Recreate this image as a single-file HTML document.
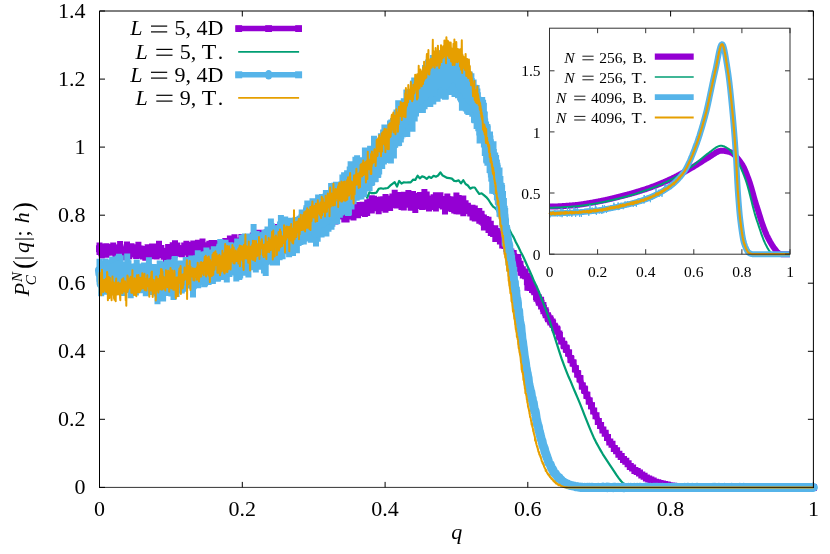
<!DOCTYPE html>
<html><head><meta charset="utf-8"><title>P_C^N(|q|;h)</title>
<style>html,body{margin:0;padding:0;background:#fff;font-family:"Liberation Serif",serif;}svg{display:block;will-change:transform}</style></head>
<body>
<svg width="830" height="554" viewBox="0 0 830 554">
<rect width="830" height="554" fill="#fff"/>
<g font-family="'Liberation Serif', serif" font-size="22" fill="#000">
<text x="85.5" y="494.3" text-anchor="end">0</text>
<text x="85.5" y="426.2" text-anchor="end">0.2</text>
<text x="85.5" y="358.2" text-anchor="end">0.4</text>
<text x="85.5" y="290.1" text-anchor="end">0.6</text>
<text x="85.5" y="222.1" text-anchor="end">0.8</text>
<text x="85.5" y="154.0" text-anchor="end">1</text>
<text x="85.5" y="86.0" text-anchor="end">1.2</text>
<text x="85.5" y="17.9" text-anchor="end">1.4</text>
<text x="99.5" y="516" text-anchor="middle">0</text>
<text x="242.3" y="516" text-anchor="middle">0.2</text>
<text x="385.1" y="516" text-anchor="middle">0.4</text>
<text x="527.8" y="516" text-anchor="middle">0.6</text>
<text x="670.6" y="516" text-anchor="middle">0.8</text>
<text x="813.4" y="516" text-anchor="middle">1</text>
</g>
<path d="M99.5 487.4h5.5M813.4 487.4h-5.5M99.5 419.3h5.5M813.4 419.3h-5.5M99.5 351.3h5.5M813.4 351.3h-5.5M99.5 283.2h5.5M813.4 283.2h-5.5M99.5 215.2h5.5M813.4 215.2h-5.5M99.5 147.1h5.5M813.4 147.1h-5.5M99.5 79.1h5.5M813.4 79.1h-5.5M99.5 11.0h5.5M813.4 11.0h-5.5M99.5 487.4v-5.5M99.5 11.0v5.5M242.3 487.4v-5.5M242.3 11.0v5.5M385.1 487.4v-5.5M385.1 11.0v5.5M527.8 487.4v-5.5M527.8 11.0v5.5M670.6 487.4v-5.5M670.6 11.0v5.5M813.4 487.4v-5.5M813.4 11.0v5.5" stroke="#000" stroke-width="1" fill="none"/>
<g id="main-data">
<path d="M99.5 242.6V254.9M101.8 247.0V258.6M104.1 243.5V255.7M106.4 243.3V257.7M108.7 245.9V255.7M110.9 244.1V255.5M113.2 242.5V255.2M115.5 246.5V257.2M117.8 244.5V258.4M120.1 241.1V254.9M122.4 248.5V260.3M124.7 247.5V257.2M127.0 241.6V257.9M129.2 245.2V259.3M131.5 243.2V257.3M133.8 244.2V257.6M136.1 245.6V258.9M138.4 241.8V256.7M140.7 245.5V258.7M143.0 247.4V259.5M145.3 246.0V260.8M147.6 244.3V257.8M149.8 247.0V258.8M152.1 243.4V254.9M154.4 243.5V259.2M156.7 244.9V259.5M159.0 240.8V258.1M161.3 245.1V257.4M163.6 247.9V259.8M165.9 247.9V262.2M168.1 244.1V260.3M170.4 244.8V259.5M172.7 242.2V256.6M175.0 240.2V257.5M177.3 242.4V254.4M179.6 245.6V256.7M181.9 245.3V257.3M184.2 242.5V255.5M186.4 240.8V255.1M188.7 242.1V257.8M191.0 242.6V257.1M193.3 240.6V257.4M195.6 244.9V256.9M197.9 239.8V257.4M200.2 242.4V254.4M202.5 238.6V254.7M204.8 242.3V254.2M207.0 242.6V257.1M209.3 240.7V254.6M211.6 240.0V254.8M213.9 240.0V255.3M216.2 240.4V253.8M218.5 240.4V254.1M220.8 239.7V254.1M223.1 241.1V252.3M225.3 238.1V250.4M227.6 240.3V250.8M229.9 235.4V249.3M232.2 235.5V254.1M234.5 234.3V249.8M236.8 237.4V249.5M239.1 237.6V250.1M241.4 234.1V250.1M243.7 235.9V248.9M245.9 234.0V244.6M248.2 234.0V245.9M250.5 235.9V247.7M252.8 232.5V244.4M255.1 232.8V248.4M257.4 229.8V244.1M259.7 231.6V242.6M262.0 229.7V242.7M264.2 231.3V243.1M266.5 231.5V243.2M268.8 228.8V239.8M271.1 225.9V243.9M273.4 230.2V243.8M275.7 225.6V241.2M278.0 223.9V240.1M280.3 226.3V239.9M282.6 223.7V239.2M284.8 222.2V237.8M287.1 220.2V235.1M289.4 221.2V240.3M291.7 220.3V235.4M294.0 220.9V234.9M296.3 217.6V233.5M298.6 219.1V237.5M300.9 218.3V235.0M303.1 219.5V233.0M305.4 217.4V230.2M307.7 217.6V230.2M310.0 217.2V230.4M312.3 215.5V231.0M314.6 213.2V229.8M316.9 215.4V225.1M319.2 211.8V226.4M321.4 211.7V224.0M323.7 208.7V225.0M326.0 209.7V226.6M328.3 210.0V223.1M330.6 206.4V220.2M332.9 209.0V221.8M335.2 208.7V224.5M337.5 208.3V219.6M339.8 204.8V217.1M342.0 206.2V219.6M344.3 204.8V222.5M346.6 202.0V222.4M348.9 203.1V218.2M351.2 207.4V219.6M353.5 205.4V220.6M355.8 202.9V216.0M358.1 202.1V218.2M360.3 202.7V215.2M362.6 201.8V216.1M364.9 201.7V216.9M367.2 199.6V215.9M369.5 198.5V213.6M371.8 195.3V213.4M374.1 195.8V211.3M376.4 198.7V209.8M378.7 196.9V214.3M380.9 196.6V211.2M383.2 196.3V210.1M385.5 193.9V212.7M387.8 196.2V209.2M390.1 195.5V211.0M392.4 193.6V207.4M394.7 189.8V208.3M397.0 193.9V208.5M399.2 191.9V207.9M401.5 197.8V210.0M403.8 191.7V210.6M406.1 194.4V207.4M408.4 190.1V207.8M410.7 192.6V210.7M413.0 191.1V209.5M415.3 193.0V212.9M417.6 196.1V209.0M419.8 191.9V208.5M422.1 194.0V210.0M424.4 189.0V205.7M426.7 191.4V209.7M429.0 195.5V211.5M431.3 196.0V209.8M433.6 194.3V209.9M435.9 192.2V211.6M438.1 193.4V206.5M440.4 192.2V208.2M442.7 195.9V209.5M445.0 195.9V214.4M447.3 193.5V205.4M449.6 196.3V211.4M451.9 196.4V212.1M454.2 197.2V213.5M456.4 192.5V214.2M458.7 194.9V214.5M461.0 199.8V213.1M463.3 195.6V216.2M465.6 200.3V213.0M467.9 202.8V213.9M470.2 204.8V216.6M472.5 204.8V220.4M474.8 205.4V221.5M477.0 210.3V220.2M479.3 208.0V223.7M481.6 210.7V224.7M483.9 214.5V230.5M486.2 216.0V229.5M488.5 216.7V232.9M490.8 220.8V236.1M493.1 225.4V236.9M495.3 225.2V242.0M497.6 227.9V242.0M499.9 229.5V244.5M502.2 232.4V248.4M504.5 237.6V249.0M506.8 241.7V254.7M509.1 244.4V255.8M511.4 248.5V259.6M513.7 250.1V263.4M515.9 255.5V268.8M518.2 254.0V269.0M520.5 260.7V275.7M522.8 266.3V278.5M525.1 268.6V279.3M527.4 272.9V290.7M529.7 275.3V290.9M532.0 281.4V292.9M534.2 285.3V295.2M536.5 291.2V301.8M538.8 294.2V305.7M541.1 296.8V309.6M543.4 302.1V314.3M545.7 307.2V318.3M548.0 312.3V322.3M550.3 315.2V325.5M552.6 318.5V328.0M554.8 322.7V332.5M557.1 325.4V334.8M559.4 330.5V340.6M561.7 337.7V344.3M564.0 340.7V349.2M566.3 344.6V353.0M568.6 349.6V356.7M570.9 355.1V363.3M573.1 359.6V366.5M575.4 365.2V372.4M577.7 370.1V377.6M580.0 375.1V382.5M582.3 382.6V389.4M584.6 385.6V394.0M586.9 391.7V399.0M589.2 397.4V404.6M591.5 402.4V409.3M593.7 408.0V413.8M596.0 413.0V418.5M598.3 418.0V424.8M600.6 422.7V428.3M602.9 428.0V432.2M605.2 431.4V435.2M607.5 434.7V440.3M609.8 439.6V444.2M612.0 441.8V446.8M614.3 446.3V450.8M616.6 448.5V453.0M618.9 451.9V456.4M621.2 454.7V458.3M623.5 457.3V461.5M625.8 459.0V463.7M628.1 461.6V466.0M630.3 465.1V467.9M632.6 466.4V469.3M634.9 469.1V471.9M637.2 469.9V473.2M639.5 471.2V474.8M641.8 473.3V476.5M644.1 475.2V477.3M646.4 476.6V479.4M648.7 477.5V480.4M650.9 479.0V481.2M653.2 479.6V482.5M655.5 481.4V483.2M657.8 481.7V483.9M660.1 482.3V484.6M662.4 483.2V484.5M664.7 483.8V485.1M667.0 484.4V485.8M669.2 484.9V486.5M671.5 485.7V486.5M673.8 485.7V486.8M676.1 486.2V487.2M678.4 486.5V487.4M680.7 486.7V487.5M683.0 487.0V487.8M685.3 486.8V487.6M687.6 487.1V487.8M689.8 487.1V488.1M692.1 487.0V487.7M694.4 487.0V487.8M696.7 486.9V487.6M699.0 487.0V487.7M701.3 487.1V487.9M703.6 487.0V487.7M705.9 487.0V487.8M708.1 486.9V487.8M710.4 487.0V487.8M712.7 487.1V487.8M715.0 487.0V487.8M719.6 487.1V487.8M728.7 487.0V487.7M733.3 487.1V487.7" stroke="#9400d3" stroke-width="6" fill="none"/>
<polyline points="99.5,248.8 101.8,252.8 104.1,249.6 106.4,250.5 108.7,250.8 110.9,249.8 113.2,248.8 115.5,251.9 117.8,251.4 120.1,248.0 122.4,254.4 124.7,252.4 127.0,249.8 129.2,252.3 131.5,250.2 133.8,250.9 136.1,252.3 138.4,249.3 140.7,252.1 143.0,253.4 145.3,253.4 147.6,251.1 149.8,252.9 152.1,249.1 154.4,251.3 156.7,252.2 159.0,249.4 161.3,251.3 163.6,253.9 165.9,255.1 168.1,252.2 170.4,252.2 172.7,249.4 175.0,248.9 177.3,248.4 179.6,251.2 181.9,251.3 184.2,249.0 186.4,247.9 188.7,250.0 191.0,249.8 193.3,249.0 195.6,250.9 197.9,248.6 200.2,248.4 202.5,246.6 204.8,248.3 207.0,249.8 209.3,247.6 211.6,247.4 213.9,247.6 216.2,247.1 218.5,247.2 220.8,246.9 223.1,246.7 225.3,244.3 227.6,245.6 229.9,242.3 232.2,244.8 234.5,242.1 236.8,243.5 239.1,243.9 241.4,242.1 243.7,242.4 245.9,239.3 248.2,240.0 250.5,241.8 252.8,238.5 255.1,240.6 257.4,237.0 259.7,237.1 262.0,236.2 264.2,237.2 266.5,237.3 268.8,234.3 271.1,234.9 273.4,237.0 275.7,233.4 278.0,232.0 280.3,233.1 282.6,231.5 284.8,230.0 287.1,227.6 289.4,230.8 291.7,227.9 294.0,227.9 296.3,225.5 298.6,228.3 300.9,226.7 303.1,226.2 305.4,223.8 307.7,223.9 310.0,223.8 312.3,223.3 314.6,221.5 316.9,220.2 319.2,219.1 321.4,217.8 323.7,216.8 326.0,218.2 328.3,216.6 330.6,213.3 332.9,215.4 335.2,216.6 337.5,213.9 339.8,211.0 342.0,212.9 344.3,213.7 346.6,212.2 348.9,210.7 351.2,213.5 353.5,213.0 355.8,209.4 358.1,210.2 360.3,208.9 362.6,208.9 364.9,209.3 367.2,207.7 369.5,206.0 371.8,204.4 374.1,203.6 376.4,204.3 378.7,205.6 380.9,203.9 383.2,203.2 385.5,203.3 387.8,202.7 390.1,203.2 392.4,200.5 394.7,199.0 397.0,201.2 399.2,199.9 401.5,203.9 403.8,201.1 406.1,200.9 408.4,198.9 410.7,201.6 413.0,200.3 415.3,202.9 417.6,202.5 419.8,200.2 422.1,202.0 424.4,197.4 426.7,200.5 429.0,203.5 431.3,202.9 433.6,202.1 435.9,201.9 438.1,199.9 440.4,200.2 442.7,202.7 445.0,205.2 447.3,199.4 449.6,203.9 451.9,204.3 454.2,205.3 456.4,203.3 458.7,204.7 461.0,206.5 463.3,205.9 465.6,206.7 467.9,208.3 470.2,210.7 472.5,212.6 474.8,213.4 477.0,215.2 479.3,215.9 481.6,217.7 483.9,222.5 486.2,222.8 488.5,224.8 490.8,228.5 493.1,231.2 495.3,233.6 497.6,234.9 499.9,237.0 502.2,240.4 504.5,243.3 506.8,248.2 509.1,250.1 511.4,254.0 513.7,256.7 515.9,262.2 518.2,261.5 520.5,268.2 522.8,272.4 525.1,274.0 527.4,281.8 529.7,283.1 532.0,287.1 534.2,290.2 536.5,296.5 538.8,299.9 541.1,303.2 543.4,308.2 545.7,312.8 548.0,317.3 550.3,320.3 552.6,323.2 554.8,327.6 557.1,330.1 559.4,335.6 561.7,341.0 564.0,345.0 566.3,348.8 568.6,353.1 570.9,359.2 573.1,363.1 575.4,368.8 577.7,373.9 580.0,378.8 582.3,386.0 584.6,389.8 586.9,395.3 589.2,401.0 591.5,405.8 593.7,410.9 596.0,415.8 598.3,421.4 600.6,425.5 602.9,430.1 605.2,433.3 607.5,437.5 609.8,441.9 612.0,444.3 614.3,448.6 616.6,450.7 618.9,454.2 621.2,456.5 623.5,459.4 625.8,461.3 628.1,463.8 630.3,466.5 632.6,467.9 634.9,470.5 637.2,471.5 639.5,473.0 641.8,474.9 644.1,476.2 646.4,478.0 648.7,479.0 650.9,480.1 653.2,481.0 655.5,482.3 657.8,482.8 660.1,483.5 662.4,483.9 664.7,484.5 667.0,485.1 669.2,485.7 671.5,486.1 673.8,486.2 676.1,486.7 678.4,486.9 680.7,487.1 683.0,487.4 685.3,487.2 687.6,487.4 689.8,487.6 692.1,487.3 694.4,487.4 696.7,487.2 699.0,487.3 701.3,487.5 703.6,487.3 705.9,487.4 708.1,487.4 710.4,487.4 712.7,487.4 715.0,487.4 717.3,487.5 719.6,487.5 721.9,487.4 724.2,487.5 726.5,487.5 728.7,487.3 731.0,487.4 733.3,487.4 735.6,487.5 737.9,487.4 740.2,487.3 742.5,487.4 744.8,487.3 747.0,487.4 749.3,487.5 751.6,487.4 753.9,487.4 756.2,487.4 758.5,487.4 760.8,487.4 763.1,487.4 765.3,487.4 767.6,487.4 769.9,487.4 772.2,487.4 774.5,487.4 776.8,487.4 779.1,487.4 781.4,487.4 783.7,487.4 785.9,487.4 788.2,487.4 790.5,487.4 792.8,487.4 795.1,487.4 797.4,487.4 799.7,487.4 802.0,487.4 804.2,487.4 806.5,487.4 808.8,487.4 811.1,487.4 813.4,487.4" stroke="#9400d3" stroke-width="5.5" fill="none" stroke-linejoin="round"/>
<path d="M96.0 245.3h7.0v7.0h-7.0zM98.3 249.3h7.0v7.0h-7.0zM100.6 246.1h7.0v7.0h-7.0zM102.9 247.0h7.0v7.0h-7.0zM105.2 247.3h7.0v7.0h-7.0zM107.4 246.3h7.0v7.0h-7.0zM109.7 245.3h7.0v7.0h-7.0zM112.0 248.4h7.0v7.0h-7.0zM114.3 247.9h7.0v7.0h-7.0zM116.6 244.5h7.0v7.0h-7.0zM118.9 250.9h7.0v7.0h-7.0zM121.2 248.9h7.0v7.0h-7.0zM123.5 246.3h7.0v7.0h-7.0zM125.7 248.8h7.0v7.0h-7.0zM128.0 246.7h7.0v7.0h-7.0zM130.3 247.4h7.0v7.0h-7.0zM132.6 248.8h7.0v7.0h-7.0zM134.9 245.8h7.0v7.0h-7.0zM137.2 248.6h7.0v7.0h-7.0zM139.5 249.9h7.0v7.0h-7.0zM141.8 249.9h7.0v7.0h-7.0zM144.1 247.6h7.0v7.0h-7.0zM146.3 249.4h7.0v7.0h-7.0zM148.6 245.6h7.0v7.0h-7.0zM150.9 247.8h7.0v7.0h-7.0zM153.2 248.7h7.0v7.0h-7.0zM155.5 245.9h7.0v7.0h-7.0zM157.8 247.8h7.0v7.0h-7.0zM160.1 250.4h7.0v7.0h-7.0zM162.4 251.6h7.0v7.0h-7.0zM164.6 248.7h7.0v7.0h-7.0zM166.9 248.7h7.0v7.0h-7.0zM169.2 245.9h7.0v7.0h-7.0zM171.5 245.4h7.0v7.0h-7.0zM173.8 244.9h7.0v7.0h-7.0zM176.1 247.7h7.0v7.0h-7.0zM178.4 247.8h7.0v7.0h-7.0zM180.7 245.5h7.0v7.0h-7.0zM182.9 244.4h7.0v7.0h-7.0zM185.2 246.5h7.0v7.0h-7.0zM187.5 246.3h7.0v7.0h-7.0zM189.8 245.5h7.0v7.0h-7.0zM192.1 247.4h7.0v7.0h-7.0zM194.4 245.1h7.0v7.0h-7.0zM196.7 244.9h7.0v7.0h-7.0zM199.0 243.1h7.0v7.0h-7.0zM201.3 244.8h7.0v7.0h-7.0zM203.5 246.3h7.0v7.0h-7.0zM205.8 244.1h7.0v7.0h-7.0zM208.1 243.9h7.0v7.0h-7.0zM210.4 244.1h7.0v7.0h-7.0zM212.7 243.6h7.0v7.0h-7.0zM215.0 243.7h7.0v7.0h-7.0zM217.3 243.4h7.0v7.0h-7.0zM219.6 243.2h7.0v7.0h-7.0zM221.8 240.8h7.0v7.0h-7.0zM224.1 242.1h7.0v7.0h-7.0zM226.4 238.8h7.0v7.0h-7.0zM228.7 241.3h7.0v7.0h-7.0zM231.0 238.6h7.0v7.0h-7.0zM233.3 240.0h7.0v7.0h-7.0zM235.6 240.4h7.0v7.0h-7.0zM237.9 238.6h7.0v7.0h-7.0zM240.2 238.9h7.0v7.0h-7.0zM242.4 235.8h7.0v7.0h-7.0zM244.7 236.5h7.0v7.0h-7.0zM247.0 238.3h7.0v7.0h-7.0zM249.3 235.0h7.0v7.0h-7.0zM251.6 237.1h7.0v7.0h-7.0zM253.9 233.5h7.0v7.0h-7.0zM256.2 233.6h7.0v7.0h-7.0zM258.5 232.7h7.0v7.0h-7.0zM260.7 233.7h7.0v7.0h-7.0zM263.0 233.8h7.0v7.0h-7.0zM265.3 230.8h7.0v7.0h-7.0zM267.6 231.4h7.0v7.0h-7.0zM269.9 233.5h7.0v7.0h-7.0zM272.2 229.9h7.0v7.0h-7.0zM274.5 228.5h7.0v7.0h-7.0zM276.8 229.6h7.0v7.0h-7.0zM279.1 228.0h7.0v7.0h-7.0zM281.3 226.5h7.0v7.0h-7.0zM283.6 224.1h7.0v7.0h-7.0zM285.9 227.3h7.0v7.0h-7.0zM288.2 224.4h7.0v7.0h-7.0zM290.5 224.4h7.0v7.0h-7.0zM292.8 222.0h7.0v7.0h-7.0zM295.1 224.8h7.0v7.0h-7.0zM297.4 223.2h7.0v7.0h-7.0zM299.6 222.7h7.0v7.0h-7.0zM301.9 220.3h7.0v7.0h-7.0zM304.2 220.4h7.0v7.0h-7.0zM306.5 220.3h7.0v7.0h-7.0zM308.8 219.8h7.0v7.0h-7.0zM311.1 218.0h7.0v7.0h-7.0zM313.4 216.7h7.0v7.0h-7.0zM315.7 215.6h7.0v7.0h-7.0zM317.9 214.3h7.0v7.0h-7.0zM320.2 213.3h7.0v7.0h-7.0zM322.5 214.7h7.0v7.0h-7.0zM324.8 213.1h7.0v7.0h-7.0zM327.1 209.8h7.0v7.0h-7.0zM329.4 211.9h7.0v7.0h-7.0zM331.7 213.1h7.0v7.0h-7.0zM334.0 210.4h7.0v7.0h-7.0zM336.3 207.5h7.0v7.0h-7.0zM338.5 209.4h7.0v7.0h-7.0zM340.8 210.2h7.0v7.0h-7.0zM343.1 208.7h7.0v7.0h-7.0zM345.4 207.2h7.0v7.0h-7.0zM347.7 210.0h7.0v7.0h-7.0zM350.0 209.5h7.0v7.0h-7.0zM352.3 205.9h7.0v7.0h-7.0zM354.6 206.7h7.0v7.0h-7.0zM356.8 205.4h7.0v7.0h-7.0zM359.1 205.4h7.0v7.0h-7.0zM361.4 205.8h7.0v7.0h-7.0zM363.7 204.2h7.0v7.0h-7.0zM366.0 202.5h7.0v7.0h-7.0zM368.3 200.9h7.0v7.0h-7.0zM370.6 200.1h7.0v7.0h-7.0zM372.9 200.8h7.0v7.0h-7.0zM375.2 202.1h7.0v7.0h-7.0zM377.4 200.4h7.0v7.0h-7.0zM379.7 199.7h7.0v7.0h-7.0zM382.0 199.8h7.0v7.0h-7.0zM384.3 199.2h7.0v7.0h-7.0zM386.6 199.7h7.0v7.0h-7.0zM388.9 197.0h7.0v7.0h-7.0zM391.2 195.5h7.0v7.0h-7.0zM393.5 197.7h7.0v7.0h-7.0zM395.7 196.4h7.0v7.0h-7.0zM398.0 200.4h7.0v7.0h-7.0zM400.3 197.6h7.0v7.0h-7.0zM402.6 197.4h7.0v7.0h-7.0zM404.9 195.4h7.0v7.0h-7.0zM407.2 198.1h7.0v7.0h-7.0zM409.5 196.8h7.0v7.0h-7.0zM411.8 199.4h7.0v7.0h-7.0zM414.1 199.0h7.0v7.0h-7.0zM416.3 196.7h7.0v7.0h-7.0zM418.6 198.5h7.0v7.0h-7.0zM420.9 193.9h7.0v7.0h-7.0zM423.2 197.0h7.0v7.0h-7.0zM425.5 200.0h7.0v7.0h-7.0zM427.8 199.4h7.0v7.0h-7.0zM430.1 198.6h7.0v7.0h-7.0zM432.4 198.4h7.0v7.0h-7.0zM434.6 196.4h7.0v7.0h-7.0zM436.9 196.7h7.0v7.0h-7.0zM439.2 199.2h7.0v7.0h-7.0zM441.5 201.7h7.0v7.0h-7.0zM443.8 195.9h7.0v7.0h-7.0zM446.1 200.4h7.0v7.0h-7.0zM448.4 200.8h7.0v7.0h-7.0zM450.7 201.8h7.0v7.0h-7.0zM452.9 199.8h7.0v7.0h-7.0zM455.2 201.2h7.0v7.0h-7.0zM457.5 203.0h7.0v7.0h-7.0zM459.8 202.4h7.0v7.0h-7.0zM462.1 203.2h7.0v7.0h-7.0zM464.4 204.8h7.0v7.0h-7.0zM466.7 207.2h7.0v7.0h-7.0zM469.0 209.1h7.0v7.0h-7.0zM471.3 209.9h7.0v7.0h-7.0zM473.5 211.7h7.0v7.0h-7.0zM475.8 212.4h7.0v7.0h-7.0zM478.1 214.2h7.0v7.0h-7.0zM480.4 219.0h7.0v7.0h-7.0zM482.7 219.3h7.0v7.0h-7.0zM485.0 221.3h7.0v7.0h-7.0zM487.3 225.0h7.0v7.0h-7.0zM489.6 227.7h7.0v7.0h-7.0zM491.8 230.1h7.0v7.0h-7.0zM494.1 231.4h7.0v7.0h-7.0zM496.4 233.5h7.0v7.0h-7.0zM498.7 236.9h7.0v7.0h-7.0zM501.0 239.8h7.0v7.0h-7.0zM503.3 244.7h7.0v7.0h-7.0zM505.6 246.6h7.0v7.0h-7.0zM507.9 250.5h7.0v7.0h-7.0zM510.2 253.2h7.0v7.0h-7.0zM512.4 258.7h7.0v7.0h-7.0zM514.7 258.0h7.0v7.0h-7.0zM517.0 264.7h7.0v7.0h-7.0zM519.3 268.9h7.0v7.0h-7.0zM521.6 270.5h7.0v7.0h-7.0zM523.9 278.3h7.0v7.0h-7.0zM526.2 279.6h7.0v7.0h-7.0zM528.5 283.6h7.0v7.0h-7.0zM530.7 286.7h7.0v7.0h-7.0zM533.0 293.0h7.0v7.0h-7.0zM535.3 296.4h7.0v7.0h-7.0zM537.6 299.7h7.0v7.0h-7.0zM539.9 304.7h7.0v7.0h-7.0zM542.2 309.3h7.0v7.0h-7.0zM544.5 313.8h7.0v7.0h-7.0zM546.8 316.8h7.0v7.0h-7.0zM549.1 319.7h7.0v7.0h-7.0zM551.3 324.1h7.0v7.0h-7.0zM553.6 326.6h7.0v7.0h-7.0zM555.9 332.1h7.0v7.0h-7.0zM558.2 337.5h7.0v7.0h-7.0zM560.5 341.5h7.0v7.0h-7.0zM562.8 345.3h7.0v7.0h-7.0zM565.1 349.6h7.0v7.0h-7.0zM567.4 355.7h7.0v7.0h-7.0zM569.6 359.6h7.0v7.0h-7.0zM571.9 365.3h7.0v7.0h-7.0zM574.2 370.4h7.0v7.0h-7.0zM576.5 375.3h7.0v7.0h-7.0zM578.8 382.5h7.0v7.0h-7.0zM581.1 386.3h7.0v7.0h-7.0zM583.4 391.8h7.0v7.0h-7.0zM585.7 397.5h7.0v7.0h-7.0zM588.0 402.3h7.0v7.0h-7.0zM590.2 407.4h7.0v7.0h-7.0zM592.5 412.3h7.0v7.0h-7.0zM594.8 417.9h7.0v7.0h-7.0zM597.1 422.0h7.0v7.0h-7.0zM599.4 426.6h7.0v7.0h-7.0zM601.7 429.8h7.0v7.0h-7.0zM604.0 434.0h7.0v7.0h-7.0zM606.3 438.4h7.0v7.0h-7.0zM608.5 440.8h7.0v7.0h-7.0zM610.8 445.1h7.0v7.0h-7.0zM613.1 447.2h7.0v7.0h-7.0zM615.4 450.7h7.0v7.0h-7.0zM617.7 453.0h7.0v7.0h-7.0zM620.0 455.9h7.0v7.0h-7.0zM622.3 457.8h7.0v7.0h-7.0zM624.6 460.3h7.0v7.0h-7.0zM626.8 463.0h7.0v7.0h-7.0zM629.1 464.4h7.0v7.0h-7.0zM631.4 467.0h7.0v7.0h-7.0zM633.7 468.0h7.0v7.0h-7.0zM636.0 469.5h7.0v7.0h-7.0zM638.3 471.4h7.0v7.0h-7.0zM640.6 472.7h7.0v7.0h-7.0zM642.9 474.5h7.0v7.0h-7.0zM645.2 475.5h7.0v7.0h-7.0zM647.4 476.6h7.0v7.0h-7.0zM649.7 477.5h7.0v7.0h-7.0zM652.0 478.8h7.0v7.0h-7.0zM654.3 479.3h7.0v7.0h-7.0zM656.6 480.0h7.0v7.0h-7.0zM658.9 480.4h7.0v7.0h-7.0zM661.2 481.0h7.0v7.0h-7.0zM663.5 481.6h7.0v7.0h-7.0zM665.7 482.2h7.0v7.0h-7.0zM668.0 482.6h7.0v7.0h-7.0zM670.3 482.7h7.0v7.0h-7.0zM672.6 483.2h7.0v7.0h-7.0zM674.9 483.4h7.0v7.0h-7.0zM677.2 483.6h7.0v7.0h-7.0zM679.5 483.9h7.0v7.0h-7.0zM681.8 483.7h7.0v7.0h-7.0zM684.1 483.9h7.0v7.0h-7.0zM686.3 484.1h7.0v7.0h-7.0zM688.6 483.8h7.0v7.0h-7.0zM690.9 483.9h7.0v7.0h-7.0zM693.2 483.7h7.0v7.0h-7.0zM695.5 483.8h7.0v7.0h-7.0zM697.8 484.0h7.0v7.0h-7.0zM700.1 483.8h7.0v7.0h-7.0zM702.4 483.9h7.0v7.0h-7.0zM704.6 483.9h7.0v7.0h-7.0zM706.9 483.9h7.0v7.0h-7.0zM709.2 483.9h7.0v7.0h-7.0zM711.5 483.9h7.0v7.0h-7.0zM713.8 484.0h7.0v7.0h-7.0zM716.1 484.0h7.0v7.0h-7.0zM718.4 483.9h7.0v7.0h-7.0zM720.7 484.0h7.0v7.0h-7.0zM723.0 484.0h7.0v7.0h-7.0zM725.2 483.8h7.0v7.0h-7.0zM727.5 483.9h7.0v7.0h-7.0zM729.8 483.9h7.0v7.0h-7.0zM732.1 484.0h7.0v7.0h-7.0zM734.4 483.9h7.0v7.0h-7.0zM736.7 483.8h7.0v7.0h-7.0zM739.0 483.9h7.0v7.0h-7.0zM741.3 483.8h7.0v7.0h-7.0zM743.5 483.9h7.0v7.0h-7.0zM745.8 484.0h7.0v7.0h-7.0zM748.1 483.9h7.0v7.0h-7.0zM750.4 483.9h7.0v7.0h-7.0zM752.7 483.9h7.0v7.0h-7.0zM755.0 483.9h7.0v7.0h-7.0zM757.3 483.9h7.0v7.0h-7.0zM759.6 483.9h7.0v7.0h-7.0zM761.8 483.9h7.0v7.0h-7.0zM764.1 483.9h7.0v7.0h-7.0zM766.4 483.9h7.0v7.0h-7.0zM768.7 483.9h7.0v7.0h-7.0zM771.0 483.9h7.0v7.0h-7.0zM773.3 483.9h7.0v7.0h-7.0zM775.6 483.9h7.0v7.0h-7.0zM777.9 483.9h7.0v7.0h-7.0zM780.2 483.9h7.0v7.0h-7.0zM782.4 483.9h7.0v7.0h-7.0zM784.7 483.9h7.0v7.0h-7.0zM787.0 483.9h7.0v7.0h-7.0zM789.3 483.9h7.0v7.0h-7.0zM791.6 483.9h7.0v7.0h-7.0zM793.9 483.9h7.0v7.0h-7.0zM796.2 483.9h7.0v7.0h-7.0zM798.5 483.9h7.0v7.0h-7.0zM800.7 483.9h7.0v7.0h-7.0zM803.0 483.9h7.0v7.0h-7.0zM805.3 483.9h7.0v7.0h-7.0zM807.6 483.9h7.0v7.0h-7.0zM809.9 483.9h7.0v7.0h-7.0z" fill="#9400d3"/>
<polyline points="99.5,274.8 101.8,275.8 104.1,277.6 106.4,275.0 108.7,271.7 110.9,276.9 113.2,274.5 115.5,276.6 117.8,274.0 120.1,275.2 122.4,274.5 124.7,274.7 127.0,276.7 129.2,273.6 131.5,275.0 133.8,275.0 136.1,274.1 138.4,271.2 140.7,275.3 143.0,270.1 145.3,272.3 147.6,274.0 149.8,275.4 152.1,276.1 154.4,276.0 156.7,275.7 159.0,274.1 161.3,276.6 163.6,274.3 165.9,276.5 168.1,271.1 170.4,273.2 172.7,273.8 175.0,274.6 177.3,270.6 179.6,275.6 181.9,275.7 184.2,275.1 186.4,272.7 188.7,275.5 191.0,271.9 193.3,273.8 195.6,271.7 197.9,271.3 200.2,270.5 202.5,270.2 204.8,271.4 207.0,271.3 209.3,270.6 211.6,269.1 213.9,268.1 216.2,267.0 218.5,268.4 220.8,264.1 223.1,263.1 225.3,263.4 227.6,259.9 229.9,261.4 232.2,260.9 234.5,258.6 236.8,258.6 239.1,259.9 241.4,257.6 243.7,257.3 245.9,258.1 248.2,254.6 250.5,252.8 252.8,253.6 255.1,253.4 257.4,248.8 259.7,251.7 262.0,249.0 264.2,247.7 266.5,245.9 268.8,245.8 271.1,246.4 273.4,244.4 275.7,243.6 278.0,240.5 280.3,242.3 282.6,240.5 284.8,237.1 287.1,231.6 289.4,234.5 291.7,237.5 294.0,231.6 296.3,228.7 298.6,231.7 300.9,226.7 303.1,227.1 305.4,226.2 307.7,221.3 310.0,222.5 312.3,222.9 314.6,219.2 316.9,219.5 319.2,217.0 321.4,217.2 323.7,217.1 326.0,211.0 328.3,210.9 330.6,210.7 332.9,207.8 335.2,206.3 337.5,206.0 339.8,205.1 342.0,203.5 344.3,204.1 346.6,203.9 348.9,202.9 351.2,201.9 353.5,201.9 355.8,196.9 358.1,198.0 360.3,197.7 362.6,197.3 364.9,193.0 367.2,197.7 369.5,192.3 371.8,193.2 374.1,193.1 376.4,192.7 378.7,188.9 380.9,188.3 383.2,188.8 385.5,188.3 387.8,188.0 390.1,185.7 392.4,183.9 394.7,182.2 397.0,186.5 399.2,180.9 401.5,183.6 403.8,182.3 406.1,182.5 408.4,182.3 410.7,182.4 413.0,179.7 415.3,179.9 417.6,175.7 419.8,178.3 422.1,176.3 424.4,177.1 426.7,178.9 429.0,176.7 431.3,178.0 433.6,175.8 435.9,176.7 438.1,175.5 440.4,172.3 442.7,175.6 445.0,176.7 447.3,177.9 449.6,178.2 451.9,178.6 454.2,180.9 456.4,181.1 458.7,180.3 461.0,183.3 463.3,180.2 465.6,184.0 467.9,185.5 470.2,188.7 472.5,187.5 474.8,187.5 477.0,190.8 479.3,194.0 481.6,193.3 483.9,195.1 486.2,197.1 488.5,199.7 490.8,203.5 493.1,206.7 495.3,208.2 497.6,210.8 499.9,215.7 502.2,217.8 504.5,221.5 506.8,225.1 509.1,229.1 511.4,233.6 513.7,237.4 515.9,242.2 518.2,246.5 520.5,251.4 522.8,255.8 525.1,260.8 527.4,266.0 529.7,271.0 532.0,276.1 534.2,281.6 536.5,286.2 538.8,291.5 541.1,297.7 543.4,303.3 545.7,309.7 548.0,315.9 550.3,322.7 552.6,330.4 554.8,337.5 557.1,344.7 559.4,351.9 561.7,358.9 564.0,365.1 566.3,371.1 568.6,376.8 570.9,381.9 573.1,387.3 575.4,392.7 577.7,398.2 580.0,403.7 582.3,409.4 584.6,415.4 586.9,421.2 589.2,426.9 591.5,432.4 593.7,437.4 596.0,442.1 598.3,446.3 600.6,450.4 602.9,454.3 605.2,457.9 607.5,461.4 609.8,464.8 612.0,468.2 614.3,471.7 616.6,475.2 618.9,478.4 621.2,481.3 623.5,483.5 625.8,484.8 628.1,485.8 630.3,486.6 632.6,487.2 634.9,487.4 637.2,487.4 639.5,487.4 641.8,487.4 644.1,487.4 646.4,487.4 648.7,487.4 650.9,487.4 653.2,487.4 655.5,487.4 657.8,487.4 660.1,487.4 662.4,487.4 664.7,487.4 667.0,487.4 669.2,487.4 671.5,487.4 673.8,487.4 676.1,487.4 678.4,487.4 680.7,487.4 683.0,487.4 685.3,487.4 687.6,487.4 689.8,487.4 692.1,487.4 694.4,487.4 696.7,487.4 699.0,487.4 701.3,487.4 703.6,487.4 705.9,487.4 708.1,487.4 710.4,487.4 712.7,487.4 715.0,487.4 717.3,487.4 719.6,487.4 721.9,487.4 724.2,487.4 726.5,487.4 728.7,487.4 731.0,487.4 733.3,487.4 735.6,487.4 737.9,487.4 740.2,487.4 742.5,487.4 744.8,487.4 747.0,487.4 749.3,487.4 751.6,487.4 753.9,487.4 756.2,487.4 758.5,487.4 760.8,487.4 763.1,487.4 765.3,487.4 767.6,487.4 769.9,487.4 772.2,487.4 774.5,487.4 776.8,487.4 779.1,487.4 781.4,487.4 783.7,487.4 785.9,487.4 788.2,487.4 790.5,487.4 792.8,487.4 795.1,487.4 797.4,487.4 799.7,487.4 802.0,487.4 804.2,487.4 806.5,487.4 808.8,487.4 811.1,487.4 813.4,487.4" stroke="#009e73" stroke-width="2.2" fill="none" stroke-linejoin="round"/>
<path d="M99.5 258.8V281.7M99.9 263.5V284.6M100.4 265.5V284.2M100.8 267.2V283.7M101.2 272.6V296.3M101.7 277.4V289.9M102.1 267.0V284.8M102.5 270.1V284.4M103.0 263.1V281.0M103.4 266.5V288.8M103.8 260.8V279.6M104.3 273.4V291.8M104.7 264.2V283.8M105.1 266.0V291.8M105.6 258.5V282.6M106.0 272.5V293.0M106.4 270.4V288.2M106.9 276.1V294.7M107.3 266.5V287.4M107.7 259.8V278.9M108.2 263.4V282.9M108.6 262.7V279.4M109.0 276.1V291.8M109.5 265.7V282.3M109.9 263.1V283.8M110.3 271.0V288.2M110.8 264.2V292.1M111.2 268.3V290.1M111.6 263.7V285.8M112.1 256.5V279.6M112.5 262.5V279.4M112.9 259.0V275.5M113.4 273.3V292.7M113.8 270.3V292.3M114.2 264.6V286.5M114.7 267.4V292.8M115.1 268.1V292.7M115.5 268.4V292.0M116.0 267.9V291.7M116.4 270.8V292.0M116.8 266.3V289.4M117.3 257.6V277.2M117.7 255.4V274.6M118.1 271.5V295.0M118.5 272.6V288.0M119.0 253.7V278.7M119.4 265.2V291.6M119.8 264.1V283.3M120.3 263.7V286.7M120.7 255.3V276.5M121.1 272.4V290.1M121.6 266.4V288.3M122.0 270.2V292.7M122.4 270.7V294.8M122.9 273.7V293.6M123.3 274.7V296.0M123.7 269.7V288.7M124.2 266.8V290.9M124.6 264.7V285.3M125.0 268.5V292.2M125.5 267.4V286.3M125.9 261.9V283.3M126.3 274.3V292.5M126.8 271.9V290.6M127.2 253.5V278.1M127.6 259.3V279.8M128.1 266.6V287.4M128.5 260.2V283.6M128.9 274.4V292.9M129.4 265.3V292.5M129.8 271.4V290.0M130.2 272.5V292.3M130.7 270.2V298.2M131.1 269.0V284.7M131.5 267.6V294.4M132.0 268.1V290.5M132.4 270.4V293.2M132.8 271.8V289.6M133.3 273.8V295.6M133.7 272.1V289.2M134.1 263.8V288.2M134.6 268.5V289.0M135.0 263.4V282.6M135.4 269.8V289.5M135.9 274.8V295.5M136.3 263.3V287.6M136.7 259.4V281.8M137.2 268.4V287.2M137.6 266.6V285.1M138.0 269.2V287.2M138.5 263.6V287.4M138.9 267.1V289.9M139.3 264.6V282.4M139.8 277.3V293.3M140.2 266.6V287.7M140.6 270.8V290.2M141.1 270.2V293.1M141.5 267.0V287.9M141.9 269.0V291.5M142.4 265.0V288.9M142.8 263.7V288.4M143.2 266.8V287.4M143.7 268.5V292.1M144.1 262.5V282.0M144.5 265.2V282.6M145.0 263.3V285.4M145.4 262.8V288.0M145.8 270.4V296.3M146.3 267.3V288.5M146.7 268.7V284.5M147.1 267.4V289.9M147.6 272.5V293.2M148.0 262.8V286.2M148.4 270.2V295.1M148.9 257.2V277.2M149.3 264.3V283.4M149.7 274.6V294.8M150.2 275.4V294.7M150.6 269.7V287.9M151.0 264.8V287.0M151.5 272.1V291.2M151.9 265.7V286.2M152.3 274.7V295.1M152.8 273.5V293.0M153.2 269.6V293.0M153.6 263.9V283.9M154.0 271.6V292.8M154.5 264.6V288.6M154.9 266.1V287.2M155.3 267.4V284.2M155.8 267.2V287.1M156.2 270.0V290.0M156.6 269.8V293.3M157.1 268.1V295.0M157.5 282.1V304.3M157.9 265.5V286.6M158.4 269.8V296.1M158.8 264.9V284.2M159.2 265.4V287.9M159.7 260.6V283.7M160.1 272.4V293.8M160.5 268.2V289.2M161.0 267.0V289.2M161.4 263.6V290.2M161.8 269.9V293.4M162.3 265.2V285.0M162.7 267.9V290.5M163.1 276.5V301.4M163.6 262.9V290.4M164.0 262.2V286.6M164.4 261.4V283.8M164.9 267.9V294.1M165.3 265.2V289.8M165.7 262.6V284.8M166.2 263.5V283.1M166.6 266.2V288.3M167.0 260.0V284.9M167.5 277.6V295.9M167.9 267.8V284.4M168.3 264.4V287.9M168.8 268.1V284.9M169.2 259.8V277.4M169.6 259.6V280.8M170.1 264.6V285.7M170.5 265.7V287.7M170.9 259.9V282.3M171.4 272.8V296.4M171.8 268.0V289.6M172.2 273.1V292.3M172.7 275.7V288.4M173.1 262.5V288.6M173.5 275.5V300.1M174.0 265.0V289.1M174.4 256.7V278.7M174.8 256.0V275.1M175.3 264.5V288.1M175.7 269.3V291.2M176.1 267.7V285.3M176.6 271.3V296.9M177.0 265.9V283.3M177.4 268.2V288.9M177.9 265.2V293.3M178.3 261.2V280.7M178.7 265.7V288.5M179.2 264.4V290.1M179.6 269.4V291.7M180.0 272.2V289.7M180.5 269.5V290.1M180.9 260.6V282.7M181.3 269.8V287.1M181.8 266.3V293.5M182.2 263.3V286.7M182.6 265.8V290.6M183.1 266.5V289.8M183.5 268.1V291.8M183.9 264.1V285.4M184.4 267.8V285.2M184.8 262.7V287.4M185.2 263.0V285.6M185.7 257.1V285.0M186.1 263.0V281.5M186.5 256.9V280.0M187.0 257.6V287.6M187.4 267.6V285.6M187.8 266.9V285.4M188.3 264.9V288.3M188.7 258.2V286.7M189.1 270.0V288.6M189.5 259.2V282.1M190.0 265.1V287.2M190.4 264.0V284.8M190.8 257.9V279.8M191.3 255.4V282.4M191.7 263.9V287.1M192.1 263.0V281.2M192.6 262.7V283.4M193.0 274.3V297.5M193.4 265.1V283.1M193.9 261.7V282.2M194.3 263.9V285.4M194.7 260.5V276.1M195.2 255.4V284.8M195.6 264.2V281.5M196.0 255.3V278.5M196.5 259.2V281.6M196.9 259.1V280.0M197.3 257.1V284.4M197.8 250.3V273.5M198.2 268.1V288.2M198.6 255.8V283.0M199.1 259.7V284.7M199.5 255.0V274.5M199.9 254.4V272.2M200.4 256.2V282.5M200.8 256.2V279.0M201.2 262.9V281.0M201.7 251.9V277.1M202.1 255.0V273.2M202.5 259.6V280.5M203.0 261.4V281.8M203.4 264.4V280.7M203.8 255.0V280.9M204.3 251.2V287.2M204.7 251.3V277.0M205.1 261.3V286.3M205.6 261.6V284.2M206.0 260.9V284.2M206.4 247.6V272.1M206.9 258.3V284.2M207.3 252.7V274.5M207.7 257.3V281.0M208.2 257.3V280.2M208.6 259.5V285.1M209.0 252.1V279.1M209.5 250.9V278.5M209.9 250.5V272.5M210.3 249.6V271.5M210.8 255.5V281.7M211.2 250.1V272.9M211.6 257.2V280.2M212.1 251.0V276.4M212.5 250.1V275.2M212.9 255.3V283.9M213.4 259.3V278.7M213.8 246.3V274.2M214.2 252.8V275.0M214.7 251.4V277.6M215.1 257.9V277.1M215.5 249.1V272.5M216.0 251.3V272.9M216.4 248.3V278.5M216.8 256.8V277.2M217.3 253.8V281.8M217.7 250.5V271.4M218.1 261.6V281.4M218.6 252.6V277.6M219.0 245.4V273.1M219.4 243.8V267.4M219.9 247.3V273.4M220.3 239.1V263.8M220.7 251.4V275.0M221.2 250.3V279.2M221.6 256.0V279.9M222.0 250.7V277.7M222.5 243.9V263.6M222.9 248.6V271.9M223.3 251.0V278.3M223.8 240.0V262.2M224.2 249.1V265.3M224.6 250.5V277.1M225.0 248.0V274.0M225.5 239.7V262.7M225.9 245.9V270.2M226.3 249.0V271.7M226.8 257.1V282.5M227.2 243.9V271.9M227.6 243.0V268.1M228.1 248.9V272.6M228.5 249.9V272.2M228.9 250.2V273.7M229.4 254.8V277.0M229.8 244.9V272.4M230.2 242.3V262.5M230.7 247.9V269.8M231.1 245.9V271.2M231.5 250.3V275.5M232.0 249.7V274.6M232.4 243.3V265.9M232.8 249.1V273.9M233.3 253.0V271.9M233.7 247.4V266.0M234.1 252.1V271.6M234.6 245.3V270.7M235.0 243.4V272.4M235.4 245.0V267.5M235.9 249.5V271.6M236.3 258.6V281.6M236.7 242.2V272.9M237.2 238.4V263.3M237.6 242.9V267.3M238.0 242.3V264.3M238.5 244.4V270.3M238.9 240.7V269.5M239.3 255.0V279.9M239.8 248.3V269.5M240.2 249.6V278.4M240.6 239.8V263.8M241.1 238.7V269.3M241.5 254.3V274.7M241.9 235.0V258.6M242.4 242.6V267.8M242.8 238.2V256.0M243.2 249.2V273.7M243.7 234.3V260.6M244.1 240.7V264.4M244.5 240.1V265.8M245.0 233.4V258.1M245.4 254.6V275.7M245.8 239.2V266.0M246.3 250.3V271.7M246.7 238.3V261.4M247.1 235.4V256.8M247.6 240.7V267.1M248.0 242.4V264.8M248.4 255.1V277.5M248.9 239.3V255.7M249.3 233.4V256.5M249.7 235.0V262.7M250.2 245.2V261.8M250.6 241.9V267.3M251.0 236.3V260.2M251.5 241.1V258.9M251.9 242.8V265.4M252.3 242.8V270.2M252.8 236.4V260.4M253.2 239.1V264.4M253.6 223.9V252.0M254.1 234.8V257.7M254.5 239.1V266.3M254.9 240.7V260.3M255.4 239.1V260.0M255.8 243.3V272.5M256.2 234.3V263.3M256.7 231.1V258.6M257.1 241.5V260.2M257.5 239.1V262.4M258.0 233.8V254.7M258.4 238.7V269.7M258.8 247.8V267.0M259.3 236.6V256.2M259.7 233.9V255.9M260.1 235.9V261.2M260.5 243.6V265.7M261.0 234.4V257.5M261.4 232.4V257.6M261.8 233.4V257.7M262.3 240.6V258.0M262.7 239.2V258.9M263.1 232.1V262.1M263.6 241.3V265.6M264.0 242.9V273.6M264.4 230.0V259.4M264.9 238.1V266.3M265.3 236.2V260.6M265.7 246.3V276.0M266.2 231.4V253.9M266.6 228.9V261.1M267.0 233.8V260.1M267.5 226.4V252.7M267.9 233.7V256.6M268.3 238.2V260.5M268.8 227.3V250.7M269.2 235.0V257.5M269.6 243.3V264.6M270.1 232.2V252.7M270.5 228.3V253.4M270.9 218.6V247.2M271.4 228.6V259.9M271.8 223.3V250.4M272.2 235.1V259.1M272.7 238.7V265.4M273.1 231.5V262.0M273.5 227.7V252.6M274.0 232.8V260.8M274.4 228.4V254.2M274.8 225.5V250.4M275.3 229.5V252.0M275.7 230.6V257.6M276.1 230.3V251.8M276.6 234.6V255.5M277.0 239.7V265.4M277.4 231.1V259.1M277.9 231.7V259.5M278.3 224.9V252.4M278.7 236.3V259.6M279.2 231.1V255.1M279.6 231.8V260.3M280.0 221.4V253.2M280.5 234.5V249.4M280.9 215.0V243.8M281.3 226.1V251.3M281.8 224.1V248.3M282.2 224.3V246.1M282.6 237.0V259.2M283.1 222.2V242.4M283.5 226.0V251.4M283.9 228.0V249.0M284.4 229.6V253.4M284.8 234.0V253.1M285.2 216.6V245.2M285.7 222.3V249.2M286.1 224.6V244.9M286.5 228.2V254.2M287.0 230.7V253.6M287.4 224.9V246.1M287.8 222.3V247.0M288.3 218.5V245.9M288.7 223.7V253.4M289.1 231.9V257.2M289.6 223.9V252.4M290.0 219.4V246.1M290.4 218.5V245.3M290.9 218.3V246.2M291.3 217.8V237.3M291.7 232.0V254.9M292.2 220.5V250.1M292.6 223.3V242.9M293.0 234.4V255.9M293.5 219.6V251.0M293.9 230.6V251.6M294.3 222.5V247.7M294.8 225.9V251.7M295.2 221.7V245.5M295.6 217.1V245.5M296.0 220.6V248.9M296.5 224.7V247.2M296.9 221.6V253.3M297.3 221.8V244.1M297.8 218.7V242.4M298.2 217.2V242.2M298.6 219.5V245.9M299.1 217.9V239.4M299.5 215.8V242.5M299.9 224.3V241.7M300.4 221.0V245.0M300.8 221.1V243.5M301.2 214.4V237.7M301.7 209.6V235.3M302.1 216.9V243.9M302.5 217.7V241.0M303.0 213.6V239.9M303.4 219.0V239.5M303.8 219.6V244.5M304.3 211.7V241.8M304.7 217.4V241.2M305.1 209.8V235.2M305.6 212.5V239.1M306.0 207.6V237.6M306.4 205.2V233.5M306.9 214.9V241.2M307.3 200.6V223.6M307.7 211.1V239.2M308.2 221.1V236.6M308.6 212.2V241.2M309.0 204.9V229.3M309.5 210.3V240.4M309.9 201.5V228.8M310.3 202.8V236.0M310.8 217.7V242.7M311.2 214.0V233.6M311.6 214.4V242.4M312.1 204.2V230.1M312.5 198.3V226.0M312.9 201.7V234.8M313.4 215.5V239.9M313.8 210.1V241.2M314.2 210.0V242.1M314.7 203.4V236.4M315.1 209.8V229.9M315.5 204.4V233.7M316.0 220.7V246.5M316.4 205.9V233.7M316.8 214.8V240.3M317.3 204.1V231.7M317.7 208.5V241.7M318.1 194.6V231.2M318.6 199.2V231.5M319.0 207.2V231.2M319.4 196.9V231.9M319.9 202.8V226.9M320.3 201.7V229.7M320.7 196.2V230.9M321.2 209.7V236.9M321.6 204.5V237.4M322.0 194.1V222.7M322.5 210.7V235.4M322.9 198.9V229.7M323.3 200.3V227.7M323.8 194.2V231.8M324.2 198.7V236.6M324.6 198.1V234.9M325.1 197.6V222.9M325.5 193.5V231.7M325.9 190.1V221.3M326.4 204.6V236.6M326.8 191.8V222.5M327.2 193.0V220.4M327.7 191.9V222.3M328.1 194.0V227.8M328.5 195.1V231.8M329.0 191.6V223.9M329.4 194.3V224.2M329.8 193.2V221.0M330.3 200.4V228.8M330.7 190.6V227.6M331.1 183.0V215.8M331.5 198.9V229.8M332.0 197.2V219.7M332.4 204.7V226.8M332.8 186.7V219.5M333.3 186.9V219.6M333.7 187.0V221.8M334.1 182.7V213.4M334.6 189.2V216.1M335.0 199.0V221.2M335.4 194.1V219.9M335.9 181.8V201.3M336.3 193.4V224.6M336.7 188.1V220.1M337.2 187.9V223.9M337.6 190.9V212.6M338.0 190.3V213.8M338.5 184.7V217.2M338.9 184.9V216.1M339.3 184.4V205.2M339.8 191.1V217.8M340.2 184.9V215.1M340.6 186.3V214.4M341.1 184.0V215.5M341.5 181.2V211.1M341.9 183.3V210.6M342.4 174.5V206.0M342.8 182.9V212.3M343.2 179.7V214.7M343.7 182.6V205.9M344.1 172.3V201.0M344.5 187.6V214.4M345.0 178.9V207.6M345.4 177.7V209.3M345.8 175.3V208.0M346.3 179.7V199.9M346.7 172.8V207.8M347.1 170.3V202.5M347.6 172.5V204.6M348.0 185.9V215.9M348.4 179.2V213.2M348.9 183.9V215.5M349.3 175.6V197.4M349.7 166.5V193.3M350.2 167.7V196.3M350.6 161.3V189.4M351.0 179.1V206.8M351.5 176.9V209.4M351.9 174.9V199.7M352.3 174.9V201.3M352.8 175.0V200.3M353.2 170.0V199.6M353.6 172.6V204.3M354.1 166.7V192.4M354.5 166.1V197.6M354.9 169.2V196.5M355.4 156.8V192.8M355.8 167.8V187.6M356.2 169.4V199.1M356.7 165.9V200.8M357.1 155.2V183.3M357.5 172.8V197.6M358.0 169.1V194.9M358.4 167.5V199.7M358.8 165.4V192.7M359.3 164.5V199.0M359.7 157.2V187.2M360.1 163.3V190.6M360.6 158.4V186.3M361.0 158.6V190.5M361.4 165.1V199.5M361.9 171.0V197.2M362.3 163.6V188.1M362.7 160.8V185.4M363.2 162.6V194.5M363.6 157.5V195.5M364.0 169.5V196.9M364.5 160.1V192.8M364.9 147.6V175.4M365.3 155.9V189.6M365.8 158.9V181.8M366.2 151.5V183.6M366.6 159.9V183.4M367.1 158.1V183.6M367.5 153.0V183.6M367.9 162.9V190.9M368.3 156.6V185.3M368.8 155.0V186.2M369.2 154.0V183.8M369.6 156.0V191.2M370.1 145.7V177.7M370.5 160.1V185.0M370.9 150.9V179.1M371.4 159.9V186.0M371.8 158.8V185.4M372.2 149.2V185.1M372.7 149.5V174.4M373.1 148.3V181.8M373.5 147.7V182.1M374.0 135.8V175.3M374.4 146.6V174.5M374.8 143.7V172.7M375.3 153.3V182.3M375.7 155.8V182.0M376.1 139.0V174.0M376.6 139.1V174.8M377.0 143.6V161.5M377.4 146.7V172.7M377.9 145.8V178.0M378.3 154.6V177.6M378.7 138.4V162.7M379.2 147.2V174.4M379.6 141.5V168.4M380.0 138.6V164.7M380.5 139.8V166.0M380.9 133.3V167.3M381.3 147.0V164.2M381.8 140.6V165.1M382.2 147.1V169.0M382.6 135.4V162.7M383.1 129.6V154.2M383.5 131.5V159.6M383.9 138.4V164.5M384.4 124.4V159.5M384.8 134.5V155.3M385.2 138.5V162.5M385.7 125.9V155.3M386.1 138.5V163.0M386.5 134.3V160.9M387.0 132.5V152.5M387.4 130.0V158.9M387.8 128.8V154.3M388.3 127.2V155.6M388.7 129.8V152.3M389.1 130.1V154.1M389.6 129.5V152.2M390.0 120.6V153.4M390.4 125.6V144.8M390.9 135.4V163.4M391.3 119.6V146.8M391.7 121.5V152.8M392.2 129.4V156.8M392.6 130.3V152.5M393.0 118.1V146.5M393.5 135.3V154.7M393.9 127.8V158.4M394.3 119.3V145.2M394.8 115.3V138.7M395.2 123.3V147.7M395.6 116.4V145.2M396.1 119.7V139.4M396.5 109.6V143.1M396.9 114.9V138.5M397.4 113.4V146.1M397.8 119.0V146.3M398.2 100.2V134.6M398.7 104.4V126.1M399.1 115.8V146.1M399.5 108.1V134.6M400.0 116.2V140.3M400.4 109.6V139.8M400.8 116.7V142.5M401.3 115.4V139.2M401.7 107.8V133.8M402.1 108.9V132.5M402.6 109.4V135.4M403.0 110.5V137.2M403.4 100.8V132.2M403.8 98.2V124.7M404.3 106.9V130.6M404.7 102.3V132.5M405.1 103.5V129.0M405.6 99.9V123.0M406.0 107.7V129.7M406.4 89.4V123.8M406.9 98.7V125.4M407.3 103.2V137.1M407.7 96.1V119.2M408.2 103.1V125.9M408.6 96.8V131.2M409.0 100.1V126.3M409.5 88.9V115.4M409.9 101.5V127.8M410.3 98.2V121.2M410.8 94.9V126.6M411.2 98.0V120.2M411.6 91.9V122.5M412.1 100.8V123.7M412.5 93.3V131.8M412.9 80.4V110.9M413.4 84.2V116.4M413.8 92.4V112.7M414.2 77.5V106.5M414.7 96.8V121.6M415.1 85.5V109.4M415.5 91.3V115.4M416.0 85.4V116.6M416.4 84.2V112.1M416.8 80.8V106.3M417.3 83.5V108.6M417.7 85.1V110.1M418.1 87.6V113.1M418.6 81.5V108.2M419.0 81.8V104.7M419.4 81.4V105.3M419.9 91.2V109.5M420.3 80.8V108.6M420.7 74.1V104.5M421.2 72.9V98.8M421.6 72.5V106.4M422.0 74.0V98.7M422.5 74.1V102.3M422.9 79.9V113.0M423.3 78.0V107.2M423.8 77.4V102.1M424.2 75.2V105.0M424.6 82.9V109.3M425.1 64.9V98.0M425.5 73.0V104.6M425.9 71.5V98.8M426.4 71.1V101.7M426.8 67.7V103.6M427.2 66.6V99.9M427.7 71.1V103.2M428.1 59.6V87.2M428.5 72.2V98.1M429.0 74.1V99.3M429.4 61.8V94.9M429.8 66.0V89.9M430.3 76.8V107.1M430.7 60.0V95.6M431.1 69.2V90.9M431.6 62.7V93.0M432.0 66.2V90.5M432.4 63.7V91.9M432.9 54.9V85.9M433.3 80.1V104.6M433.7 65.2V88.2M434.2 68.4V95.4M434.6 64.5V94.3M435.0 72.6V99.7M435.5 70.3V95.0M435.9 68.6V100.6M436.3 72.5V96.5M436.8 71.3V93.9M437.2 63.7V93.2M437.6 63.2V101.8M438.1 56.5V83.3M438.5 67.6V96.3M438.9 68.5V93.1M439.3 65.4V91.8M439.8 58.2V82.4M440.2 68.1V98.5M440.6 60.0V86.2M441.1 66.5V92.2M441.5 50.2V83.7M441.9 63.6V86.4M442.4 55.8V89.3M442.8 57.4V86.0M443.2 59.5V84.7M443.7 69.4V98.7M444.1 60.8V89.0M444.5 61.2V92.1M445.0 71.2V99.7M445.4 48.6V86.6M445.8 65.0V99.4M446.3 55.3V90.0M446.7 59.2V83.4M447.1 58.3V86.4M447.6 47.8V82.8M448.0 50.4V82.8M448.4 53.6V83.5M448.9 56.6V86.0M449.3 60.4V94.9M449.7 68.9V90.1M450.2 59.3V85.2M450.6 64.1V87.8M451.0 58.7V94.0M451.5 61.2V85.0M451.9 61.1V90.0M452.3 53.4V89.9M452.8 63.1V92.0M453.2 58.0V89.7M453.6 60.1V90.7M454.1 59.9V93.6M454.5 56.1V97.0M454.9 60.0V85.2M455.4 54.5V85.0M455.8 57.2V95.8M456.2 53.4V95.4M456.7 60.1V90.0M457.1 58.8V96.3M457.5 57.9V92.1M458.0 64.1V98.2M458.4 69.2V93.6M458.8 63.8V87.3M459.3 66.3V98.2M459.7 60.9V91.7M460.1 69.5V100.4M460.6 72.1V97.9M461.0 63.2V101.7M461.4 71.9V102.6M461.9 66.1V110.8M462.3 71.0V101.6M462.7 59.3V92.9M463.2 68.1V103.6M463.6 71.6V101.9M464.0 76.6V103.6M464.5 67.8V97.0M464.9 74.6V106.8M465.3 74.8V104.5M465.8 69.4V111.4M466.2 68.7V98.4M466.6 67.8V104.0M467.1 77.3V113.7M467.5 78.1V111.5M467.9 77.8V105.0M468.4 79.7V114.9M468.8 75.7V113.1M469.2 75.3V108.9M469.7 71.4V104.3M470.1 88.9V110.9M470.5 82.0V109.5M471.0 82.1V114.2M471.4 73.3V107.3M471.8 78.1V115.0M472.3 85.2V116.8M472.7 82.5V116.7M473.1 84.4V112.5M473.6 79.6V116.1M474.0 85.8V122.8M474.4 86.4V119.3M474.8 84.8V123.2M475.3 89.2V121.2M475.7 89.2V120.3M476.1 91.0V123.2M476.6 85.0V129.0M477.0 97.9V123.4M477.4 88.6V123.6M477.9 92.2V124.4M478.3 96.6V131.2M478.7 101.0V127.4M479.2 97.6V135.5M479.6 106.1V143.6M480.0 104.7V137.5M480.5 107.7V139.7M480.9 105.0V139.6M481.3 101.9V141.2M481.8 107.2V133.6M482.2 97.1V138.8M482.6 104.6V137.5M483.1 99.8V138.7M483.5 110.1V140.3M483.9 102.7V147.6M484.4 110.9V147.0M484.8 111.9V155.9M485.2 118.4V150.0M485.7 124.6V156.0M486.1 121.6V162.4M486.5 124.7V163.4M487.0 126.8V163.6M487.4 124.1V165.7M487.8 125.4V162.7M488.3 132.2V165.6M488.7 135.7V160.9M489.1 138.6V161.7M489.6 134.4V173.1M490.0 131.5V169.9M490.4 135.4V166.0M490.9 139.2V177.5M491.3 147.2V181.6M491.7 146.1V181.8M492.2 153.0V193.8M492.6 146.1V173.3M493.0 144.8V182.4M493.5 141.2V179.7M493.9 148.9V183.6M494.3 157.4V194.1M494.8 161.7V191.4M495.2 152.6V189.3M495.6 154.9V194.2M496.1 154.9V195.1M496.5 159.2V191.5M496.9 159.9V200.3M497.4 162.8V200.6M497.8 164.8V204.6M498.2 169.0V205.0M498.7 170.2V209.9M499.1 175.0V212.4M499.5 167.5V216.8M500.0 176.9V211.0M500.4 175.9V217.3M500.8 182.5V217.3M501.3 187.4V214.2M501.7 182.9V219.5M502.1 184.9V225.0M502.6 192.0V229.3M503.0 191.1V228.1M503.4 202.4V231.1M503.9 198.1V231.9M504.3 209.9V235.3M504.7 205.7V245.8M505.2 207.9V246.4M505.6 217.6V243.6M506.0 218.8V247.5M506.5 227.6V252.2M506.9 225.1V251.5M507.3 226.7V254.1M507.8 233.3V257.2M508.2 235.9V262.5M508.6 234.7V265.7M509.1 238.4V265.2M509.5 241.2V271.8M509.9 242.4V268.9M510.3 244.5V271.7M510.8 249.1V270.5M511.2 251.8V281.5M511.6 252.5V273.8M512.1 255.3V279.3M512.5 262.5V282.6M512.9 262.2V288.7M513.4 270.1V290.5M513.8 267.9V293.8M514.2 267.0V297.4M514.7 275.8V300.2M515.1 282.8V297.9M515.5 280.5V306.3M516.0 284.8V307.5M516.4 286.4V310.2M516.8 287.1V309.8M517.3 289.8V314.4M517.7 297.5V321.3M518.1 299.7V319.9M518.6 302.3V318.5M519.0 306.4V325.7M519.4 309.6V331.0M519.9 316.0V329.5M520.3 316.0V334.9M520.7 319.1V332.3M521.2 321.4V342.1M521.6 323.7V345.9M522.0 330.6V349.9M522.5 334.0V349.6M522.9 336.1V354.3M523.3 338.7V357.8M523.8 342.3V361.8M524.2 346.6V365.0M524.6 349.6V366.8M525.1 354.7V367.1M525.5 356.5V370.4M525.9 360.0V374.7M526.4 362.7V376.2M526.8 367.4V376.6M527.2 367.3V379.6M527.7 371.0V382.0M528.1 371.8V384.2M528.5 376.3V388.7M529.0 380.3V389.5M529.4 381.4V391.6M529.8 382.4V394.1M530.3 386.1V395.5M530.7 385.9V396.9M531.1 388.9V398.3M531.6 392.7V402.2M532.0 391.9V403.8M532.4 395.5V405.6M532.9 397.4V406.8M533.3 396.6V409.0M533.7 401.3V410.7M534.2 404.1V413.8M534.6 406.5V416.0M535.0 403.8V417.4M535.5 408.2V418.3M535.9 410.7V421.0M536.3 414.6V423.0M536.8 416.0V425.9M537.2 418.1V428.1M537.6 421.6V428.6M538.1 421.3V430.1M538.5 422.2V432.3M538.9 425.2V435.3M539.4 427.4V435.4M539.8 428.3V438.5M540.2 431.6V438.3M540.7 432.5V440.9M541.1 435.3V443.0M541.5 436.7V442.6M542.0 436.9V444.8M542.4 440.3V445.7M542.8 442.0V447.8M543.3 443.0V449.2M543.7 445.0V450.0M544.1 444.3V451.4M544.6 447.0V452.4M545.0 449.7V454.3M545.4 449.7V455.4M545.8 450.9V456.2M546.3 453.5V457.8M546.7 453.7V458.3M547.1 455.0V460.5M547.6 456.0V461.3M548.0 458.2V461.6M548.4 458.8V463.8M548.9 460.5V465.3M549.3 461.1V465.9M549.7 461.7V465.4M550.2 462.7V466.2M550.6 463.9V467.6M551.0 465.1V468.4M551.5 466.2V469.7M551.9 467.0V470.2M552.3 467.8V471.1M552.8 467.9V471.0M553.2 469.2V472.5M553.6 470.1V473.4M554.1 471.4V474.4M554.5 471.7V474.5M554.9 471.6V475.3M555.4 471.9V475.2M555.8 472.9V476.0M556.2 473.8V476.2M556.7 474.0V476.9M557.1 474.8V477.3M557.5 475.3V478.0M558.0 475.8V478.3M558.4 476.5V479.7M558.8 476.4V478.7M559.3 476.9V478.8M559.7 477.6V480.0M560.1 477.6V480.0M560.6 478.4V480.6M561.0 479.4V480.5M561.4 479.4V480.9M561.9 480.2V481.6M562.3 480.6V481.8M562.7 480.7V482.2M563.2 481.1V482.7M563.6 481.5V483.0M564.0 481.6V483.0M564.5 482.2V483.4M564.9 482.3V483.7M565.3 482.7V483.7M566.2 483.6V484.4M566.6 483.6V484.3M567.1 483.5V484.2" stroke="#56b4e9" stroke-width="6" fill="none"/>
<polyline points="99.5,270.2 99.9,274.0 100.4,274.9 100.8,275.5 101.2,284.4 101.7,283.6 102.1,275.9 102.5,277.3 103.0,272.1 103.4,277.6 103.8,270.2 104.3,282.6 104.7,274.0 105.1,278.9 105.6,270.6 106.0,282.8 106.4,279.3 106.9,285.4 107.3,276.9 107.7,269.4 108.2,273.2 108.6,271.1 109.0,283.9 109.5,274.0 109.9,273.5 110.3,279.6 110.8,278.2 111.2,279.2 111.6,274.8 112.1,268.0 112.5,271.0 112.9,267.2 113.4,283.0 113.8,281.3 114.2,275.6 114.7,280.1 115.1,280.4 115.5,280.2 116.0,279.8 116.4,281.4 116.8,277.8 117.3,267.4 117.7,265.0 118.1,283.3 118.5,280.3 119.0,266.2 119.4,278.4 119.8,273.7 120.3,275.2 120.7,265.9 121.1,281.2 121.6,277.4 122.0,281.5 122.4,282.7 122.9,283.7 123.3,285.3 123.7,279.2 124.2,278.9 124.6,275.0 125.0,280.3 125.5,276.9 125.9,272.6 126.3,283.4 126.8,281.2 127.2,265.8 127.6,269.5 128.1,277.0 128.5,271.9 128.9,283.7 129.4,278.9 129.8,280.7 130.2,282.4 130.7,284.2 131.1,276.9 131.5,281.0 132.0,279.3 132.4,281.8 132.8,280.7 133.3,284.7 133.7,280.7 134.1,276.0 134.6,278.7 135.0,273.0 135.4,279.7 135.9,285.1 136.3,275.4 136.7,270.6 137.2,277.8 137.6,275.9 138.0,278.2 138.5,275.5 138.9,278.5 139.3,273.5 139.8,285.3 140.2,277.1 140.6,280.5 141.1,281.6 141.5,277.4 141.9,280.2 142.4,277.0 142.8,276.1 143.2,277.1 143.7,280.3 144.1,272.3 144.5,273.9 145.0,274.4 145.4,275.4 145.8,283.3 146.3,277.9 146.7,276.6 147.1,278.7 147.6,282.8 148.0,274.5 148.4,282.6 148.9,267.2 149.3,273.8 149.7,284.7 150.2,285.0 150.6,278.8 151.0,275.9 151.5,281.6 151.9,276.0 152.3,284.9 152.8,283.3 153.2,281.3 153.6,273.9 154.0,282.2 154.5,276.6 154.9,276.7 155.3,275.8 155.8,277.1 156.2,280.0 156.6,281.5 157.1,281.5 157.5,293.2 157.9,276.0 158.4,282.9 158.8,274.5 159.2,276.7 159.7,272.2 160.1,283.1 160.5,278.7 161.0,278.1 161.4,276.9 161.8,281.7 162.3,275.1 162.7,279.2 163.1,289.0 163.6,276.7 164.0,274.4 164.4,272.6 164.9,281.0 165.3,277.5 165.7,273.7 166.2,273.3 166.6,277.3 167.0,272.5 167.5,286.7 167.9,276.1 168.3,276.2 168.8,276.5 169.2,268.6 169.6,270.2 170.1,275.2 170.5,276.7 170.9,271.1 171.4,284.6 171.8,278.8 172.2,282.7 172.7,282.0 173.1,275.5 173.5,287.8 174.0,277.0 174.4,267.7 174.8,265.5 175.3,276.3 175.7,280.2 176.1,276.5 176.6,284.1 177.0,274.6 177.4,278.5 177.9,279.2 178.3,271.0 178.7,277.1 179.2,277.3 179.6,280.5 180.0,281.0 180.5,279.8 180.9,271.7 181.3,278.5 181.8,279.9 182.2,275.0 182.6,278.2 183.1,278.2 183.5,280.0 183.9,274.8 184.4,276.5 184.8,275.1 185.2,274.3 185.7,271.1 186.1,272.2 186.5,268.5 187.0,272.6 187.4,276.6 187.8,276.1 188.3,276.6 188.7,272.5 189.1,279.3 189.5,270.6 190.0,276.1 190.4,274.4 190.8,268.9 191.3,268.9 191.7,275.5 192.1,272.1 192.6,273.0 193.0,285.9 193.4,274.1 193.9,271.9 194.3,274.6 194.7,268.3 195.2,270.1 195.6,272.9 196.0,266.9 196.5,270.4 196.9,269.5 197.3,270.7 197.8,261.9 198.2,278.2 198.6,269.4 199.1,272.2 199.5,264.7 199.9,263.3 200.4,269.4 200.8,267.6 201.2,272.0 201.7,264.5 202.1,264.1 202.5,270.1 203.0,271.6 203.4,272.5 203.8,268.0 204.3,269.2 204.7,264.1 205.1,273.8 205.6,272.9 206.0,272.6 206.4,259.8 206.9,271.3 207.3,263.6 207.7,269.2 208.2,268.7 208.6,272.3 209.0,265.6 209.5,264.7 209.9,261.5 210.3,260.5 210.8,268.6 211.2,261.5 211.6,268.7 212.1,263.7 212.5,262.7 212.9,269.6 213.4,269.0 213.8,260.2 214.2,263.9 214.7,264.5 215.1,267.5 215.5,260.8 216.0,262.1 216.4,263.4 216.8,267.0 217.3,267.8 217.7,260.9 218.1,271.5 218.6,265.1 219.0,259.3 219.4,255.6 219.9,260.3 220.3,251.4 220.7,263.2 221.2,264.8 221.6,268.0 222.0,264.2 222.5,253.7 222.9,260.2 223.3,264.6 223.8,251.1 224.2,257.2 224.6,263.8 225.0,261.0 225.5,251.2 225.9,258.1 226.3,260.4 226.8,269.8 227.2,257.9 227.6,255.5 228.1,260.8 228.5,261.0 228.9,262.0 229.4,265.9 229.8,258.7 230.2,252.4 230.7,258.9 231.1,258.6 231.5,262.9 232.0,262.1 232.4,254.6 232.8,261.5 233.3,262.4 233.7,256.7 234.1,261.8 234.6,258.0 235.0,257.9 235.4,256.3 235.9,260.6 236.3,270.1 236.7,257.5 237.2,250.9 237.6,255.1 238.0,253.3 238.5,257.4 238.9,255.1 239.3,267.5 239.8,258.9 240.2,264.0 240.6,251.8 241.1,254.0 241.5,264.5 241.9,246.8 242.4,255.2 242.8,247.1 243.2,261.5 243.7,247.5 244.1,252.5 244.5,253.0 245.0,245.8 245.4,265.1 245.8,252.6 246.3,261.0 246.7,249.9 247.1,246.1 247.6,253.9 248.0,253.6 248.4,266.3 248.9,247.5 249.3,245.0 249.7,248.9 250.2,253.5 250.6,254.6 251.0,248.3 251.5,250.0 251.9,254.1 252.3,256.5 252.8,248.4 253.2,251.7 253.6,237.9 254.1,246.3 254.5,252.7 254.9,250.5 255.4,249.6 255.8,257.9 256.2,248.8 256.7,244.9 257.1,250.9 257.5,250.7 258.0,244.2 258.4,254.2 258.8,257.4 259.3,246.4 259.7,244.9 260.1,248.5 260.5,254.7 261.0,246.0 261.4,245.0 261.8,245.5 262.3,249.3 262.7,249.1 263.1,247.1 263.6,253.4 264.0,258.2 264.4,244.7 264.9,252.2 265.3,248.4 265.7,261.2 266.2,242.6 266.6,245.0 267.0,247.0 267.5,239.6 267.9,245.2 268.3,249.4 268.8,239.0 269.2,246.2 269.6,253.9 270.1,242.5 270.5,240.9 270.9,232.9 271.4,244.3 271.8,236.9 272.2,247.1 272.7,252.0 273.1,246.7 273.5,240.1 274.0,246.8 274.4,241.3 274.8,238.0 275.3,240.8 275.7,244.1 276.1,241.0 276.6,245.1 277.0,252.6 277.4,245.1 277.9,245.6 278.3,238.6 278.7,247.9 279.2,243.1 279.6,246.0 280.0,237.3 280.5,241.9 280.9,229.4 281.3,238.7 281.8,236.2 282.2,235.2 282.6,248.1 283.1,232.3 283.5,238.7 283.9,238.5 284.4,241.5 284.8,243.6 285.2,230.9 285.7,235.7 286.1,234.8 286.5,241.2 287.0,242.1 287.4,235.5 287.8,234.6 288.3,232.2 288.7,238.5 289.1,244.5 289.6,238.1 290.0,232.8 290.4,231.9 290.9,232.3 291.3,227.6 291.7,243.5 292.2,235.3 292.6,233.1 293.0,245.2 293.5,235.3 293.9,241.1 294.3,235.1 294.8,238.8 295.2,233.6 295.6,231.3 296.0,234.7 296.5,235.9 296.9,237.5 297.3,233.0 297.8,230.6 298.2,229.7 298.6,232.7 299.1,228.6 299.5,229.1 299.9,233.0 300.4,233.0 300.8,232.3 301.2,226.1 301.7,222.5 302.1,230.4 302.5,229.4 303.0,226.7 303.4,229.3 303.8,232.1 304.3,226.7 304.7,229.3 305.1,222.5 305.6,225.8 306.0,222.6 306.4,219.4 306.9,228.1 307.3,212.1 307.7,225.1 308.2,228.8 308.6,226.7 309.0,217.1 309.5,225.4 309.9,215.2 310.3,219.4 310.8,230.2 311.2,223.8 311.6,228.4 312.1,217.2 312.5,212.2 312.9,218.2 313.4,227.7 313.8,225.7 314.2,226.1 314.7,219.9 315.1,219.9 315.5,219.0 316.0,233.6 316.4,219.8 316.8,227.5 317.3,217.9 317.7,225.1 318.1,212.9 318.6,215.4 319.0,219.2 319.4,214.4 319.9,214.8 320.3,215.7 320.7,213.6 321.2,223.3 321.6,220.9 322.0,208.4 322.5,223.1 322.9,214.3 323.3,214.0 323.8,213.0 324.2,217.6 324.6,216.5 325.1,210.2 325.5,212.6 325.9,205.7 326.4,220.6 326.8,207.2 327.2,206.7 327.7,207.1 328.1,210.9 328.5,213.5 329.0,207.8 329.4,209.2 329.8,207.1 330.3,214.6 330.7,209.1 331.1,199.4 331.5,214.3 332.0,208.4 332.4,215.7 332.8,203.1 333.3,203.2 333.7,204.4 334.1,198.0 334.6,202.6 335.0,210.1 335.4,207.0 335.9,191.6 336.3,209.0 336.7,204.1 337.2,205.9 337.6,201.7 338.0,202.0 338.5,201.0 338.9,200.5 339.3,194.8 339.8,204.4 340.2,200.0 340.6,200.4 341.1,199.8 341.5,196.2 341.9,196.9 342.4,190.3 342.8,197.6 343.2,197.2 343.7,194.3 344.1,186.6 344.5,201.0 345.0,193.2 345.4,193.5 345.8,191.7 346.3,189.8 346.7,190.3 347.1,186.4 347.6,188.5 348.0,200.9 348.4,196.2 348.9,199.7 349.3,186.5 349.7,179.9 350.2,182.0 350.6,175.3 351.0,192.9 351.5,193.2 351.9,187.3 352.3,188.1 352.8,187.6 353.2,184.8 353.6,188.5 354.1,179.5 354.5,181.8 354.9,182.8 355.4,174.8 355.8,177.7 356.2,184.3 356.7,183.4 357.1,169.2 357.5,185.2 358.0,182.0 358.4,183.6 358.8,179.1 359.3,181.8 359.7,172.2 360.1,177.0 360.6,172.4 361.0,174.6 361.4,182.3 361.9,184.1 362.3,175.9 362.7,173.1 363.2,178.6 363.6,176.5 364.0,183.2 364.5,176.4 364.9,161.5 365.3,172.7 365.8,170.4 366.2,167.6 366.6,171.7 367.1,170.8 367.5,168.3 367.9,176.9 368.3,170.9 368.8,170.6 369.2,168.9 369.6,173.6 370.1,161.7 370.5,172.6 370.9,165.0 371.4,172.9 371.8,172.1 372.2,167.1 372.7,162.0 373.1,165.0 373.5,164.9 374.0,155.5 374.4,160.5 374.8,158.2 375.3,167.8 375.7,168.9 376.1,156.5 376.6,156.9 377.0,152.5 377.4,159.7 377.9,161.9 378.3,166.1 378.7,150.5 379.2,160.8 379.6,155.0 380.0,151.6 380.5,152.9 380.9,150.3 381.3,155.6 381.8,152.8 382.2,158.0 382.6,149.1 383.1,141.9 383.5,145.6 383.9,151.5 384.4,142.0 384.8,144.9 385.2,150.5 385.7,140.6 386.1,150.7 386.5,147.6 387.0,142.5 387.4,144.4 387.8,141.6 388.3,141.4 388.7,141.1 389.1,142.1 389.6,140.9 390.0,137.0 390.4,135.2 390.9,149.4 391.3,133.2 391.7,137.2 392.2,143.1 392.6,141.4 393.0,132.3 393.5,145.0 393.9,143.1 394.3,132.2 394.8,127.0 395.2,135.5 395.6,130.8 396.1,129.6 396.5,126.4 396.9,126.7 397.4,129.7 397.8,132.7 398.2,117.4 398.7,115.2 399.1,130.9 399.5,121.4 400.0,128.2 400.4,124.7 400.8,129.6 401.3,127.3 401.7,120.8 402.1,120.7 402.6,122.4 403.0,123.8 403.4,116.5 403.8,111.4 404.3,118.8 404.7,117.4 405.1,116.2 405.6,111.4 406.0,118.7 406.4,106.6 406.9,112.0 407.3,120.1 407.7,107.6 408.2,114.5 408.6,114.0 409.0,113.2 409.5,102.2 409.9,114.7 410.3,109.7 410.8,110.7 411.2,109.1 411.6,107.2 412.1,112.2 412.5,112.6 412.9,95.6 413.4,100.3 413.8,102.6 414.2,92.0 414.7,109.2 415.1,97.5 415.5,103.4 416.0,101.0 416.4,98.1 416.8,93.6 417.3,96.1 417.7,97.6 418.1,100.4 418.6,94.8 419.0,93.2 419.4,93.3 419.9,100.3 420.3,94.7 420.7,89.3 421.2,85.8 421.6,89.4 422.0,86.4 422.5,88.2 422.9,96.4 423.3,92.6 423.8,89.8 424.2,90.1 424.6,96.1 425.1,81.5 425.5,88.8 425.9,85.1 426.4,86.4 426.8,85.6 427.2,83.3 427.7,87.1 428.1,73.4 428.5,85.2 429.0,86.7 429.4,78.3 429.8,77.9 430.3,91.9 430.7,77.8 431.1,80.1 431.6,77.8 432.0,78.4 432.4,77.8 432.9,70.4 433.3,92.3 433.7,76.7 434.2,81.9 434.6,79.4 435.0,86.2 435.5,82.7 435.9,84.6 436.3,84.5 436.8,82.6 437.2,78.4 437.6,82.5 438.1,69.9 438.5,81.9 438.9,80.8 439.3,78.6 439.8,70.3 440.2,83.3 440.6,73.1 441.1,79.4 441.5,66.9 441.9,75.0 442.4,72.5 442.8,71.7 443.2,72.1 443.7,84.0 444.1,74.9 444.5,76.7 445.0,85.4 445.4,67.6 445.8,82.2 446.3,72.7 446.7,71.3 447.1,72.3 447.6,65.3 448.0,66.6 448.4,68.5 448.9,71.3 449.3,77.6 449.7,79.5 450.2,72.3 450.6,76.0 451.0,76.3 451.5,73.1 451.9,75.5 452.3,71.6 452.8,77.5 453.2,73.9 453.6,75.4 454.1,76.8 454.5,76.5 454.9,72.6 455.4,69.8 455.8,76.5 456.2,74.4 456.7,75.0 457.1,77.6 457.5,75.0 458.0,81.2 458.4,81.4 458.8,75.6 459.3,82.2 459.7,76.3 460.1,84.9 460.6,85.0 461.0,82.5 461.4,87.3 461.9,88.5 462.3,86.3 462.7,76.1 463.2,85.9 463.6,86.8 464.0,90.1 464.5,82.4 464.9,90.7 465.3,89.6 465.8,90.4 466.2,83.6 466.6,85.9 467.1,95.5 467.5,94.8 467.9,91.4 468.4,97.3 468.8,94.4 469.2,92.1 469.7,87.9 470.1,99.9 470.5,95.7 471.0,98.2 471.4,90.3 471.8,96.6 472.3,101.0 472.7,99.6 473.1,98.5 473.6,97.8 474.0,104.3 474.4,102.9 474.8,104.0 475.3,105.2 475.7,104.8 476.1,107.1 476.6,107.0 477.0,110.6 477.4,106.1 477.9,108.3 478.3,113.9 478.7,114.2 479.2,116.6 479.6,124.9 480.0,121.1 480.5,123.7 480.9,122.3 481.3,121.6 481.8,120.4 482.2,117.9 482.6,121.1 483.1,119.3 483.5,125.2 483.9,125.1 484.4,129.0 484.8,133.9 485.2,134.2 485.7,140.3 486.1,142.0 486.5,144.1 487.0,145.2 487.4,144.9 487.8,144.0 488.3,148.9 488.7,148.3 489.1,150.1 489.6,153.7 490.0,150.7 490.4,150.7 490.9,158.4 491.3,164.4 491.7,164.0 492.2,173.4 492.6,159.7 493.0,163.6 493.5,160.5 493.9,166.3 494.3,175.7 494.8,176.6 495.2,170.9 495.6,174.6 496.1,175.0 496.5,175.4 496.9,180.1 497.4,181.7 497.8,184.7 498.2,187.0 498.7,190.1 499.1,193.7 499.5,192.1 500.0,193.9 500.4,196.6 500.8,199.9 501.3,200.8 501.7,201.2 502.1,204.9 502.6,210.6 503.0,209.6 503.4,216.8 503.9,215.0 504.3,222.6 504.7,225.7 505.2,227.1 505.6,230.6 506.0,233.1 506.5,239.9 506.9,238.3 507.3,240.4 507.8,245.2 508.2,249.2 508.6,250.2 509.1,251.8 509.5,256.5 509.9,255.6 510.3,258.1 510.8,259.8 511.2,266.6 511.6,263.2 512.1,267.3 512.5,272.5 512.9,275.4 513.4,280.3 513.8,280.9 514.2,282.2 514.7,288.0 515.1,290.3 515.5,293.4 516.0,296.1 516.4,298.3 516.8,298.5 517.3,302.1 517.7,309.4 518.1,309.8 518.6,310.4 519.0,316.0 519.4,320.3 519.9,322.7 520.3,325.4 520.7,325.7 521.2,331.8 521.6,334.8 522.0,340.3 522.5,341.8 522.9,345.2 523.3,348.3 523.8,352.0 524.2,355.8 524.6,358.2 525.1,360.9 525.5,363.4 525.9,367.3 526.4,369.5 526.8,372.0 527.2,373.5 527.7,376.5 528.1,378.0 528.5,382.5 529.0,384.9 529.4,386.5 529.8,388.2 530.3,390.8 530.7,391.4 531.1,393.6 531.6,397.5 532.0,397.9 532.4,400.5 532.9,402.1 533.3,402.8 533.7,406.0 534.2,409.0 534.6,411.3 535.0,410.6 535.5,413.2 535.9,415.9 536.3,418.8 536.8,420.9 537.2,423.1 537.6,425.1 538.1,425.7 538.5,427.2 538.9,430.3 539.4,431.4 539.8,433.4 540.2,435.0 540.7,436.7 541.1,439.1 541.5,439.7 542.0,440.9 542.4,443.0 542.8,444.9 543.3,446.1 543.7,447.5 544.1,447.8 544.6,449.7 545.0,452.0 545.4,452.6 545.8,453.5 546.3,455.6 546.7,456.0 547.1,457.8 547.6,458.7 548.0,459.9 548.4,461.3 548.9,462.9 549.3,463.5 549.7,463.6 550.2,464.4 550.6,465.7 551.0,466.7 551.5,468.0 551.9,468.6 552.3,469.4 552.8,469.5 553.2,470.9 553.6,471.8 554.1,472.9 554.5,473.1 554.9,473.4 555.4,473.5 555.8,474.5 556.2,475.0 556.7,475.4 557.1,476.0 557.5,476.6 558.0,477.1 558.4,478.1 558.8,477.6 559.3,477.8 559.7,478.8 560.1,478.8 560.6,479.5 561.0,479.9 561.4,480.1 561.9,480.9 562.3,481.2 562.7,481.5 563.2,481.9 563.6,482.3 564.0,482.3 564.5,482.8 564.9,483.0 565.3,483.2 565.8,483.4 566.2,484.0 566.6,484.0 567.1,483.9 567.5,484.4 567.9,484.1 568.4,484.7 568.8,484.9 569.2,485.1 569.7,485.0 570.1,485.1 570.5,485.5 571.0,485.5 571.4,485.7 571.8,485.6 572.3,485.8 572.7,485.7 573.1,486.0 573.6,485.9 574.0,486.1 574.4,486.2 574.9,486.5 575.3,486.6 575.7,486.5 576.2,486.8 576.6,486.8 577.0,486.7 577.5,486.9 577.9,486.8 578.3,487.1 578.8,487.2 579.2,487.1 579.6,487.3 580.1,487.4 580.5,487.2 580.9,487.4 581.4,487.3 581.8,487.3 582.2,487.5 582.6,487.3 583.1,487.4 583.5,487.4 583.9,487.4 584.4,487.5 584.8,487.3 585.2,487.5 585.7,487.6 586.1,487.6 586.5,487.4 587.0,487.3 587.4,487.3 587.8,487.4 588.3,487.4 588.7,487.4 589.1,487.3 589.6,487.2 590.0,487.4 590.4,487.4 590.9,487.4 591.3,487.3 591.7,487.4 592.2,487.4 592.6,487.3 593.0,487.5 593.5,487.4 593.9,487.4 594.3,487.4 594.8,487.4 595.2,487.4 595.6,487.4 596.1,487.5 596.5,487.5 596.9,487.4 597.4,487.5 597.8,487.5 598.2,487.3 598.7,487.4 599.1,487.4 599.5,487.4 600.0,487.6 600.4,487.5 600.8,487.4 601.3,487.4 601.7,487.3 602.1,487.3 602.6,487.5 603.0,487.2 603.4,487.5 603.9,487.3 604.3,487.4 604.7,487.4 605.2,487.6 605.6,487.4 606.0,487.4 606.5,487.5 606.9,487.2 607.3,487.6 607.8,487.3 608.2,487.3 608.6,487.5 609.1,487.3 609.5,487.3 609.9,487.5 610.4,487.4 610.8,487.5 611.2,487.4 611.7,487.4 612.1,487.5 612.5,487.4 613.0,487.6 613.4,487.3 613.8,487.3 614.3,487.3 614.7,487.4 615.1,487.3 615.6,487.3 616.0,487.5 616.4,487.4 616.9,487.5 617.3,487.4 617.7,487.4 618.1,487.3 618.6,487.4 619.0,487.4 619.4,487.4 619.9,487.4 620.3,487.5 620.7,487.5 621.2,487.4 621.6,487.4 622.0,487.4 622.5,487.6 622.9,487.4 623.3,487.6 623.8,487.3 624.2,487.3 624.6,487.6 625.1,487.4 625.5,487.5 625.9,487.4 626.4,487.4 626.8,487.5 627.2,487.4 627.7,487.4 628.1,487.4 628.5,487.3 629.0,487.4 629.4,487.4 629.8,487.4 630.3,487.4 630.7,487.3 631.1,487.4 631.6,487.4 632.0,487.5 632.4,487.5 632.9,487.4 633.3,487.4 633.7,487.4 634.2,487.3 634.6,487.4 635.0,487.4 635.5,487.4 635.9,487.4 636.3,487.4 636.8,487.4 637.2,487.3 637.6,487.5 638.1,487.4 638.5,487.4 638.9,487.4 639.4,487.3 639.8,487.4 640.2,487.4 640.7,487.3 641.1,487.4 641.5,487.5 642.0,487.4 642.4,487.4 642.8,487.4 643.3,487.4 643.7,487.4 644.1,487.3 644.6,487.5 645.0,487.4 645.4,487.3 645.9,487.5 646.3,487.5 646.7,487.3 647.2,487.4 647.6,487.3 648.0,487.5 648.5,487.3 648.9,487.4 649.3,487.4 649.8,487.5 650.2,487.3 650.6,487.3 651.1,487.4 651.5,487.5 651.9,487.4 652.4,487.4 652.8,487.4 653.2,487.3 653.6,487.4 654.1,487.4 654.5,487.4 654.9,487.3 655.4,487.4 655.8,487.4 656.2,487.3 656.7,487.4 657.1,487.4 657.5,487.3 658.0,487.5 658.4,487.4 658.8,487.4 659.3,487.4 659.7,487.4 660.1,487.3 660.6,487.4 661.0,487.4 661.4,487.4 661.9,487.4 662.3,487.3 662.7,487.3 663.2,487.4 663.6,487.5 664.0,487.4 664.5,487.4 664.9,487.4 665.3,487.4 665.8,487.5 666.2,487.4 666.6,487.5 667.1,487.4 667.5,487.5 667.9,487.4 668.4,487.4 668.8,487.3 669.2,487.4 669.7,487.4 670.1,487.4 670.5,487.5 671.0,487.4 671.4,487.3 671.8,487.4 672.3,487.4 672.7,487.4 673.1,487.4 673.6,487.5 674.0,487.4 674.4,487.4 674.9,487.3 675.3,487.4 675.7,487.4 676.2,487.3 676.6,487.5 677.0,487.4 677.5,487.4 677.9,487.4 678.3,487.4 678.8,487.5 679.2,487.5 679.6,487.4 680.1,487.4 680.5,487.5 680.9,487.5 681.4,487.4 681.8,487.4 682.2,487.4 682.7,487.5 683.1,487.4 683.5,487.4 684.0,487.4 684.4,487.5 684.8,487.3 685.3,487.4 685.7,487.4 686.1,487.5 686.6,487.5 687.0,487.5 687.4,487.3 687.9,487.3 688.3,487.3 688.7,487.5 689.1,487.4 689.6,487.4 690.0,487.4 690.4,487.4 690.9,487.4 691.3,487.4 691.7,487.4 692.2,487.3 692.6,487.5 693.0,487.5 693.5,487.4 693.9,487.4 694.3,487.5 694.8,487.5 695.2,487.4 695.6,487.4 696.1,487.4 696.5,487.4 696.9,487.3 697.4,487.3 697.8,487.4 698.2,487.4 698.7,487.4 699.1,487.4 699.5,487.4 700.0,487.4 700.4,487.4 700.8,487.4 701.3,487.4 701.7,487.5 702.1,487.4 702.6,487.4 703.0,487.4 703.4,487.4 703.9,487.4 704.3,487.5 704.7,487.4 705.2,487.4 705.6,487.5 706.0,487.4 706.5,487.4 706.9,487.5 707.3,487.4 707.8,487.4 708.2,487.4 708.6,487.4 709.1,487.4 709.5,487.4 709.9,487.4 710.4,487.4 710.8,487.5 711.2,487.4 711.7,487.5 712.1,487.4 712.5,487.4 713.0,487.3 713.4,487.4 713.8,487.4 714.3,487.4 714.7,487.3 715.1,487.3 715.6,487.4 716.0,487.5 716.4,487.4 716.9,487.5 717.3,487.4 717.7,487.4 718.2,487.4 718.6,487.4 719.0,487.3 719.5,487.4 719.9,487.4 720.3,487.4 720.8,487.4 721.2,487.4 721.6,487.4 722.1,487.4 722.5,487.4 722.9,487.4 723.4,487.4 723.8,487.4 724.2,487.4 724.6,487.3 725.1,487.4 725.5,487.4 725.9,487.4 726.4,487.4 726.8,487.4 727.2,487.5 727.7,487.4 728.1,487.4 728.5,487.4 729.0,487.4 729.4,487.4 729.8,487.4 730.3,487.4 730.7,487.4 731.1,487.4 731.6,487.3 732.0,487.4 732.4,487.4 732.9,487.4 733.3,487.4 733.7,487.4 734.2,487.4 734.6,487.4 735.0,487.4 735.5,487.4 735.9,487.4 736.3,487.4 736.8,487.4 737.2,487.4 737.6,487.4 738.1,487.4 738.5,487.4 738.9,487.4 739.4,487.4 739.8,487.3 740.2,487.4 740.7,487.4 741.1,487.4 741.5,487.4 742.0,487.4 742.4,487.4 742.8,487.4 743.3,487.4 743.7,487.3 744.1,487.4 744.6,487.4 745.0,487.4 745.4,487.5 745.9,487.4 746.3,487.4 746.7,487.4 747.2,487.5 747.6,487.4 748.0,487.5 748.5,487.4 748.9,487.4 749.3,487.4 749.8,487.4 750.2,487.4 750.6,487.4 751.1,487.4 751.5,487.5 751.9,487.4 752.4,487.4 752.8,487.4 753.2,487.4 753.7,487.4 754.1,487.4 754.5,487.4 755.0,487.4 755.4,487.4 755.8,487.4 756.3,487.4 756.7,487.4 757.1,487.4 757.6,487.4 758.0,487.4 758.4,487.4 758.9,487.4 759.3,487.4 759.7,487.4 760.1,487.4 760.6,487.4 761.0,487.4 761.4,487.4 761.9,487.4 762.3,487.4 762.7,487.4 763.2,487.4 763.6,487.4 764.0,487.4 764.5,487.4 764.9,487.4 765.3,487.4 765.8,487.4 766.2,487.4 766.6,487.4 767.1,487.4 767.5,487.4 767.9,487.4 768.4,487.4 768.8,487.4 769.2,487.4 769.7,487.4 770.1,487.4 770.5,487.4 771.0,487.4 771.4,487.4 771.8,487.4 772.3,487.4 772.7,487.4 773.1,487.4 773.6,487.4 774.0,487.4 774.4,487.4 774.9,487.4 775.3,487.4 775.7,487.4 776.2,487.4 776.6,487.4 777.0,487.4 777.5,487.4 777.9,487.4 778.3,487.4 778.8,487.4 779.2,487.4 779.6,487.4 780.1,487.4 780.5,487.4 780.9,487.4 781.4,487.4 781.8,487.4 782.2,487.4 782.7,487.4 783.1,487.4 783.5,487.4 784.0,487.4 784.4,487.4 784.8,487.4 785.3,487.4 785.7,487.4 786.1,487.4 786.6,487.4 787.0,487.4 787.4,487.4 787.9,487.4 788.3,487.4 788.7,487.4 789.2,487.4 789.6,487.4 790.0,487.4 790.5,487.4 790.9,487.4 791.3,487.4 791.8,487.4 792.2,487.4 792.6,487.4 793.1,487.4 793.5,487.4 793.9,487.4 794.4,487.4 794.8,487.4 795.2,487.4 795.6,487.4 796.1,487.4 796.5,487.4 796.9,487.4 797.4,487.4 797.8,487.4 798.2,487.4 798.7,487.4 799.1,487.4 799.5,487.4 800.0,487.4 800.4,487.4 800.8,487.4 801.3,487.4 801.7,487.4 802.1,487.4 802.6,487.4 803.0,487.4 803.4,487.4 803.9,487.4 804.3,487.4 804.7,487.4 805.2,487.4 805.6,487.4 806.0,487.4 806.5,487.4 806.9,487.4 807.3,487.4 807.8,487.4 808.2,487.4 808.6,487.4 809.1,487.4 809.5,487.4 809.9,487.4 810.4,487.4 810.8,487.4 811.2,487.4 811.7,487.4 812.1,487.4 812.5,487.4 813.0,487.4 813.4,487.4" stroke="#56b4e9" stroke-width="5.5" fill="none" stroke-linejoin="round"/>
<polyline points="99.5,270.2 99.9,274.0 100.4,274.9 100.8,275.5 101.2,284.4 101.7,283.6 102.1,275.9 102.5,277.3 103.0,272.1 103.4,277.6 103.8,270.2 104.3,282.6 104.7,274.0 105.1,278.9 105.6,270.6 106.0,282.8 106.4,279.3 106.9,285.4 107.3,276.9 107.7,269.4 108.2,273.2 108.6,271.1 109.0,283.9 109.5,274.0 109.9,273.5 110.3,279.6 110.8,278.2 111.2,279.2 111.6,274.8 112.1,268.0 112.5,271.0 112.9,267.2 113.4,283.0 113.8,281.3 114.2,275.6 114.7,280.1 115.1,280.4 115.5,280.2 116.0,279.8 116.4,281.4 116.8,277.8 117.3,267.4 117.7,265.0 118.1,283.3 118.5,280.3 119.0,266.2 119.4,278.4 119.8,273.7 120.3,275.2 120.7,265.9 121.1,281.2 121.6,277.4 122.0,281.5 122.4,282.7 122.9,283.7 123.3,285.3 123.7,279.2 124.2,278.9 124.6,275.0 125.0,280.3 125.5,276.9 125.9,272.6 126.3,283.4 126.8,281.2 127.2,265.8 127.6,269.5 128.1,277.0 128.5,271.9 128.9,283.7 129.4,278.9 129.8,280.7 130.2,282.4 130.7,284.2 131.1,276.9 131.5,281.0 132.0,279.3 132.4,281.8 132.8,280.7 133.3,284.7 133.7,280.7 134.1,276.0 134.6,278.7 135.0,273.0 135.4,279.7 135.9,285.1 136.3,275.4 136.7,270.6 137.2,277.8 137.6,275.9 138.0,278.2 138.5,275.5 138.9,278.5 139.3,273.5 139.8,285.3 140.2,277.1 140.6,280.5 141.1,281.6 141.5,277.4 141.9,280.2 142.4,277.0 142.8,276.1 143.2,277.1 143.7,280.3 144.1,272.3 144.5,273.9 145.0,274.4 145.4,275.4 145.8,283.3 146.3,277.9 146.7,276.6 147.1,278.7 147.6,282.8 148.0,274.5 148.4,282.6 148.9,267.2 149.3,273.8 149.7,284.7 150.2,285.0 150.6,278.8 151.0,275.9 151.5,281.6 151.9,276.0 152.3,284.9 152.8,283.3 153.2,281.3 153.6,273.9 154.0,282.2 154.5,276.6 154.9,276.7 155.3,275.8 155.8,277.1 156.2,280.0 156.6,281.5 157.1,281.5 157.5,293.2 157.9,276.0 158.4,282.9 158.8,274.5 159.2,276.7 159.7,272.2 160.1,283.1 160.5,278.7 161.0,278.1 161.4,276.9 161.8,281.7 162.3,275.1 162.7,279.2 163.1,289.0 163.6,276.7 164.0,274.4 164.4,272.6 164.9,281.0 165.3,277.5 165.7,273.7 166.2,273.3 166.6,277.3 167.0,272.5 167.5,286.7 167.9,276.1 168.3,276.2 168.8,276.5 169.2,268.6 169.6,270.2 170.1,275.2 170.5,276.7 170.9,271.1 171.4,284.6 171.8,278.8 172.2,282.7 172.7,282.0 173.1,275.5 173.5,287.8 174.0,277.0 174.4,267.7 174.8,265.5 175.3,276.3 175.7,280.2 176.1,276.5 176.6,284.1 177.0,274.6 177.4,278.5 177.9,279.2 178.3,271.0 178.7,277.1 179.2,277.3 179.6,280.5 180.0,281.0 180.5,279.8 180.9,271.7 181.3,278.5 181.8,279.9 182.2,275.0 182.6,278.2 183.1,278.2 183.5,280.0 183.9,274.8 184.4,276.5 184.8,275.1 185.2,274.3 185.7,271.1 186.1,272.2 186.5,268.5 187.0,272.6 187.4,276.6 187.8,276.1 188.3,276.6 188.7,272.5 189.1,279.3 189.5,270.6 190.0,276.1 190.4,274.4 190.8,268.9 191.3,268.9 191.7,275.5 192.1,272.1 192.6,273.0 193.0,285.9 193.4,274.1 193.9,271.9 194.3,274.6 194.7,268.3 195.2,270.1 195.6,272.9 196.0,266.9 196.5,270.4 196.9,269.5 197.3,270.7 197.8,261.9 198.2,278.2 198.6,269.4 199.1,272.2 199.5,264.7 199.9,263.3 200.4,269.4 200.8,267.6 201.2,272.0 201.7,264.5 202.1,264.1 202.5,270.1 203.0,271.6 203.4,272.5 203.8,268.0 204.3,269.2 204.7,264.1 205.1,273.8 205.6,272.9 206.0,272.6 206.4,259.8 206.9,271.3 207.3,263.6 207.7,269.2 208.2,268.7 208.6,272.3 209.0,265.6 209.5,264.7 209.9,261.5 210.3,260.5 210.8,268.6 211.2,261.5 211.6,268.7 212.1,263.7 212.5,262.7 212.9,269.6 213.4,269.0 213.8,260.2 214.2,263.9 214.7,264.5 215.1,267.5 215.5,260.8 216.0,262.1 216.4,263.4 216.8,267.0 217.3,267.8 217.7,260.9 218.1,271.5 218.6,265.1 219.0,259.3 219.4,255.6 219.9,260.3 220.3,251.4 220.7,263.2 221.2,264.8 221.6,268.0 222.0,264.2 222.5,253.7 222.9,260.2 223.3,264.6 223.8,251.1 224.2,257.2 224.6,263.8 225.0,261.0 225.5,251.2 225.9,258.1 226.3,260.4 226.8,269.8 227.2,257.9 227.6,255.5 228.1,260.8 228.5,261.0 228.9,262.0 229.4,265.9 229.8,258.7 230.2,252.4 230.7,258.9 231.1,258.6 231.5,262.9 232.0,262.1 232.4,254.6 232.8,261.5 233.3,262.4 233.7,256.7 234.1,261.8 234.6,258.0 235.0,257.9 235.4,256.3 235.9,260.6 236.3,270.1 236.7,257.5 237.2,250.9 237.6,255.1 238.0,253.3 238.5,257.4 238.9,255.1 239.3,267.5 239.8,258.9 240.2,264.0 240.6,251.8 241.1,254.0 241.5,264.5 241.9,246.8 242.4,255.2 242.8,247.1 243.2,261.5 243.7,247.5 244.1,252.5 244.5,253.0 245.0,245.8 245.4,265.1 245.8,252.6 246.3,261.0 246.7,249.9 247.1,246.1 247.6,253.9 248.0,253.6 248.4,266.3 248.9,247.5 249.3,245.0 249.7,248.9 250.2,253.5 250.6,254.6 251.0,248.3 251.5,250.0 251.9,254.1 252.3,256.5 252.8,248.4 253.2,251.7 253.6,237.9 254.1,246.3 254.5,252.7 254.9,250.5 255.4,249.6 255.8,257.9 256.2,248.8 256.7,244.9 257.1,250.9 257.5,250.7 258.0,244.2 258.4,254.2 258.8,257.4 259.3,246.4 259.7,244.9 260.1,248.5 260.5,254.7 261.0,246.0 261.4,245.0 261.8,245.5 262.3,249.3 262.7,249.1 263.1,247.1 263.6,253.4 264.0,258.2 264.4,244.7 264.9,252.2 265.3,248.4 265.7,261.2 266.2,242.6 266.6,245.0 267.0,247.0 267.5,239.6 267.9,245.2 268.3,249.4 268.8,239.0 269.2,246.2 269.6,253.9 270.1,242.5 270.5,240.9 270.9,232.9 271.4,244.3 271.8,236.9 272.2,247.1 272.7,252.0 273.1,246.7 273.5,240.1 274.0,246.8 274.4,241.3 274.8,238.0 275.3,240.8 275.7,244.1 276.1,241.0 276.6,245.1 277.0,252.6 277.4,245.1 277.9,245.6 278.3,238.6 278.7,247.9 279.2,243.1 279.6,246.0 280.0,237.3 280.5,241.9 280.9,229.4 281.3,238.7 281.8,236.2 282.2,235.2 282.6,248.1 283.1,232.3 283.5,238.7 283.9,238.5 284.4,241.5 284.8,243.6 285.2,230.9 285.7,235.7 286.1,234.8 286.5,241.2 287.0,242.1 287.4,235.5 287.8,234.6 288.3,232.2 288.7,238.5 289.1,244.5 289.6,238.1 290.0,232.8 290.4,231.9 290.9,232.3 291.3,227.6 291.7,243.5 292.2,235.3 292.6,233.1 293.0,245.2 293.5,235.3 293.9,241.1 294.3,235.1 294.8,238.8 295.2,233.6 295.6,231.3 296.0,234.7 296.5,235.9 296.9,237.5 297.3,233.0 297.8,230.6 298.2,229.7 298.6,232.7 299.1,228.6 299.5,229.1 299.9,233.0 300.4,233.0 300.8,232.3 301.2,226.1 301.7,222.5 302.1,230.4 302.5,229.4 303.0,226.7 303.4,229.3 303.8,232.1 304.3,226.7 304.7,229.3 305.1,222.5 305.6,225.8 306.0,222.6 306.4,219.4 306.9,228.1 307.3,212.1 307.7,225.1 308.2,228.8 308.6,226.7 309.0,217.1 309.5,225.4 309.9,215.2 310.3,219.4 310.8,230.2 311.2,223.8 311.6,228.4 312.1,217.2 312.5,212.2 312.9,218.2 313.4,227.7 313.8,225.7 314.2,226.1 314.7,219.9 315.1,219.9 315.5,219.0 316.0,233.6 316.4,219.8 316.8,227.5 317.3,217.9 317.7,225.1 318.1,212.9 318.6,215.4 319.0,219.2 319.4,214.4 319.9,214.8 320.3,215.7 320.7,213.6 321.2,223.3 321.6,220.9 322.0,208.4 322.5,223.1 322.9,214.3 323.3,214.0 323.8,213.0 324.2,217.6 324.6,216.5 325.1,210.2 325.5,212.6 325.9,205.7 326.4,220.6 326.8,207.2 327.2,206.7 327.7,207.1 328.1,210.9 328.5,213.5 329.0,207.8 329.4,209.2 329.8,207.1 330.3,214.6 330.7,209.1 331.1,199.4 331.5,214.3 332.0,208.4 332.4,215.7 332.8,203.1 333.3,203.2 333.7,204.4 334.1,198.0 334.6,202.6 335.0,210.1 335.4,207.0 335.9,191.6 336.3,209.0 336.7,204.1 337.2,205.9 337.6,201.7 338.0,202.0 338.5,201.0 338.9,200.5 339.3,194.8 339.8,204.4 340.2,200.0 340.6,200.4 341.1,199.8 341.5,196.2 341.9,196.9 342.4,190.3 342.8,197.6 343.2,197.2 343.7,194.3 344.1,186.6 344.5,201.0 345.0,193.2 345.4,193.5 345.8,191.7 346.3,189.8 346.7,190.3 347.1,186.4 347.6,188.5 348.0,200.9 348.4,196.2 348.9,199.7 349.3,186.5 349.7,179.9 350.2,182.0 350.6,175.3 351.0,192.9 351.5,193.2 351.9,187.3 352.3,188.1 352.8,187.6 353.2,184.8 353.6,188.5 354.1,179.5 354.5,181.8 354.9,182.8 355.4,174.8 355.8,177.7 356.2,184.3 356.7,183.4 357.1,169.2 357.5,185.2 358.0,182.0 358.4,183.6 358.8,179.1 359.3,181.8 359.7,172.2 360.1,177.0 360.6,172.4 361.0,174.6 361.4,182.3 361.9,184.1 362.3,175.9 362.7,173.1 363.2,178.6 363.6,176.5 364.0,183.2 364.5,176.4 364.9,161.5 365.3,172.7 365.8,170.4 366.2,167.6 366.6,171.7 367.1,170.8 367.5,168.3 367.9,176.9 368.3,170.9 368.8,170.6 369.2,168.9 369.6,173.6 370.1,161.7 370.5,172.6 370.9,165.0 371.4,172.9 371.8,172.1 372.2,167.1 372.7,162.0 373.1,165.0 373.5,164.9 374.0,155.5 374.4,160.5 374.8,158.2 375.3,167.8 375.7,168.9 376.1,156.5 376.6,156.9 377.0,152.5 377.4,159.7 377.9,161.9 378.3,166.1 378.7,150.5 379.2,160.8 379.6,155.0 380.0,151.6 380.5,152.9 380.9,150.3 381.3,155.6 381.8,152.8 382.2,158.0 382.6,149.1 383.1,141.9 383.5,145.6 383.9,151.5 384.4,142.0 384.8,144.9 385.2,150.5 385.7,140.6 386.1,150.7 386.5,147.6 387.0,142.5 387.4,144.4 387.8,141.6 388.3,141.4 388.7,141.1 389.1,142.1 389.6,140.9 390.0,137.0 390.4,135.2 390.9,149.4 391.3,133.2 391.7,137.2 392.2,143.1 392.6,141.4 393.0,132.3 393.5,145.0 393.9,143.1 394.3,132.2 394.8,127.0 395.2,135.5 395.6,130.8 396.1,129.6 396.5,126.4 396.9,126.7 397.4,129.7 397.8,132.7 398.2,117.4 398.7,115.2 399.1,130.9 399.5,121.4 400.0,128.2 400.4,124.7 400.8,129.6 401.3,127.3 401.7,120.8 402.1,120.7 402.6,122.4 403.0,123.8 403.4,116.5 403.8,111.4 404.3,118.8 404.7,117.4 405.1,116.2 405.6,111.4 406.0,118.7 406.4,106.6 406.9,112.0 407.3,120.1 407.7,107.6 408.2,114.5 408.6,114.0 409.0,113.2 409.5,102.2 409.9,114.7 410.3,109.7 410.8,110.7 411.2,109.1 411.6,107.2 412.1,112.2 412.5,112.6 412.9,95.6 413.4,100.3 413.8,102.6 414.2,92.0 414.7,109.2 415.1,97.5 415.5,103.4 416.0,101.0 416.4,98.1 416.8,93.6 417.3,96.1 417.7,97.6 418.1,100.4 418.6,94.8 419.0,93.2 419.4,93.3 419.9,100.3 420.3,94.7 420.7,89.3 421.2,85.8 421.6,89.4 422.0,86.4 422.5,88.2 422.9,96.4 423.3,92.6 423.8,89.8 424.2,90.1 424.6,96.1 425.1,81.5 425.5,88.8 425.9,85.1 426.4,86.4 426.8,85.6 427.2,83.3 427.7,87.1 428.1,73.4 428.5,85.2 429.0,86.7 429.4,78.3 429.8,77.9 430.3,91.9 430.7,77.8 431.1,80.1 431.6,77.8 432.0,78.4 432.4,77.8 432.9,70.4 433.3,92.3 433.7,76.7 434.2,81.9 434.6,79.4 435.0,86.2 435.5,82.7 435.9,84.6 436.3,84.5 436.8,82.6 437.2,78.4 437.6,82.5 438.1,69.9 438.5,81.9 438.9,80.8 439.3,78.6 439.8,70.3 440.2,83.3 440.6,73.1 441.1,79.4 441.5,66.9 441.9,75.0 442.4,72.5 442.8,71.7 443.2,72.1 443.7,84.0 444.1,74.9 444.5,76.7 445.0,85.4 445.4,67.6 445.8,82.2 446.3,72.7 446.7,71.3 447.1,72.3 447.6,65.3 448.0,66.6 448.4,68.5 448.9,71.3 449.3,77.6 449.7,79.5 450.2,72.3 450.6,76.0 451.0,76.3 451.5,73.1 451.9,75.5 452.3,71.6 452.8,77.5 453.2,73.9 453.6,75.4 454.1,76.8 454.5,76.5 454.9,72.6 455.4,69.8 455.8,76.5 456.2,74.4 456.7,75.0 457.1,77.6 457.5,75.0 458.0,81.2 458.4,81.4 458.8,75.6 459.3,82.2 459.7,76.3 460.1,84.9 460.6,85.0 461.0,82.5 461.4,87.3 461.9,88.5 462.3,86.3 462.7,76.1 463.2,85.9 463.6,86.8 464.0,90.1 464.5,82.4 464.9,90.7 465.3,89.6 465.8,90.4 466.2,83.6 466.6,85.9 467.1,95.5 467.5,94.8 467.9,91.4 468.4,97.3 468.8,94.4 469.2,92.1 469.7,87.9 470.1,99.9 470.5,95.7 471.0,98.2 471.4,90.3 471.8,96.6 472.3,101.0 472.7,99.6 473.1,98.5 473.6,97.8 474.0,104.3 474.4,102.9 474.8,104.0 475.3,105.2 475.7,104.8 476.1,107.1 476.6,107.0 477.0,110.6 477.4,106.1 477.9,108.3 478.3,113.9 478.7,114.2 479.2,116.6 479.6,124.9 480.0,121.1 480.5,123.7 480.9,122.3 481.3,121.6 481.8,120.4 482.2,117.9 482.6,121.1 483.1,119.3 483.5,125.2 483.9,125.1 484.4,129.0 484.8,133.9 485.2,134.2 485.7,140.3 486.1,142.0 486.5,144.1 487.0,145.2 487.4,144.9 487.8,144.0 488.3,148.9 488.7,148.3 489.1,150.1 489.6,153.7 490.0,150.7 490.4,150.7 490.9,158.4 491.3,164.4 491.7,164.0 492.2,173.4 492.6,159.7 493.0,163.6 493.5,160.5 493.9,166.3 494.3,175.7 494.8,176.6 495.2,170.9 495.6,174.6 496.1,175.0 496.5,175.4 496.9,180.1 497.4,181.7 497.8,184.7 498.2,187.0 498.7,190.1 499.1,193.7 499.5,192.1 500.0,193.9 500.4,196.6 500.8,199.9 501.3,200.8 501.7,201.2 502.1,204.9 502.6,210.6 503.0,209.6 503.4,216.8 503.9,215.0 504.3,222.6 504.7,225.7 505.2,227.1 505.6,230.6 506.0,233.1 506.5,239.9 506.9,238.3 507.3,240.4 507.8,245.2 508.2,249.2 508.6,250.2 509.1,251.8 509.5,256.5 509.9,255.6 510.3,258.1 510.8,259.8 511.2,266.6 511.6,263.2 512.1,267.3 512.5,272.5 512.9,275.4 513.4,280.3 513.8,280.9 514.2,282.2 514.7,288.0 515.1,290.3 515.5,293.4 516.0,296.1 516.4,298.3 516.8,298.5 517.3,302.1 517.7,309.4 518.1,309.8 518.6,310.4 519.0,316.0 519.4,320.3 519.9,322.7 520.3,325.4 520.7,325.7 521.2,331.8 521.6,334.8 522.0,340.3 522.5,341.8 522.9,345.2 523.3,348.3 523.8,352.0 524.2,355.8 524.6,358.2 525.1,360.9 525.5,363.4 525.9,367.3 526.4,369.5 526.8,372.0 527.2,373.5 527.7,376.5 528.1,378.0 528.5,382.5 529.0,384.9 529.4,386.5 529.8,388.2 530.3,390.8 530.7,391.4 531.1,393.6 531.6,397.5 532.0,397.9 532.4,400.5 532.9,402.1 533.3,402.8 533.7,406.0 534.2,409.0 534.6,411.3 535.0,410.6 535.5,413.2 535.9,415.9 536.3,418.8 536.8,420.9 537.2,423.1 537.6,425.1 538.1,425.7 538.5,427.2 538.9,430.3 539.4,431.4 539.8,433.4 540.2,435.0 540.7,436.7 541.1,439.1 541.5,439.7 542.0,440.9 542.4,443.0 542.8,444.9 543.3,446.1 543.7,447.5 544.1,447.8 544.6,449.7 545.0,452.0 545.4,452.6 545.8,453.5 546.3,455.6 546.7,456.0 547.1,457.8 547.6,458.7 548.0,459.9 548.4,461.3 548.9,462.9 549.3,463.5 549.7,463.6 550.2,464.4 550.6,465.7 551.0,466.7 551.5,468.0 551.9,468.6 552.3,469.4 552.8,469.5 553.2,470.9 553.6,471.8 554.1,472.9 554.5,473.1 554.9,473.4 555.4,473.5 555.8,474.5 556.2,475.0 556.7,475.4 557.1,476.0 557.5,476.6 558.0,477.1 558.4,478.1 558.8,477.6 559.3,477.8 559.7,478.8 560.1,478.8 560.6,479.5 561.0,479.9 561.4,480.1 561.9,480.9 562.3,481.2 562.7,481.5 563.2,481.9 563.6,482.3 564.0,482.3 564.5,482.8 564.9,483.0 565.3,483.2 565.8,483.4 566.2,484.0 566.6,484.0 567.1,483.9 567.5,484.4 567.9,484.1 568.4,484.7 568.8,484.9 569.2,485.1 569.7,485.0 570.1,485.1 570.5,485.5 571.0,485.5 571.4,485.7 571.8,485.6 572.3,485.8 572.7,485.7 573.1,486.0 573.6,485.9 574.0,486.1 574.4,486.2 574.9,486.5 575.3,486.6 575.7,486.5 576.2,486.8 576.6,486.8 577.0,486.7 577.5,486.9 577.9,486.8 578.3,487.1 578.8,487.2 579.2,487.1 579.6,487.3 580.1,487.4 580.5,487.2 580.9,487.4 581.4,487.3 581.8,487.3 582.2,487.5 582.6,487.3 583.1,487.4 583.5,487.4 583.9,487.4 584.4,487.5 584.8,487.3 585.2,487.5 585.7,487.6 586.1,487.6 586.5,487.4 587.0,487.3 587.4,487.3 587.8,487.4 588.3,487.4 588.7,487.4 589.1,487.3 589.6,487.2 590.0,487.4 590.4,487.4 590.9,487.4 591.3,487.3 591.7,487.4 592.2,487.4 592.6,487.3 593.0,487.5 593.5,487.4 593.9,487.4 594.3,487.4 594.8,487.4 595.2,487.4 595.6,487.4 596.1,487.5 596.5,487.5 596.9,487.4 597.4,487.5 597.8,487.5 598.2,487.3 598.7,487.4 599.1,487.4 599.5,487.4 600.0,487.6 600.4,487.5 600.8,487.4 601.3,487.4 601.7,487.3 602.1,487.3 602.6,487.5 603.0,487.2 603.4,487.5 603.9,487.3 604.3,487.4 604.7,487.4 605.2,487.6 605.6,487.4 606.0,487.4 606.5,487.5 606.9,487.2 607.3,487.6 607.8,487.3 608.2,487.3 608.6,487.5 609.1,487.3 609.5,487.3 609.9,487.5 610.4,487.4 610.8,487.5 611.2,487.4 611.7,487.4 612.1,487.5 612.5,487.4 613.0,487.6 613.4,487.3 613.8,487.3 614.3,487.3 614.7,487.4 615.1,487.3 615.6,487.3 616.0,487.5 616.4,487.4 616.9,487.5 617.3,487.4 617.7,487.4 618.1,487.3 618.6,487.4 619.0,487.4 619.4,487.4 619.9,487.4 620.3,487.5 620.7,487.5 621.2,487.4 621.6,487.4 622.0,487.4 622.5,487.6 622.9,487.4 623.3,487.6 623.8,487.3 624.2,487.3 624.6,487.6 625.1,487.4 625.5,487.5 625.9,487.4 626.4,487.4 626.8,487.5 627.2,487.4 627.7,487.4 628.1,487.4 628.5,487.3 629.0,487.4 629.4,487.4 629.8,487.4 630.3,487.4 630.7,487.3 631.1,487.4 631.6,487.4 632.0,487.5 632.4,487.5 632.9,487.4 633.3,487.4 633.7,487.4 634.2,487.3 634.6,487.4 635.0,487.4 635.5,487.4 635.9,487.4 636.3,487.4 636.8,487.4 637.2,487.3 637.6,487.5 638.1,487.4 638.5,487.4 638.9,487.4 639.4,487.3 639.8,487.4 640.2,487.4 640.7,487.3 641.1,487.4 641.5,487.5 642.0,487.4 642.4,487.4 642.8,487.4 643.3,487.4 643.7,487.4 644.1,487.3 644.6,487.5 645.0,487.4 645.4,487.3 645.9,487.5 646.3,487.5 646.7,487.3 647.2,487.4 647.6,487.3 648.0,487.5 648.5,487.3 648.9,487.4 649.3,487.4 649.8,487.5 650.2,487.3 650.6,487.3 651.1,487.4 651.5,487.5 651.9,487.4 652.4,487.4 652.8,487.4 653.2,487.3 653.6,487.4 654.1,487.4 654.5,487.4 654.9,487.3 655.4,487.4 655.8,487.4 656.2,487.3 656.7,487.4 657.1,487.4 657.5,487.3 658.0,487.5 658.4,487.4 658.8,487.4 659.3,487.4 659.7,487.4 660.1,487.3 660.6,487.4 661.0,487.4 661.4,487.4 661.9,487.4 662.3,487.3 662.7,487.3 663.2,487.4 663.6,487.5 664.0,487.4 664.5,487.4 664.9,487.4 665.3,487.4 665.8,487.5 666.2,487.4 666.6,487.5 667.1,487.4 667.5,487.5 667.9,487.4 668.4,487.4 668.8,487.3 669.2,487.4 669.7,487.4 670.1,487.4 670.5,487.5 671.0,487.4 671.4,487.3 671.8,487.4 672.3,487.4 672.7,487.4 673.1,487.4 673.6,487.5 674.0,487.4 674.4,487.4 674.9,487.3 675.3,487.4 675.7,487.4 676.2,487.3 676.6,487.5 677.0,487.4 677.5,487.4 677.9,487.4 678.3,487.4 678.8,487.5 679.2,487.5 679.6,487.4 680.1,487.4 680.5,487.5 680.9,487.5 681.4,487.4 681.8,487.4 682.2,487.4 682.7,487.5 683.1,487.4 683.5,487.4 684.0,487.4 684.4,487.5 684.8,487.3 685.3,487.4 685.7,487.4 686.1,487.5 686.6,487.5 687.0,487.5 687.4,487.3 687.9,487.3 688.3,487.3 688.7,487.5 689.1,487.4 689.6,487.4 690.0,487.4 690.4,487.4 690.9,487.4 691.3,487.4 691.7,487.4 692.2,487.3 692.6,487.5 693.0,487.5 693.5,487.4 693.9,487.4 694.3,487.5 694.8,487.5 695.2,487.4 695.6,487.4 696.1,487.4 696.5,487.4 696.9,487.3 697.4,487.3 697.8,487.4 698.2,487.4 698.7,487.4 699.1,487.4 699.5,487.4 700.0,487.4 700.4,487.4 700.8,487.4 701.3,487.4 701.7,487.5 702.1,487.4 702.6,487.4 703.0,487.4 703.4,487.4 703.9,487.4 704.3,487.5 704.7,487.4 705.2,487.4 705.6,487.5 706.0,487.4 706.5,487.4 706.9,487.5 707.3,487.4 707.8,487.4 708.2,487.4 708.6,487.4 709.1,487.4 709.5,487.4 709.9,487.4 710.4,487.4 710.8,487.5 711.2,487.4 711.7,487.5 712.1,487.4 712.5,487.4 713.0,487.3 713.4,487.4 713.8,487.4 714.3,487.4 714.7,487.3 715.1,487.3 715.6,487.4 716.0,487.5 716.4,487.4 716.9,487.5 717.3,487.4 717.7,487.4 718.2,487.4 718.6,487.4 719.0,487.3 719.5,487.4 719.9,487.4 720.3,487.4 720.8,487.4 721.2,487.4 721.6,487.4 722.1,487.4 722.5,487.4 722.9,487.4 723.4,487.4 723.8,487.4 724.2,487.4 724.6,487.3 725.1,487.4 725.5,487.4 725.9,487.4 726.4,487.4 726.8,487.4 727.2,487.5 727.7,487.4 728.1,487.4 728.5,487.4 729.0,487.4 729.4,487.4 729.8,487.4 730.3,487.4 730.7,487.4 731.1,487.4 731.6,487.3 732.0,487.4 732.4,487.4 732.9,487.4 733.3,487.4 733.7,487.4 734.2,487.4 734.6,487.4 735.0,487.4 735.5,487.4 735.9,487.4 736.3,487.4 736.8,487.4 737.2,487.4 737.6,487.4 738.1,487.4 738.5,487.4 738.9,487.4 739.4,487.4 739.8,487.3 740.2,487.4 740.7,487.4 741.1,487.4 741.5,487.4 742.0,487.4 742.4,487.4 742.8,487.4 743.3,487.4 743.7,487.3 744.1,487.4 744.6,487.4 745.0,487.4 745.4,487.5 745.9,487.4 746.3,487.4 746.7,487.4 747.2,487.5 747.6,487.4 748.0,487.5 748.5,487.4 748.9,487.4 749.3,487.4 749.8,487.4 750.2,487.4 750.6,487.4 751.1,487.4 751.5,487.5 751.9,487.4 752.4,487.4 752.8,487.4 753.2,487.4 753.7,487.4 754.1,487.4 754.5,487.4 755.0,487.4 755.4,487.4 755.8,487.4 756.3,487.4 756.7,487.4 757.1,487.4 757.6,487.4 758.0,487.4 758.4,487.4 758.9,487.4 759.3,487.4 759.7,487.4 760.1,487.4 760.6,487.4 761.0,487.4 761.4,487.4 761.9,487.4 762.3,487.4 762.7,487.4 763.2,487.4 763.6,487.4 764.0,487.4 764.5,487.4 764.9,487.4 765.3,487.4 765.8,487.4 766.2,487.4 766.6,487.4 767.1,487.4 767.5,487.4 767.9,487.4 768.4,487.4 768.8,487.4 769.2,487.4 769.7,487.4 770.1,487.4 770.5,487.4 771.0,487.4 771.4,487.4 771.8,487.4 772.3,487.4 772.7,487.4 773.1,487.4 773.6,487.4 774.0,487.4 774.4,487.4 774.9,487.4 775.3,487.4 775.7,487.4 776.2,487.4 776.6,487.4 777.0,487.4 777.5,487.4 777.9,487.4 778.3,487.4 778.8,487.4 779.2,487.4 779.6,487.4 780.1,487.4 780.5,487.4 780.9,487.4 781.4,487.4 781.8,487.4 782.2,487.4 782.7,487.4 783.1,487.4 783.5,487.4 784.0,487.4 784.4,487.4 784.8,487.4 785.3,487.4 785.7,487.4 786.1,487.4 786.6,487.4 787.0,487.4 787.4,487.4 787.9,487.4 788.3,487.4 788.7,487.4 789.2,487.4 789.6,487.4 790.0,487.4 790.5,487.4 790.9,487.4 791.3,487.4 791.8,487.4 792.2,487.4 792.6,487.4 793.1,487.4 793.5,487.4 793.9,487.4 794.4,487.4 794.8,487.4 795.2,487.4 795.6,487.4 796.1,487.4 796.5,487.4 796.9,487.4 797.4,487.4 797.8,487.4 798.2,487.4 798.7,487.4 799.1,487.4 799.5,487.4 800.0,487.4 800.4,487.4 800.8,487.4 801.3,487.4 801.7,487.4 802.1,487.4 802.6,487.4 803.0,487.4 803.4,487.4 803.9,487.4 804.3,487.4 804.7,487.4 805.2,487.4 805.6,487.4 806.0,487.4 806.5,487.4 806.9,487.4 807.3,487.4 807.8,487.4 808.2,487.4 808.6,487.4 809.1,487.4 809.5,487.4 809.9,487.4 810.4,487.4 810.8,487.4 811.2,487.4 811.7,487.4 812.1,487.4 812.5,487.4 813.0,487.4 813.4,487.4" stroke="#56b4e9" stroke-width="9" fill="none" stroke-linejoin="round" stroke-linecap="round"/>
<polyline points="99.5,284.0 99.7,272.8 99.9,293.5 100.1,284.2 100.4,291.0 100.6,280.4 100.8,290.1 101.0,279.1 101.2,295.2 101.4,285.9 101.7,284.0 101.9,269.8 102.1,273.2 102.3,283.6 102.5,282.8 102.7,282.8 103.0,283.4 103.2,292.1 103.4,284.0 103.6,284.0 103.8,281.9 104.0,280.0 104.3,288.5 104.5,283.8 104.7,284.1 104.9,288.0 105.1,286.7 105.3,290.9 105.6,290.7 105.8,278.7 106.0,281.7 106.2,292.0 106.4,284.1 106.6,290.0 106.9,281.1 107.1,272.0 107.3,273.4 107.5,282.2 107.7,283.8 107.9,300.2 108.2,290.8 108.4,290.5 108.6,291.8 108.8,277.0 109.0,286.8 109.2,285.8 109.5,298.1 109.7,282.3 109.9,277.9 110.1,286.9 110.3,285.4 110.5,287.1 110.8,287.9 111.0,287.5 111.2,282.8 111.4,284.0 111.6,300.2 111.8,282.9 112.1,289.6 112.3,280.7 112.5,276.5 112.7,292.0 112.9,287.9 113.1,294.6 113.3,293.0 113.6,288.3 113.8,282.5 114.0,298.3 114.2,287.4 114.4,299.7 114.6,291.3 114.9,292.6 115.1,290.9 115.3,290.0 115.5,286.2 115.7,301.2 115.9,282.2 116.2,278.5 116.4,289.2 116.6,283.6 116.8,293.2 117.0,286.4 117.2,294.4 117.5,288.0 117.7,282.9 117.9,285.5 118.1,291.6 118.3,283.8 118.5,282.5 118.8,286.3 119.0,289.2 119.2,294.6 119.4,289.9 119.6,292.4 119.8,286.2 120.1,298.2 120.3,300.2 120.5,283.5 120.7,288.7 120.9,286.6 121.1,289.2 121.4,285.5 121.6,283.1 121.8,279.6 122.0,284.3 122.2,287.3 122.4,293.3 122.7,290.5 122.9,284.8 123.1,283.3 123.3,278.3 123.5,291.2 123.7,287.7 124.0,290.7 124.2,291.6 124.4,290.3 124.6,286.5 124.8,285.4 125.0,281.2 125.3,283.3 125.5,289.5 125.7,300.3 125.9,284.6 126.1,288.3 126.3,305.8 126.5,287.5 126.8,284.9 127.0,286.9 127.2,285.4 127.4,275.4 127.6,291.7 127.8,276.2 128.1,283.3 128.3,284.0 128.5,289.2 128.7,285.2 128.9,283.6 129.1,281.2 129.4,287.7 129.6,284.2 129.8,281.9 130.0,278.2 130.2,281.0 130.4,286.9 130.7,276.7 130.9,286.7 131.1,286.4 131.3,292.7 131.5,281.8 131.7,280.0 132.0,285.2 132.2,283.4 132.4,270.3 132.6,292.7 132.8,287.0 133.0,286.4 133.3,280.8 133.5,287.7 133.7,283.9 133.9,294.9 134.1,289.7 134.3,294.0 134.6,278.3 134.8,280.4 135.0,283.1 135.2,281.9 135.4,295.0 135.6,287.7 135.9,279.2 136.1,283.9 136.3,296.3 136.5,283.7 136.7,289.1 136.9,275.3 137.2,282.2 137.4,284.6 137.6,284.0 137.8,285.5 138.0,287.5 138.2,292.2 138.5,275.1 138.7,285.8 138.9,289.6 139.1,286.8 139.3,292.2 139.5,284.6 139.8,282.8 140.0,280.5 140.2,290.8 140.4,277.8 140.6,282.8 140.8,285.1 141.0,289.0 141.3,283.6 141.5,279.7 141.7,288.7 141.9,278.5 142.1,280.9 142.3,273.3 142.6,286.2 142.8,285.9 143.0,274.7 143.2,283.7 143.4,288.3 143.6,281.0 143.9,275.0 144.1,284.3 144.3,288.5 144.5,273.8 144.7,289.9 144.9,284.4 145.2,290.2 145.4,278.6 145.6,290.2 145.8,286.6 146.0,289.3 146.2,285.1 146.5,290.5 146.7,283.6 146.9,282.0 147.1,278.5 147.3,275.3 147.5,285.0 147.8,282.5 148.0,283.9 148.2,282.8 148.4,286.5 148.6,284.7 148.8,280.9 149.1,288.8 149.3,296.8 149.5,279.1 149.7,281.7 149.9,287.6 150.1,280.0 150.4,290.3 150.6,280.2 150.8,277.1 151.0,278.6 151.2,290.5 151.4,272.2 151.7,284.9 151.9,271.5 152.1,288.5 152.3,286.5 152.5,288.1 152.7,296.9 153.0,283.9 153.2,291.2 153.4,287.9 153.6,290.6 153.8,279.9 154.0,291.1 154.2,282.6 154.5,293.2 154.7,290.1 154.9,284.9 155.1,288.1 155.3,287.8 155.5,285.9 155.8,300.5 156.0,279.6 156.2,276.4 156.4,276.6 156.6,283.0 156.8,284.2 157.1,288.5 157.3,290.3 157.5,285.9 157.7,285.3 157.9,278.8 158.1,290.4 158.4,292.6 158.6,283.6 158.8,288.6 159.0,280.5 159.2,284.1 159.4,284.8 159.7,289.3 159.9,275.4 160.1,284.4 160.3,289.3 160.5,286.0 160.7,287.8 161.0,268.9 161.2,278.6 161.4,281.1 161.6,279.0 161.8,269.5 162.0,289.7 162.3,284.8 162.5,271.6 162.7,280.2 162.9,283.2 163.1,288.7 163.3,286.8 163.6,276.7 163.8,278.8 164.0,284.0 164.2,288.5 164.4,279.8 164.6,278.6 164.9,285.8 165.1,283.1 165.3,290.4 165.5,285.1 165.7,288.1 165.9,270.2 166.2,273.8 166.4,272.7 166.6,277.7 166.8,283.8 167.0,280.0 167.2,284.6 167.4,276.9 167.7,287.2 167.9,286.4 168.1,270.8 168.3,274.7 168.5,277.3 168.7,285.9 169.0,285.6 169.2,291.7 169.4,271.7 169.6,282.0 169.8,280.5 170.0,278.8 170.3,279.6 170.5,267.9 170.7,282.1 170.9,277.7 171.1,272.6 171.3,288.6 171.6,275.8 171.8,281.3 172.0,275.7 172.2,270.4 172.4,276.9 172.6,281.6 172.9,273.5 173.1,282.6 173.3,289.8 173.5,286.7 173.7,277.5 173.9,274.6 174.2,284.9 174.4,270.8 174.6,272.9 174.8,289.7 175.0,281.5 175.2,282.2 175.5,277.4 175.7,296.4 175.9,298.2 176.1,278.2 176.3,284.2 176.5,277.4 176.8,281.9 177.0,287.2 177.2,286.8 177.4,277.5 177.6,281.4 177.8,296.2 178.1,284.8 178.3,287.6 178.5,282.3 178.7,278.1 178.9,272.0 179.1,272.7 179.4,268.4 179.6,271.8 179.8,273.0 180.0,282.8 180.2,268.1 180.4,280.8 180.6,266.1 180.9,294.1 181.1,274.5 181.3,278.9 181.5,288.7 181.7,276.6 181.9,278.4 182.2,278.6 182.4,281.1 182.6,274.5 182.8,288.3 183.0,284.5 183.2,278.3 183.5,284.8 183.7,276.6 183.9,274.0 184.1,276.5 184.3,279.9 184.5,267.5 184.8,274.9 185.0,279.6 185.2,270.0 185.4,278.7 185.6,269.8 185.8,277.8 186.1,276.0 186.3,278.5 186.5,271.8 186.7,264.1 186.9,260.2 187.1,299.1 187.4,267.0 187.6,270.6 187.8,265.6 188.0,284.4 188.2,280.2 188.4,280.9 188.7,268.5 188.9,281.8 189.1,270.7 189.3,283.0 189.5,274.8 189.7,261.0 190.0,274.5 190.2,269.6 190.4,290.0 190.6,266.7 190.8,273.0 191.0,273.0 191.3,269.4 191.5,270.0 191.7,274.2 191.9,276.6 192.1,271.7 192.3,272.6 192.6,274.2 192.8,268.2 193.0,272.5 193.2,274.1 193.4,280.2 193.6,278.0 193.8,276.7 194.1,279.3 194.3,268.7 194.5,280.4 194.7,271.0 194.9,272.3 195.1,270.6 195.4,277.1 195.6,269.0 195.8,276.5 196.0,270.6 196.2,269.5 196.4,275.0 196.7,267.2 196.9,279.7 197.1,267.8 197.3,269.2 197.5,279.5 197.7,262.8 198.0,277.4 198.2,272.2 198.4,272.2 198.6,272.8 198.8,265.8 199.0,281.5 199.3,274.6 199.5,275.2 199.7,276.1 199.9,276.9 200.1,272.8 200.3,264.9 200.6,262.7 200.8,262.2 201.0,267.6 201.2,276.5 201.4,262.2 201.6,267.9 201.9,273.7 202.1,267.8 202.3,268.1 202.5,263.1 202.7,270.6 202.9,265.8 203.2,265.0 203.4,266.7 203.6,271.4 203.8,275.0 204.0,261.8 204.2,271.8 204.5,261.9 204.7,257.1 204.9,264.4 205.1,268.7 205.3,268.0 205.5,270.5 205.8,255.7 206.0,276.6 206.2,273.0 206.4,271.9 206.6,257.9 206.8,270.5 207.1,264.5 207.3,264.5 207.5,267.5 207.7,257.5 207.9,273.9 208.1,273.4 208.3,272.0 208.6,275.6 208.8,256.5 209.0,265.0 209.2,264.6 209.4,259.0 209.6,271.6 209.9,282.1 210.1,260.0 210.3,269.9 210.5,266.7 210.7,267.1 210.9,266.7 211.2,270.2 211.4,262.1 211.6,263.4 211.8,275.9 212.0,265.8 212.2,265.6 212.5,254.8 212.7,268.3 212.9,269.1 213.1,266.9 213.3,274.8 213.5,252.9 213.8,270.4 214.0,254.9 214.2,258.3 214.4,252.5 214.6,269.5 214.8,263.6 215.1,261.6 215.3,264.4 215.5,251.2 215.7,260.2 215.9,265.1 216.1,260.1 216.4,263.3 216.6,253.9 216.8,264.5 217.0,261.5 217.2,264.6 217.4,272.7 217.7,263.5 217.9,259.3 218.1,265.3 218.3,256.0 218.5,272.7 218.7,262.7 219.0,262.6 219.2,265.5 219.4,254.7 219.6,262.1 219.8,260.8 220.0,275.2 220.3,270.8 220.5,273.1 220.7,262.1 220.9,262.7 221.1,268.1 221.3,257.4 221.5,255.9 221.8,271.0 222.0,264.3 222.2,264.2 222.4,250.7 222.6,258.5 222.8,258.2 223.1,256.6 223.3,262.9 223.5,255.2 223.7,253.5 223.9,272.6 224.1,263.5 224.4,254.3 224.6,273.5 224.8,263.9 225.0,262.6 225.2,243.9 225.4,269.5 225.7,261.4 225.9,267.9 226.1,270.8 226.3,252.4 226.5,271.7 226.7,265.3 227.0,260.9 227.2,246.1 227.4,272.1 227.6,262.1 227.8,263.8 228.0,252.7 228.3,263.6 228.5,263.3 228.7,268.9 228.9,254.0 229.1,246.3 229.3,255.8 229.6,253.4 229.8,261.0 230.0,258.3 230.2,260.5 230.4,266.9 230.6,269.4 230.9,259.3 231.1,249.2 231.3,258.7 231.5,257.5 231.7,258.1 231.9,257.6 232.2,258.2 232.4,244.9 232.6,261.6 232.8,261.2 233.0,260.1 233.2,257.2 233.5,263.3 233.7,247.4 233.9,257.0 234.1,261.1 234.3,254.7 234.5,256.9 234.7,263.4 235.0,256.1 235.2,251.7 235.4,254.1 235.6,259.1 235.8,250.5 236.0,256.8 236.3,254.2 236.5,257.0 236.7,261.1 236.9,260.9 237.1,256.8 237.3,257.7 237.6,261.0 237.8,251.5 238.0,257.1 238.2,249.1 238.4,263.5 238.6,256.5 238.9,248.1 239.1,252.9 239.3,260.3 239.5,257.4 239.7,245.6 239.9,266.2 240.2,256.9 240.4,257.7 240.6,253.5 240.8,250.4 241.0,246.1 241.2,256.1 241.5,255.0 241.7,253.5 241.9,259.6 242.1,256.9 242.3,248.7 242.5,252.3 242.8,261.5 243.0,246.3 243.2,267.5 243.4,251.2 243.6,270.0 243.8,257.1 244.1,244.7 244.3,257.1 244.5,254.8 244.7,251.6 244.9,254.5 245.1,254.4 245.4,234.4 245.6,258.4 245.8,252.1 246.0,254.0 246.2,258.1 246.4,253.7 246.7,246.2 246.9,258.5 247.1,251.6 247.3,254.9 247.5,249.0 247.7,252.4 247.9,247.2 248.2,262.7 248.4,246.7 248.6,258.9 248.8,241.6 249.0,254.4 249.2,251.1 249.5,258.7 249.7,254.1 249.9,266.4 250.1,270.4 250.3,249.2 250.5,256.7 250.8,246.7 251.0,246.5 251.2,251.9 251.4,257.6 251.6,256.1 251.8,251.0 252.1,258.9 252.3,244.8 252.5,246.4 252.7,251.4 252.9,240.7 253.1,259.9 253.4,250.9 253.6,249.6 253.8,254.2 254.0,243.3 254.2,250.7 254.4,241.0 254.7,250.3 254.9,252.0 255.1,260.9 255.3,251.2 255.5,259.3 255.7,250.9 256.0,241.1 256.2,255.4 256.4,251.2 256.6,247.2 256.8,256.3 257.0,244.1 257.3,248.1 257.5,254.7 257.7,255.4 257.9,246.2 258.1,252.0 258.3,250.5 258.6,253.8 258.8,248.5 259.0,236.9 259.2,247.5 259.4,258.9 259.6,244.4 259.9,248.2 260.1,254.4 260.3,247.9 260.5,242.6 260.7,249.0 260.9,247.9 261.1,243.7 261.4,247.9 261.6,240.3 261.8,239.2 262.0,241.7 262.2,247.4 262.4,248.5 262.7,244.7 262.9,254.9 263.1,251.9 263.3,248.4 263.5,255.0 263.7,257.1 264.0,252.2 264.2,244.4 264.4,252.9 264.6,254.9 264.8,250.1 265.0,246.8 265.3,249.1 265.5,249.4 265.7,236.0 265.9,256.8 266.1,247.4 266.3,259.1 266.6,247.3 266.8,241.8 267.0,251.7 267.2,247.1 267.4,251.9 267.6,243.7 267.9,243.5 268.1,242.0 268.3,241.9 268.5,248.5 268.7,238.1 268.9,246.8 269.2,252.2 269.4,239.6 269.6,244.0 269.8,240.5 270.0,242.7 270.2,245.8 270.5,249.1 270.7,250.1 270.9,240.5 271.1,248.6 271.3,240.6 271.5,237.2 271.8,238.2 272.0,232.1 272.2,244.0 272.4,232.4 272.6,244.8 272.8,259.6 273.1,237.6 273.3,230.4 273.5,245.3 273.7,236.5 273.9,242.6 274.1,242.7 274.4,244.0 274.6,256.5 274.8,244.3 275.0,243.9 275.2,241.6 275.4,237.6 275.6,238.1 275.9,235.4 276.1,247.0 276.3,240.7 276.5,245.6 276.7,243.4 276.9,255.0 277.2,240.6 277.4,244.9 277.6,237.2 277.8,248.0 278.0,239.6 278.2,240.9 278.5,232.1 278.7,243.9 278.9,250.6 279.1,248.5 279.3,233.4 279.5,245.4 279.8,235.5 280.0,229.6 280.2,231.9 280.4,247.2 280.6,237.4 280.8,231.7 281.1,241.3 281.3,241.0 281.5,236.9 281.7,241.7 281.9,236.2 282.1,246.0 282.4,243.0 282.6,237.7 282.8,240.2 283.0,243.3 283.2,237.0 283.4,240.7 283.7,236.6 283.9,235.2 284.1,225.2 284.3,229.1 284.5,230.4 284.7,236.8 285.0,252.5 285.2,230.3 285.4,233.2 285.6,227.8 285.8,233.2 286.0,234.0 286.3,239.5 286.5,226.5 286.7,238.0 286.9,236.3 287.1,232.8 287.3,226.8 287.6,227.8 287.8,232.9 288.0,237.6 288.2,233.2 288.4,229.0 288.6,235.3 288.8,227.0 289.1,238.2 289.3,251.3 289.5,229.5 289.7,239.3 289.9,226.8 290.1,233.2 290.4,235.8 290.6,239.9 290.8,232.4 291.0,240.5 291.2,224.1 291.4,230.5 291.7,231.6 291.9,232.1 292.1,230.6 292.3,242.7 292.5,228.7 292.7,237.2 293.0,233.5 293.2,243.4 293.4,229.2 293.6,234.9 293.8,233.9 294.0,210.2 294.3,232.5 294.5,236.3 294.7,239.3 294.9,223.0 295.1,228.2 295.3,237.0 295.6,222.2 295.8,224.0 296.0,232.6 296.2,233.0 296.4,236.9 296.6,235.4 296.9,229.6 297.1,221.6 297.3,223.9 297.5,227.8 297.7,230.0 297.9,227.8 298.2,232.3 298.4,222.5 298.6,224.4 298.8,218.8 299.0,239.2 299.2,225.6 299.5,232.5 299.7,234.2 299.9,228.3 300.1,224.8 300.3,222.7 300.5,224.0 300.8,214.7 301.0,221.9 301.2,229.9 301.4,226.7 301.6,230.0 301.8,229.6 302.0,228.8 302.3,225.0 302.5,225.3 302.7,229.7 302.9,221.4 303.1,215.1 303.3,228.6 303.6,223.4 303.8,229.7 304.0,218.7 304.2,212.3 304.4,221.3 304.6,218.2 304.9,216.0 305.1,231.4 305.3,223.4 305.5,214.1 305.7,211.3 305.9,220.4 306.2,224.6 306.4,222.5 306.6,227.8 306.8,222.4 307.0,223.2 307.2,208.2 307.5,227.8 307.7,216.2 307.9,225.3 308.1,209.6 308.3,213.5 308.5,226.3 308.8,211.0 309.0,219.6 309.2,216.0 309.4,229.1 309.6,220.5 309.8,226.0 310.1,217.5 310.3,206.9 310.5,230.0 310.7,213.6 310.9,217.3 311.1,216.5 311.4,206.8 311.6,220.9 311.8,213.8 312.0,205.0 312.2,206.5 312.4,201.4 312.7,210.5 312.9,213.9 313.1,208.9 313.3,214.5 313.5,212.3 313.7,217.5 314.0,214.1 314.2,212.8 314.4,208.6 314.6,206.0 314.8,207.6 315.0,215.4 315.2,209.9 315.5,221.8 315.7,217.6 315.9,203.8 316.1,214.9 316.3,219.7 316.5,207.7 316.8,219.3 317.0,206.8 317.2,221.1 317.4,214.4 317.6,209.4 317.8,200.2 318.1,209.7 318.3,205.5 318.5,212.4 318.7,204.3 318.9,212.7 319.1,206.5 319.4,213.0 319.6,214.3 319.8,210.1 320.0,211.9 320.2,215.5 320.4,202.5 320.7,212.1 320.9,209.7 321.1,218.0 321.3,206.6 321.5,213.7 321.7,196.7 322.0,215.1 322.2,209.7 322.4,209.3 322.6,212.3 322.8,198.6 323.0,204.9 323.3,206.7 323.5,204.0 323.7,202.5 323.9,211.7 324.1,205.7 324.3,203.8 324.6,205.4 324.8,213.2 325.0,216.5 325.2,211.4 325.4,207.5 325.6,195.8 325.9,200.5 326.1,198.0 326.3,197.8 326.5,211.0 326.7,199.6 326.9,211.8 327.2,203.7 327.4,202.0 327.6,201.4 327.8,193.5 328.0,199.8 328.2,207.5 328.5,206.3 328.7,202.8 328.9,206.0 329.1,202.5 329.3,203.9 329.5,216.3 329.7,201.9 330.0,190.0 330.2,187.4 330.4,195.9 330.6,201.7 330.8,206.4 331.0,199.9 331.3,200.8 331.5,203.6 331.7,193.5 331.9,199.2 332.1,201.4 332.3,196.7 332.6,193.8 332.8,202.2 333.0,205.6 333.2,199.0 333.4,183.7 333.6,193.3 333.9,195.4 334.1,200.7 334.3,194.8 334.5,194.9 334.7,203.6 334.9,205.2 335.2,197.6 335.4,190.1 335.6,189.1 335.8,200.7 336.0,191.6 336.2,196.2 336.5,195.0 336.7,197.0 336.9,198.0 337.1,189.3 337.3,191.5 337.5,196.6 337.8,195.5 338.0,186.6 338.2,207.0 338.4,186.1 338.6,201.3 338.8,184.3 339.1,200.5 339.3,183.1 339.5,199.9 339.7,195.1 339.9,198.9 340.1,189.0 340.4,195.2 340.6,195.0 340.8,194.3 341.0,189.6 341.2,201.5 341.4,181.5 341.7,183.0 341.9,183.3 342.1,201.4 342.3,186.7 342.5,187.6 342.7,187.4 342.9,189.9 343.2,190.1 343.4,188.5 343.6,181.9 343.8,194.0 344.0,191.2 344.2,200.6 344.5,193.5 344.7,190.3 344.9,181.6 345.1,191.0 345.3,194.1 345.5,200.8 345.8,192.6 346.0,195.0 346.2,193.6 346.4,200.0 346.6,196.8 346.8,189.7 347.1,180.1 347.3,199.4 347.5,189.5 347.7,183.7 347.9,179.5 348.1,177.3 348.4,190.0 348.6,187.1 348.8,189.9 349.0,195.5 349.2,183.8 349.4,189.3 349.7,184.0 349.9,181.7 350.1,172.9 350.3,181.9 350.5,193.5 350.7,183.2 351.0,188.2 351.2,186.9 351.4,198.9 351.6,195.1 351.8,181.6 352.0,182.8 352.3,192.6 352.5,186.7 352.7,185.7 352.9,192.3 353.1,188.3 353.3,185.5 353.6,203.6 353.8,186.8 354.0,175.5 354.2,185.9 354.4,185.3 354.6,194.2 354.9,185.3 355.1,179.0 355.3,185.2 355.5,174.8 355.7,180.1 355.9,184.4 356.1,176.5 356.4,168.8 356.6,174.8 356.8,176.0 357.0,184.5 357.2,177.6 357.4,179.9 357.7,174.1 357.9,180.3 358.1,175.6 358.3,182.9 358.5,180.5 358.7,187.9 359.0,182.2 359.2,176.2 359.4,172.4 359.6,179.0 359.8,182.0 360.0,187.0 360.3,173.3 360.5,168.1 360.7,164.6 360.9,169.6 361.1,174.4 361.3,173.5 361.6,173.0 361.8,174.4 362.0,176.5 362.2,163.4 362.4,174.0 362.6,172.4 362.9,172.0 363.1,170.0 363.3,160.6 363.5,175.1 363.7,168.8 363.9,170.8 364.2,173.2 364.4,171.2 364.6,173.2 364.8,173.0 365.0,164.1 365.2,162.4 365.5,174.5 365.7,164.1 365.9,182.4 366.1,161.4 366.3,169.1 366.5,167.3 366.8,169.1 367.0,161.1 367.2,168.8 367.4,179.0 367.6,162.6 367.8,151.7 368.1,169.4 368.3,167.7 368.5,168.9 368.7,159.2 368.9,166.6 369.1,169.3 369.3,160.3 369.6,163.3 369.8,165.9 370.0,167.1 370.2,160.5 370.4,162.9 370.6,173.9 370.9,173.8 371.1,154.0 371.3,174.1 371.5,157.6 371.7,166.3 371.9,151.5 372.2,157.7 372.4,154.4 372.6,163.4 372.8,159.1 373.0,160.3 373.2,159.6 373.5,158.0 373.7,162.2 373.9,156.8 374.1,155.2 374.3,151.3 374.5,149.3 374.8,151.3 375.0,156.6 375.2,160.4 375.4,152.8 375.6,165.9 375.8,160.8 376.1,152.8 376.3,154.4 376.5,151.7 376.7,139.9 376.9,156.3 377.1,152.2 377.4,139.9 377.6,155.7 377.8,146.2 378.0,147.9 378.2,138.2 378.4,148.5 378.7,151.1 378.9,145.3 379.1,147.6 379.3,135.3 379.5,150.3 379.7,146.3 380.0,146.0 380.2,150.2 380.4,152.1 380.6,144.7 380.8,150.6 381.0,156.2 381.3,137.3 381.5,144.4 381.7,133.2 381.9,145.3 382.1,151.5 382.3,141.6 382.5,134.8 382.8,138.3 383.0,144.0 383.2,131.5 383.4,131.7 383.6,143.2 383.8,131.3 384.1,140.1 384.3,132.5 384.5,128.7 384.7,143.7 384.9,145.3 385.1,132.8 385.4,152.2 385.6,138.2 385.8,140.2 386.0,137.7 386.2,129.3 386.4,142.4 386.7,136.4 386.9,138.4 387.1,135.8 387.3,132.0 387.5,149.1 387.7,136.6 388.0,132.0 388.2,137.3 388.4,125.0 388.6,134.7 388.8,149.3 389.0,127.3 389.3,134.4 389.5,123.4 389.7,130.7 389.9,137.3 390.1,123.3 390.3,123.5 390.6,136.5 390.8,130.4 391.0,132.6 391.2,131.3 391.4,119.3 391.6,116.2 391.9,114.7 392.1,129.6 392.3,116.9 392.5,114.3 392.7,121.7 392.9,123.9 393.2,126.2 393.4,112.4 393.6,132.2 393.8,117.3 394.0,123.9 394.2,122.3 394.5,115.8 394.7,124.4 394.9,123.6 395.1,128.4 395.3,133.1 395.5,134.2 395.8,126.1 396.0,124.0 396.2,117.0 396.4,109.2 396.6,121.3 396.8,114.4 397.0,116.1 397.3,114.3 397.5,119.8 397.7,114.1 397.9,131.7 398.1,121.6 398.3,112.3 398.6,117.6 398.8,123.9 399.0,106.8 399.2,115.5 399.4,110.3 399.6,113.8 399.9,109.8 400.1,113.8 400.3,115.2 400.5,115.9 400.7,101.9 400.9,115.7 401.2,111.0 401.4,106.3 401.6,109.7 401.8,120.1 402.0,108.3 402.2,103.3 402.5,113.2 402.7,106.9 402.9,112.4 403.1,109.3 403.3,116.0 403.5,102.9 403.8,104.0 404.0,113.2 404.2,116.8 404.4,106.8 404.6,112.9 404.8,107.7 405.1,104.4 405.3,93.2 405.5,117.2 405.7,110.8 405.9,88.0 406.1,107.6 406.4,98.2 406.6,95.0 406.8,97.5 407.0,105.6 407.2,100.0 407.4,98.6 407.7,98.5 407.9,96.7 408.1,102.2 408.3,85.1 408.5,89.3 408.7,96.5 409.0,89.5 409.2,97.8 409.4,93.9 409.6,98.5 409.8,94.4 410.0,99.0 410.2,94.7 410.5,99.1 410.7,91.7 410.9,82.1 411.1,93.3 411.3,92.9 411.5,89.2 411.8,98.5 412.0,95.0 412.2,101.3 412.4,88.4 412.6,87.9 412.8,93.4 413.1,99.4 413.3,84.8 413.5,92.1 413.7,88.3 413.9,86.1 414.1,93.6 414.4,93.0 414.6,91.5 414.8,82.3 415.0,86.1 415.2,74.8 415.4,88.7 415.7,76.5 415.9,82.7 416.1,89.5 416.3,82.1 416.5,84.2 416.7,78.5 417.0,99.4 417.2,74.2 417.4,77.9 417.6,80.4 417.8,98.0 418.0,76.9 418.3,80.6 418.5,85.1 418.7,65.7 418.9,85.0 419.1,81.2 419.3,88.4 419.6,88.2 419.8,81.2 420.0,84.8 420.2,73.0 420.4,69.4 420.6,75.0 420.9,77.5 421.1,73.8 421.3,78.3 421.5,79.3 421.7,86.2 421.9,73.5 422.2,71.2 422.4,77.0 422.6,75.0 422.8,77.1 423.0,84.1 423.2,67.3 423.4,77.2 423.7,80.9 423.9,80.1 424.1,61.8 424.3,69.1 424.5,79.2 424.7,70.5 425.0,73.1 425.2,69.2 425.4,78.1 425.6,71.0 425.8,67.2 426.0,69.5 426.3,77.6 426.5,70.9 426.7,57.4 426.9,54.1 427.1,71.8 427.3,56.1 427.6,67.6 427.8,61.7 428.0,67.5 428.2,61.1 428.4,50.1 428.6,74.3 428.9,64.7 429.1,63.5 429.3,74.6 429.5,68.6 429.7,71.0 429.9,62.3 430.2,64.2 430.4,66.1 430.6,59.0 430.8,68.0 431.0,65.3 431.2,60.2 431.5,59.4 431.7,67.4 431.9,60.5 432.1,63.9 432.3,63.0 432.5,59.6 432.8,39.8 433.0,62.7 433.2,65.5 433.4,55.9 433.6,55.5 433.8,65.3 434.1,51.6 434.3,67.2 434.5,62.6 434.7,67.7 434.9,58.4 435.1,59.1 435.4,60.1 435.6,48.1 435.8,52.1 436.0,64.8 436.2,53.1 436.4,51.1 436.6,59.2 436.9,65.8 437.1,56.3 437.3,54.8 437.5,56.2 437.7,58.9 437.9,45.8 438.2,58.2 438.4,58.3 438.6,62.3 438.8,62.3 439.0,59.4 439.2,68.1 439.5,55.1 439.7,54.1 439.9,65.2 440.1,55.4 440.3,50.7 440.5,50.8 440.8,54.1 441.0,45.3 441.2,60.3 441.4,55.8 441.6,61.9 441.8,47.0 442.1,51.2 442.3,49.2 442.5,56.7 442.7,55.7 442.9,57.9 443.1,57.5 443.4,45.9 443.6,54.6 443.8,53.3 444.0,52.6 444.2,55.9 444.4,40.4 444.7,48.1 444.9,50.7 445.1,46.9 445.3,44.8 445.5,58.2 445.7,57.8 446.0,63.2 446.2,46.1 446.4,37.2 446.6,56.3 446.8,49.8 447.0,45.0 447.3,55.2 447.5,51.3 447.7,40.7 447.9,52.4 448.1,41.2 448.3,55.2 448.6,43.7 448.8,42.0 449.0,56.5 449.2,57.9 449.4,50.2 449.6,44.5 449.8,55.9 450.1,52.9 450.3,53.6 450.5,49.6 450.7,42.6 450.9,49.2 451.1,61.6 451.4,48.2 451.6,51.8 451.8,52.3 452.0,58.8 452.2,54.6 452.4,50.2 452.7,65.1 452.9,54.2 453.1,55.2 453.3,49.1 453.5,43.7 453.7,56.5 454.0,51.5 454.2,55.9 454.4,39.6 454.6,64.9 454.8,54.4 455.0,59.5 455.3,47.6 455.5,55.2 455.7,55.7 455.9,62.0 456.1,60.1 456.3,42.1 456.6,56.7 456.8,56.3 457.0,53.6 457.2,57.2 457.4,59.7 457.6,62.2 457.9,49.1 458.1,51.1 458.3,56.9 458.5,60.9 458.7,50.9 458.9,57.1 459.2,49.4 459.4,57.7 459.6,56.5 459.8,61.0 460.0,66.5 460.2,53.4 460.5,61.0 460.7,48.9 460.9,60.6 461.1,69.7 461.3,49.7 461.5,56.2 461.8,40.2 462.0,62.2 462.2,73.0 462.4,54.5 462.6,62.3 462.8,68.8 463.1,56.2 463.3,62.2 463.5,56.7 463.7,58.7 463.9,62.0 464.1,67.4 464.3,63.9 464.6,62.6 464.8,62.2 465.0,69.9 465.2,66.9 465.4,66.7 465.6,53.9 465.9,63.9 466.1,59.3 466.3,76.0 466.5,70.2 466.7,75.2 466.9,62.5 467.2,59.0 467.4,63.6 467.6,72.3 467.8,65.3 468.0,73.8 468.2,77.9 468.5,68.9 468.7,76.8 468.9,59.5 469.1,65.4 469.3,69.5 469.5,71.6 469.8,66.1 470.0,72.5 470.2,80.9 470.4,80.4 470.6,78.7 470.8,71.9 471.1,85.2 471.3,81.7 471.5,73.3 471.7,84.6 471.9,78.2 472.1,83.5 472.4,83.3 472.6,85.0 472.8,90.4 473.0,96.3 473.2,86.0 473.4,85.3 473.7,85.1 473.9,88.3 474.1,89.7 474.3,80.9 474.5,88.6 474.7,100.1 475.0,93.3 475.2,95.5 475.4,90.6 475.6,101.9 475.8,95.1 476.0,91.5 476.3,90.1 476.5,96.6 476.7,103.3 476.9,92.7 477.1,91.9 477.3,86.5 477.5,101.0 477.8,93.7 478.0,96.0 478.2,95.3 478.4,97.0 478.6,105.1 478.8,99.1 479.1,104.1 479.3,101.1 479.5,103.6 479.7,108.8 479.9,109.7 480.1,103.1 480.4,109.0 480.6,106.0 480.8,113.7 481.0,109.3 481.2,109.1 481.4,117.1 481.7,112.6 481.9,116.4 482.1,119.7 482.3,115.8 482.5,117.7 482.7,122.3 483.0,129.6 483.2,124.3 483.4,125.9 483.6,124.3 483.8,125.1 484.0,131.7 484.3,124.6 484.5,125.8 484.7,134.6 484.9,127.7 485.1,127.1 485.3,134.1 485.6,136.9 485.8,140.4 486.0,142.9 486.2,129.0 486.4,136.9 486.6,137.5 486.9,140.7 487.1,137.8 487.3,141.7 487.5,143.5 487.7,144.3 487.9,142.0 488.2,146.4 488.4,144.1 488.6,145.2 488.8,148.1 489.0,152.3 489.2,145.1 489.5,151.9 489.7,157.1 489.9,154.7 490.1,153.8 490.3,157.1 490.5,161.9 490.7,158.2 491.0,157.9 491.2,163.0 491.4,161.4 491.6,161.5 491.8,166.6 492.0,163.5 492.3,166.1 492.5,171.4 492.7,169.7 492.9,173.7 493.1,167.4 493.3,169.4 493.6,172.6 493.8,175.5 494.0,172.5 494.2,179.1 494.4,178.7 494.6,180.1 494.9,182.9 495.1,183.7 495.3,182.9 495.5,186.6 495.7,185.8 495.9,193.2 496.2,190.5 496.4,192.4 496.6,193.0 496.8,196.1 497.0,198.0 497.2,198.7 497.5,198.1 497.7,204.4 497.9,203.3 498.1,200.6 498.3,201.3 498.5,205.3 498.8,206.8 499.0,207.2 499.2,210.2 499.4,214.6 499.6,218.1 499.8,217.4 500.1,219.2 500.3,222.5 500.5,226.2 500.7,225.5 500.9,225.9 501.1,225.9 501.4,225.6 501.6,230.1 501.8,233.2 502.0,232.9 502.2,232.7 502.4,236.5 502.7,236.6 502.9,237.1 503.1,235.8 503.3,242.4 503.5,241.5 503.7,246.6 503.9,244.5 504.2,247.4 504.4,247.6 504.6,253.6 504.8,254.3 505.0,253.2 505.2,257.4 505.5,253.8 505.7,258.9 505.9,258.1 506.1,260.3 506.3,261.2 506.5,264.7 506.8,261.8 507.0,265.7 507.2,270.6 507.4,265.5 507.6,270.7 507.8,270.2 508.1,269.3 508.3,276.3 508.5,276.3 508.7,280.9 508.9,277.0 509.1,282.4 509.4,286.0 509.6,281.7 509.8,287.5 510.0,289.1 510.2,289.8 510.4,293.3 510.7,293.6 510.9,292.9 511.1,294.3 511.3,296.9 511.5,301.2 511.7,299.9 512.0,303.0 512.2,302.8 512.4,305.5 512.6,306.9 512.8,309.4 513.0,311.7 513.3,309.6 513.5,310.0 513.7,313.1 513.9,314.5 514.1,316.4 514.3,318.9 514.6,318.2 514.8,320.2 515.0,321.6 515.2,324.6 515.4,323.7 515.6,327.5 515.9,329.9 516.1,328.2 516.3,332.0 516.5,332.1 516.7,332.7 516.9,337.0 517.1,337.3 517.4,336.6 517.6,339.3 517.8,339.0 518.0,339.5 518.2,344.4 518.4,344.4 518.7,348.2 518.9,347.7 519.1,349.4 519.3,350.4 519.5,352.3 519.7,352.5 520.0,354.8 520.2,354.4 520.4,355.8 520.6,357.9 520.8,360.3 521.0,362.4 521.3,363.8 521.5,366.9 521.7,369.9 521.9,365.3 522.1,371.5 522.3,372.2 522.6,371.8 522.8,374.1 523.0,373.0 523.2,376.5 523.4,380.0 523.6,378.2 523.9,380.3 524.1,382.5 524.3,384.5 524.5,385.2 524.7,385.9 524.9,388.6 525.2,388.5 525.4,393.2 525.6,393.2 525.8,393.3 526.0,393.6 526.2,395.1 526.5,396.2 526.7,397.9 526.9,399.9 527.1,399.3 527.3,402.1 527.5,403.1 527.8,403.3 528.0,406.7 528.2,407.0 528.4,408.0 528.6,408.3 528.8,409.2 529.1,411.1 529.3,410.7 529.5,413.6 529.7,413.3 529.9,415.4 530.1,417.1 530.4,417.3 530.6,418.0 530.8,418.9 531.0,420.8 531.2,420.7 531.4,422.7 531.6,424.6 531.9,423.0 532.1,425.0 532.3,426.9 532.5,426.6 532.7,427.7 532.9,428.4 533.2,431.2 533.4,429.5 533.6,432.2 533.8,433.0 534.0,434.1 534.2,434.3 534.5,435.9 534.7,436.3 534.9,436.9 535.1,440.6 535.3,440.2 535.5,439.4 535.8,440.5 536.0,442.3 536.2,443.9 536.4,443.5 536.6,445.0 536.8,445.4 537.1,447.0 537.3,446.5 537.5,447.1 537.7,448.6 537.9,449.4 538.1,450.0 538.4,451.6 538.6,451.9 538.8,452.2 539.0,452.0 539.2,454.0 539.4,454.7 539.7,454.4 539.9,455.4 540.1,455.3 540.3,456.7 540.5,457.1 540.7,456.7 541.0,458.4 541.2,458.8 541.4,459.4 541.6,460.8 541.8,461.0 542.0,461.8 542.3,461.7 542.5,463.2 542.7,462.5 542.9,463.9 543.1,463.2 543.3,464.7 543.6,464.5 543.8,464.8 544.0,466.4 544.2,466.7 544.4,467.3 544.6,467.6 544.8,468.1 545.1,468.4 545.3,468.8 545.5,469.4 545.7,470.9 545.9,469.7 546.1,469.9 546.4,470.6 546.6,471.1 546.8,472.0 547.0,472.7 547.2,473.0 547.4,472.8 547.7,473.5 547.9,474.4 548.1,474.1 548.3,474.7 548.5,474.1 548.7,475.2 549.0,475.5 549.2,474.9 549.4,475.8 549.6,476.3 549.8,476.0 550.0,477.0 550.3,477.3 550.5,477.3 550.7,477.5 550.9,477.7 551.1,478.2 551.3,478.8 551.6,478.1 551.8,479.0 552.0,479.2 552.2,479.1 552.4,479.2 552.6,479.8 552.9,479.6 553.1,480.5 553.3,480.6 553.5,480.5 553.7,481.1 553.9,481.1 554.2,481.3 554.4,482.1 554.6,481.7 554.8,481.4 555.0,482.4 555.2,482.2 555.5,482.5 555.7,483.3 555.9,483.1 556.1,483.5 556.3,483.0 556.5,483.3 556.8,483.5 557.0,484.0 557.2,483.8 557.4,483.6 557.6,484.4 557.8,484.2 558.0,484.5 558.3,484.7 558.5,485.2 558.7,484.8 558.9,485.2 559.1,484.7 559.3,485.1 559.6,485.3 559.8,484.8 560.0,485.2 560.2,485.4 560.4,485.7 560.6,485.6 560.9,485.7 561.1,485.8 561.3,486.1 561.5,486.1 561.7,486.1 561.9,486.2 562.2,486.4 562.4,486.3 562.6,486.5 562.8,486.6 563.0,486.7 563.2,486.9 563.5,486.8 563.7,486.7 563.9,487.0 564.1,487.1 564.3,487.2 564.5,487.2 564.8,487.0 565.0,487.2 565.2,487.3 565.4,487.3 565.6,487.3 565.8,487.3 566.1,487.3 566.3,487.4 566.5,487.2 566.7,487.4 566.9,487.5 567.1,487.3 567.4,487.5 567.6,487.5 567.8,487.4 568.0,487.4 568.2,487.4 568.4,487.4 568.7,487.4 568.9,487.4 569.1,487.4 569.3,487.4 569.5,487.4 569.7,487.4 570.0,487.4 570.2,487.4 570.4,487.4 570.6,487.4 570.8,487.4 571.0,487.4 571.2,487.4 571.5,487.4 571.7,487.4 571.9,487.4 572.1,487.4 572.3,487.4 572.5,487.4 572.8,487.4 573.0,487.4 573.2,487.4 573.4,487.4 573.6,487.4 573.8,487.4 574.1,487.4 574.3,487.4 574.5,487.4 574.7,487.4 574.9,487.4 575.1,487.4 575.4,487.4 575.6,487.4 575.8,487.4 576.0,487.4 576.2,487.4 576.4,487.4 576.7,487.4 576.9,487.4 577.1,487.4 577.3,487.4 577.5,487.4 577.7,487.4 578.0,487.4 578.2,487.4 578.4,487.4 578.6,487.4 578.8,487.4 579.0,487.4 579.3,487.4 579.5,487.4 579.7,487.4 579.9,487.4 580.1,487.4 580.3,487.4 580.6,487.4 580.8,487.4 581.0,487.4 581.2,487.4 581.4,487.4 581.6,487.4 581.9,487.4 582.1,487.4 582.3,487.4 582.5,487.4 582.7,487.4 582.9,487.4 583.2,487.4 583.4,487.4 583.6,487.4 583.8,487.4 584.0,487.4 584.2,487.4 584.4,487.4 584.7,487.4 584.9,487.4 585.1,487.4 585.3,487.4 585.5,487.4 585.7,487.4 586.0,487.4 586.2,487.4 586.4,487.4 586.6,487.4 586.8,487.4 587.0,487.4 587.3,487.4 587.5,487.4 587.7,487.4 587.9,487.4 588.1,487.4 588.3,487.4 588.6,487.4 588.8,487.4 589.0,487.4 589.2,487.4 589.4,487.4 589.6,487.4 589.9,487.4 590.1,487.4 590.3,487.4 590.5,487.4 590.7,487.4 590.9,487.4 591.2,487.4 591.4,487.4 591.6,487.4 591.8,487.4 592.0,487.4 592.2,487.4 592.5,487.4 592.7,487.4 592.9,487.4 593.1,487.4 593.3,487.4 593.5,487.4 593.8,487.4 594.0,487.4 594.2,487.4 594.4,487.4 594.6,487.4 594.8,487.4 595.1,487.4 595.3,487.4 595.5,487.4 595.7,487.4 595.9,487.4 596.1,487.4 596.4,487.4 596.6,487.4 596.8,487.4 597.0,487.4 597.2,487.4 597.4,487.4 597.7,487.4 597.9,487.4 598.1,487.4 598.3,487.4 598.5,487.4 598.7,487.4 598.9,487.4 599.2,487.4 599.4,487.4 599.6,487.4 599.8,487.4 600.0,487.4 600.2,487.4 600.5,487.4 600.7,487.4 600.9,487.4 601.1,487.4 601.3,487.4 601.5,487.4 601.8,487.4 602.0,487.4 602.2,487.4 602.4,487.4 602.6,487.4 602.8,487.4 603.1,487.4 603.3,487.4 603.5,487.4 603.7,487.4 603.9,487.4 604.1,487.4 604.4,487.4 604.6,487.4 604.8,487.4 605.0,487.4 605.2,487.4 605.4,487.4 605.7,487.4 605.9,487.4 606.1,487.4 606.3,487.4 606.5,487.4 606.7,487.4 607.0,487.4 607.2,487.4 607.4,487.4 607.6,487.4 607.8,487.4 608.0,487.4 608.3,487.4 608.5,487.4 608.7,487.4 608.9,487.4 609.1,487.4 609.3,487.4 609.6,487.4 609.8,487.4 610.0,487.4 610.2,487.4 610.4,487.4 610.6,487.4 610.9,487.4 611.1,487.4 611.3,487.4 611.5,487.4 611.7,487.4 611.9,487.4 612.1,487.4 612.4,487.4 612.6,487.4 612.8,487.4 613.0,487.4 613.2,487.4 613.4,487.4 613.7,487.4 613.9,487.4 614.1,487.4 614.3,487.4 614.5,487.4 614.7,487.4 615.0,487.4 615.2,487.4 615.4,487.4 615.6,487.4 615.8,487.4 616.0,487.4 616.3,487.4 616.5,487.4 616.7,487.4 616.9,487.4 617.1,487.4 617.3,487.4 617.6,487.4 617.8,487.4 618.0,487.4 618.2,487.4 618.4,487.4 618.6,487.4 618.9,487.4 619.1,487.4 619.3,487.4 619.5,487.4 619.7,487.4 619.9,487.4 620.2,487.4 620.4,487.4 620.6,487.4 620.8,487.4 621.0,487.4 621.2,487.4 621.5,487.4 621.7,487.4 621.9,487.4 622.1,487.4 622.3,487.4 622.5,487.4 622.8,487.4 623.0,487.4 623.2,487.4 623.4,487.4 623.6,487.4 623.8,487.4 624.1,487.4 624.3,487.4 624.5,487.4 624.7,487.4 624.9,487.4 625.1,487.4 625.3,487.4 625.6,487.4 625.8,487.4 626.0,487.4 626.2,487.4 626.4,487.4 626.6,487.4 626.9,487.4 627.1,487.4 627.3,487.4 627.5,487.4 627.7,487.4 627.9,487.4 628.2,487.4 628.4,487.4 628.6,487.4 628.8,487.4 629.0,487.4 629.2,487.4 629.5,487.4 629.7,487.4 629.9,487.4 630.1,487.4 630.3,487.4 630.5,487.4 630.8,487.4 631.0,487.4 631.2,487.4 631.4,487.4 631.6,487.4 631.8,487.4 632.1,487.4 632.3,487.4 632.5,487.4 632.7,487.4 632.9,487.4 633.1,487.4 633.4,487.4 633.6,487.4 633.8,487.4 634.0,487.4 634.2,487.4 634.4,487.4 634.7,487.4 634.9,487.4 635.1,487.4 635.3,487.4 635.5,487.4 635.7,487.4 636.0,487.4 636.2,487.4 636.4,487.4 636.6,487.4 636.8,487.4 637.0,487.4 637.3,487.4 637.5,487.4 637.7,487.4 637.9,487.4 638.1,487.4 638.3,487.4 638.5,487.4 638.8,487.4 639.0,487.4 639.2,487.4 639.4,487.4 639.6,487.4 639.8,487.4 640.1,487.4 640.3,487.4 640.5,487.4 640.7,487.4 640.9,487.4 641.1,487.4 641.4,487.4 641.6,487.4 641.8,487.4 642.0,487.4 642.2,487.4 642.4,487.4 642.7,487.4 642.9,487.4 643.1,487.4 643.3,487.4 643.5,487.4 643.7,487.4 644.0,487.4 644.2,487.4 644.4,487.4 644.6,487.4 644.8,487.4 645.0,487.4 645.3,487.4 645.5,487.4 645.7,487.4 645.9,487.4 646.1,487.4 646.3,487.4 646.6,487.4 646.8,487.4 647.0,487.4 647.2,487.4 647.4,487.4 647.6,487.4 647.9,487.4 648.1,487.4 648.3,487.4 648.5,487.4 648.7,487.4 648.9,487.4 649.2,487.4 649.4,487.4 649.6,487.4 649.8,487.4 650.0,487.4 650.2,487.4 650.5,487.4 650.7,487.4 650.9,487.4 651.1,487.4 651.3,487.4 651.5,487.4 651.8,487.4 652.0,487.4 652.2,487.4 652.4,487.4 652.6,487.4 652.8,487.4 653.0,487.4 653.3,487.4 653.5,487.4 653.7,487.4 653.9,487.4 654.1,487.4 654.3,487.4 654.6,487.4 654.8,487.4 655.0,487.4 655.2,487.4 655.4,487.4 655.6,487.4 655.9,487.4 656.1,487.4 656.3,487.4 656.5,487.4 656.7,487.4 656.9,487.4 657.2,487.4 657.4,487.4 657.6,487.4 657.8,487.4 658.0,487.4 658.2,487.4 658.5,487.4 658.7,487.4 658.9,487.4 659.1,487.4 659.3,487.4 659.5,487.4 659.8,487.4 660.0,487.4 660.2,487.4 660.4,487.4 660.6,487.4 660.8,487.4 661.1,487.4 661.3,487.4 661.5,487.4 661.7,487.4 661.9,487.4 662.1,487.4 662.4,487.4 662.6,487.4 662.8,487.4 663.0,487.4 663.2,487.4 663.4,487.4 663.7,487.4 663.9,487.4 664.1,487.4 664.3,487.4 664.5,487.4 664.7,487.4 665.0,487.4 665.2,487.4 665.4,487.4 665.6,487.4 665.8,487.4 666.0,487.4 666.2,487.4 666.5,487.4 666.7,487.4 666.9,487.4 667.1,487.4 667.3,487.4 667.5,487.4 667.8,487.4 668.0,487.4 668.2,487.4 668.4,487.4 668.6,487.4 668.8,487.4 669.1,487.4 669.3,487.4 669.5,487.4 669.7,487.4 669.9,487.4 670.1,487.4 670.4,487.4 670.6,487.4 670.8,487.4 671.0,487.4 671.2,487.4 671.4,487.4 671.7,487.4 671.9,487.4 672.1,487.4 672.3,487.4 672.5,487.4 672.7,487.4 673.0,487.4 673.2,487.4 673.4,487.4 673.6,487.4 673.8,487.4 674.0,487.4 674.3,487.4 674.5,487.4 674.7,487.4 674.9,487.4 675.1,487.4 675.3,487.4 675.6,487.4 675.8,487.4 676.0,487.4 676.2,487.4 676.4,487.4 676.6,487.4 676.9,487.4 677.1,487.4 677.3,487.4 677.5,487.4 677.7,487.4 677.9,487.4 678.2,487.4 678.4,487.4 678.6,487.4 678.8,487.4 679.0,487.4 679.2,487.4 679.4,487.4 679.7,487.4 679.9,487.4 680.1,487.4 680.3,487.4 680.5,487.4 680.7,487.4 681.0,487.4 681.2,487.4 681.4,487.4 681.6,487.4 681.8,487.4 682.0,487.4 682.3,487.4 682.5,487.4 682.7,487.4 682.9,487.4 683.1,487.4 683.3,487.4 683.6,487.4 683.8,487.4 684.0,487.4 684.2,487.4 684.4,487.4 684.6,487.4 684.9,487.4 685.1,487.4 685.3,487.4 685.5,487.4 685.7,487.4 685.9,487.4 686.2,487.4 686.4,487.4 686.6,487.4 686.8,487.4 687.0,487.4 687.2,487.4 687.5,487.4 687.7,487.4 687.9,487.4 688.1,487.4 688.3,487.4 688.5,487.4 688.8,487.4 689.0,487.4 689.2,487.4 689.4,487.4 689.6,487.4 689.8,487.4 690.1,487.4 690.3,487.4 690.5,487.4 690.7,487.4 690.9,487.4 691.1,487.4 691.4,487.4 691.6,487.4 691.8,487.4 692.0,487.4 692.2,487.4 692.4,487.4 692.6,487.4 692.9,487.4 693.1,487.4 693.3,487.4 693.5,487.4 693.7,487.4 693.9,487.4 694.2,487.4 694.4,487.4 694.6,487.4 694.8,487.4 695.0,487.4 695.2,487.4 695.5,487.4 695.7,487.4 695.9,487.4 696.1,487.4 696.3,487.4 696.5,487.4 696.8,487.4 697.0,487.4 697.2,487.4 697.4,487.4 697.6,487.4 697.8,487.4 698.1,487.4 698.3,487.4 698.5,487.4 698.7,487.4 698.9,487.4 699.1,487.4 699.4,487.4 699.6,487.4 699.8,487.4 700.0,487.4 700.2,487.4 700.4,487.4 700.7,487.4 700.9,487.4 701.1,487.4 701.3,487.4 701.5,487.4 701.7,487.4 702.0,487.4 702.2,487.4 702.4,487.4 702.6,487.4 702.8,487.4 703.0,487.4 703.3,487.4 703.5,487.4 703.7,487.4 703.9,487.4 704.1,487.4 704.3,487.4 704.6,487.4 704.8,487.4 705.0,487.4 705.2,487.4 705.4,487.4 705.6,487.4 705.8,487.4 706.1,487.4 706.3,487.4 706.5,487.4 706.7,487.4 706.9,487.4 707.1,487.4 707.4,487.4 707.6,487.4 707.8,487.4 708.0,487.4 708.2,487.4 708.4,487.4 708.7,487.4 708.9,487.4 709.1,487.4 709.3,487.4 709.5,487.4 709.7,487.4 710.0,487.4 710.2,487.4 710.4,487.4 710.6,487.4 710.8,487.4 711.0,487.4 711.3,487.4 711.5,487.4 711.7,487.4 711.9,487.4 712.1,487.4 712.3,487.4 712.6,487.4 712.8,487.4 713.0,487.4 713.2,487.4 713.4,487.4 713.6,487.4 713.9,487.4 714.1,487.4 714.3,487.4 714.5,487.4 714.7,487.4 714.9,487.4 715.2,487.4 715.4,487.4 715.6,487.4 715.8,487.4 716.0,487.4 716.2,487.4 716.5,487.4 716.7,487.4 716.9,487.4 717.1,487.4 717.3,487.4 717.5,487.4 717.8,487.4 718.0,487.4 718.2,487.4 718.4,487.4 718.6,487.4 718.8,487.4 719.1,487.4 719.3,487.4 719.5,487.4 719.7,487.4 719.9,487.4 720.1,487.4 720.3,487.4 720.6,487.4 720.8,487.4 721.0,487.4 721.2,487.4 721.4,487.4 721.6,487.4 721.9,487.4 722.1,487.4 722.3,487.4 722.5,487.4 722.7,487.4 722.9,487.4 723.2,487.4 723.4,487.4 723.6,487.4 723.8,487.4 724.0,487.4 724.2,487.4 724.5,487.4 724.7,487.4 724.9,487.4 725.1,487.4 725.3,487.4 725.5,487.4 725.8,487.4 726.0,487.4 726.2,487.4 726.4,487.4 726.6,487.4 726.8,487.4 727.1,487.4 727.3,487.4 727.5,487.4 727.7,487.4 727.9,487.4 728.1,487.4 728.4,487.4 728.6,487.4 728.8,487.4 729.0,487.4 729.2,487.4 729.4,487.4 729.7,487.4 729.9,487.4 730.1,487.4 730.3,487.4 730.5,487.4 730.7,487.4 731.0,487.4 731.2,487.4 731.4,487.4 731.6,487.4 731.8,487.4 732.0,487.4 732.3,487.4 732.5,487.4 732.7,487.4 732.9,487.4 733.1,487.4 733.3,487.4 733.5,487.4 733.8,487.4 734.0,487.4 734.2,487.4 734.4,487.4 734.6,487.4 734.8,487.4 735.1,487.4 735.3,487.4 735.5,487.4 735.7,487.4 735.9,487.4 736.1,487.4 736.4,487.4 736.6,487.4 736.8,487.4 737.0,487.4 737.2,487.4 737.4,487.4 737.7,487.4 737.9,487.4 738.1,487.4 738.3,487.4 738.5,487.4 738.7,487.4 739.0,487.4 739.2,487.4 739.4,487.4 739.6,487.4 739.8,487.4 740.0,487.4 740.3,487.4 740.5,487.4 740.7,487.4 740.9,487.4 741.1,487.4 741.3,487.4 741.6,487.4 741.8,487.4 742.0,487.4 742.2,487.4 742.4,487.4 742.6,487.4 742.9,487.4 743.1,487.4 743.3,487.4 743.5,487.4 743.7,487.4 743.9,487.4 744.2,487.4 744.4,487.4 744.6,487.4 744.8,487.4 745.0,487.4 745.2,487.4 745.5,487.4 745.7,487.4 745.9,487.4 746.1,487.4 746.3,487.4 746.5,487.4 746.7,487.4 747.0,487.4 747.2,487.4 747.4,487.4 747.6,487.4 747.8,487.4 748.0,487.4 748.3,487.4 748.5,487.4 748.7,487.4 748.9,487.4 749.1,487.4 749.3,487.4 749.6,487.4 749.8,487.4 750.0,487.4 750.2,487.4 750.4,487.4 750.6,487.4 750.9,487.4 751.1,487.4 751.3,487.4 751.5,487.4 751.7,487.4 751.9,487.4 752.2,487.4 752.4,487.4 752.6,487.4 752.8,487.4 753.0,487.4 753.2,487.4 753.5,487.4 753.7,487.4 753.9,487.4 754.1,487.4 754.3,487.4 754.5,487.4 754.8,487.4 755.0,487.4 755.2,487.4 755.4,487.4 755.6,487.4 755.8,487.4 756.1,487.4 756.3,487.4 756.5,487.4 756.7,487.4 756.9,487.4 757.1,487.4 757.4,487.4 757.6,487.4 757.8,487.4 758.0,487.4 758.2,487.4 758.4,487.4 758.7,487.4 758.9,487.4 759.1,487.4 759.3,487.4 759.5,487.4 759.7,487.4 759.9,487.4 760.2,487.4 760.4,487.4 760.6,487.4 760.8,487.4 761.0,487.4 761.2,487.4 761.5,487.4 761.7,487.4 761.9,487.4 762.1,487.4 762.3,487.4 762.5,487.4 762.8,487.4 763.0,487.4 763.2,487.4 763.4,487.4 763.6,487.4 763.8,487.4 764.1,487.4 764.3,487.4 764.5,487.4 764.7,487.4 764.9,487.4 765.1,487.4 765.4,487.4 765.6,487.4 765.8,487.4 766.0,487.4 766.2,487.4 766.4,487.4 766.7,487.4 766.9,487.4 767.1,487.4 767.3,487.4 767.5,487.4 767.7,487.4 768.0,487.4 768.2,487.4 768.4,487.4 768.6,487.4 768.8,487.4 769.0,487.4 769.3,487.4 769.5,487.4 769.7,487.4 769.9,487.4 770.1,487.4 770.3,487.4 770.6,487.4 770.8,487.4 771.0,487.4 771.2,487.4 771.4,487.4 771.6,487.4 771.9,487.4 772.1,487.4 772.3,487.4 772.5,487.4 772.7,487.4 772.9,487.4 773.1,487.4 773.4,487.4 773.6,487.4 773.8,487.4 774.0,487.4 774.2,487.4 774.4,487.4 774.7,487.4 774.9,487.4 775.1,487.4 775.3,487.4 775.5,487.4 775.7,487.4 776.0,487.4 776.2,487.4 776.4,487.4 776.6,487.4 776.8,487.4 777.0,487.4 777.3,487.4 777.5,487.4 777.7,487.4 777.9,487.4 778.1,487.4 778.3,487.4 778.6,487.4 778.8,487.4 779.0,487.4 779.2,487.4 779.4,487.4 779.6,487.4 779.9,487.4 780.1,487.4 780.3,487.4 780.5,487.4 780.7,487.4 780.9,487.4 781.2,487.4 781.4,487.4 781.6,487.4 781.8,487.4 782.0,487.4 782.2,487.4 782.5,487.4 782.7,487.4 782.9,487.4 783.1,487.4 783.3,487.4 783.5,487.4 783.8,487.4 784.0,487.4 784.2,487.4 784.4,487.4 784.6,487.4 784.8,487.4 785.1,487.4 785.3,487.4 785.5,487.4 785.7,487.4 785.9,487.4 786.1,487.4 786.4,487.4 786.6,487.4 786.8,487.4 787.0,487.4 787.2,487.4 787.4,487.4 787.6,487.4 787.9,487.4 788.1,487.4 788.3,487.4 788.5,487.4 788.7,487.4 788.9,487.4 789.2,487.4 789.4,487.4 789.6,487.4 789.8,487.4 790.0,487.4 790.2,487.4 790.5,487.4 790.7,487.4 790.9,487.4 791.1,487.4 791.3,487.4 791.5,487.4 791.8,487.4 792.0,487.4 792.2,487.4 792.4,487.4 792.6,487.4 792.8,487.4 793.1,487.4 793.3,487.4 793.5,487.4 793.7,487.4 793.9,487.4 794.1,487.4 794.4,487.4 794.6,487.4 794.8,487.4 795.0,487.4 795.2,487.4 795.4,487.4 795.7,487.4 795.9,487.4 796.1,487.4 796.3,487.4 796.5,487.4 796.7,487.4 797.0,487.4 797.2,487.4 797.4,487.4 797.6,487.4 797.8,487.4 798.0,487.4 798.3,487.4 798.5,487.4 798.7,487.4 798.9,487.4 799.1,487.4 799.3,487.4 799.6,487.4 799.8,487.4 800.0,487.4 800.2,487.4 800.4,487.4 800.6,487.4 800.8,487.4 801.1,487.4 801.3,487.4 801.5,487.4 801.7,487.4 801.9,487.4 802.1,487.4 802.4,487.4 802.6,487.4 802.8,487.4 803.0,487.4 803.2,487.4 803.4,487.4 803.7,487.4 803.9,487.4 804.1,487.4 804.3,487.4 804.5,487.4 804.7,487.4 805.0,487.4 805.2,487.4 805.4,487.4 805.6,487.4 805.8,487.4 806.0,487.4 806.3,487.4 806.5,487.4 806.7,487.4 806.9,487.4 807.1,487.4 807.3,487.4 807.6,487.4 807.8,487.4 808.0,487.4 808.2,487.4 808.4,487.4 808.6,487.4 808.9,487.4 809.1,487.4 809.3,487.4 809.5,487.4 809.7,487.4 809.9,487.4 810.2,487.4 810.4,487.4 810.6,487.4 810.8,487.4 811.0,487.4 811.2,487.4 811.5,487.4 811.7,487.4 811.9,487.4 812.1,487.4 812.3,487.4 812.5,487.4 812.8,487.4 813.0,487.4 813.2,487.4 813.4,487.4" stroke="#e69f00" stroke-width="2.0" fill="none" stroke-linejoin="round"/>
</g>
<g stroke="#000" stroke-width="1" fill="none">
<path d="M99.5 487.9V11.0H813.4V487.9"/>
<path d="M99.0 487.4H813.9" opacity="0.8"/>
</g>
<g font-family="'Liberation Serif', serif" fill="#000">
<text x="130.2" y="35.4" font-size="22" font-style="italic">L</text>
<path d="M151.0 26.10H167.2" stroke="#000" stroke-width="1.2"/>
<path d="M151.0 31.90H167.2" stroke="#000" stroke-width="1.2"/>
<text x="174.5" y="35.4" font-size="22">5,</text>
<text x="223.3" y="35.4" font-size="22" text-anchor="end">4D</text>
<text x="135.5" y="58.7" font-size="22" font-style="italic">L</text>
<path d="M156.3 49.40H172.5" stroke="#000" stroke-width="1.2"/>
<path d="M156.3 55.20H172.5" stroke="#000" stroke-width="1.2"/>
<text x="179.8" y="58.7" font-size="22">5,</text>
<text x="223.3" y="58.7" font-size="22" text-anchor="end">.</text>
<text x="201.7" y="58.7" font-size="22" textLength="14.5" lengthAdjust="spacingAndGlyphs">T</text>
<text x="130.2" y="81.6" font-size="22" font-style="italic">L</text>
<path d="M151.0 72.30H167.2" stroke="#000" stroke-width="1.2"/>
<path d="M151.0 78.10H167.2" stroke="#000" stroke-width="1.2"/>
<text x="174.5" y="81.6" font-size="22">9,</text>
<text x="223.3" y="81.6" font-size="22" text-anchor="end">4D</text>
<text x="135.5" y="104.6" font-size="22" font-style="italic">L</text>
<path d="M156.3 95.30H172.5" stroke="#000" stroke-width="1.2"/>
<path d="M156.3 101.10H172.5" stroke="#000" stroke-width="1.2"/>
<text x="179.8" y="104.6" font-size="22">9,</text>
<text x="223.3" y="104.6" font-size="22" text-anchor="end">.</text>
<text x="201.7" y="104.6" font-size="22" textLength="14.5" lengthAdjust="spacingAndGlyphs">T</text>
</g>
<g>
<path d="M235.7 28.6H301.6" stroke="#9400d3" stroke-width="5.5"/>
<rect x="235.3" y="25.2" width="6.8" height="6.8" fill="#9400d3"/>
<rect x="265.2" y="25.2" width="6.8" height="6.8" fill="#9400d3"/>
<rect x="295.2" y="25.2" width="6.8" height="6.8" fill="#9400d3"/>
<path d="M238.2 51.9H299.1" stroke="#009e73" stroke-width="1.8"/>
<path d="M235.7 74.8H301.6" stroke="#56b4e9" stroke-width="5.5"/>
<rect x="235.2" y="71.3" width="7" height="7" fill="#56b4e9"/>
<rect x="295.1" y="71.3" width="7" height="7" fill="#56b4e9"/>
<ellipse cx="268.65" cy="74.8" rx="3.8" ry="4.8" fill="#56b4e9"/>
<path d="M238.2 97.8H299.1" stroke="#e69f00" stroke-width="1.8"/>
</g>
<g font-family="'Liberation Serif', serif" fill="#000">
<text x="451.3" y="539" font-size="22" font-style="italic">q</text>
<g transform="translate(29.2,296.2) rotate(-90)" font-size="22"><text x="0" y="0" font-style="italic">P</text><text x="10.9" y="6.3" font-size="15" font-style="italic">C</text><text x="14.1" y="-7.3" font-size="15" font-style="italic">N</text><text x="27.3" y="2.5" font-size="27">(</text><text x="36" y="0">|</text><text x="43.3" y="0" font-style="italic">q</text><text x="55" y="0">|</text><text x="59.6" y="0">;</text><text x="73" y="0" font-style="italic">h</text><text x="85.2" y="2.5" font-size="27">)</text></g>
</g>
<rect x="549.5" y="28.2" width="240.5" height="226.0" fill="#fff" stroke="none"/>
<g id="inset-data">
<polyline points="549.5,206.6 550.1,206.6 550.7,206.6 551.3,206.6 551.9,206.6 552.5,206.6 553.1,206.6 553.7,206.5 554.3,206.5 554.9,206.5 555.5,206.5 556.1,206.5 556.7,206.4 557.3,206.4 557.9,206.4 558.5,206.3 559.1,206.3 559.7,206.3 560.3,206.2 561.0,206.2 561.6,206.2 562.2,206.1 562.8,206.1 563.4,206.1 564.0,206.0 564.6,206.0 565.2,205.9 565.8,205.9 566.4,205.8 567.0,205.8 567.6,205.8 568.2,205.7 568.8,205.7 569.4,205.6 570.0,205.6 570.6,205.5 571.2,205.5 571.8,205.4 572.4,205.4 573.0,205.3 573.6,205.3 574.2,205.2 574.8,205.2 575.4,205.1 576.0,205.1 576.6,205.0 577.2,204.9 577.8,204.9 578.4,204.8 579.0,204.7 579.6,204.6 580.2,204.5 580.8,204.5 581.4,204.4 582.0,204.3 582.7,204.2 583.3,204.1 583.9,204.0 584.5,203.9 585.1,203.8 585.7,203.7 586.3,203.6 586.9,203.5 587.5,203.4 588.1,203.3 588.7,203.2 589.3,203.1 589.9,203.0 590.5,202.9 591.1,202.8 591.7,202.7 592.3,202.6 592.9,202.5 593.5,202.4 594.1,202.3 594.7,202.1 595.3,202.0 595.9,201.9 596.5,201.8 597.1,201.7 597.7,201.6 598.3,201.5 598.9,201.4 599.5,201.2 600.1,201.1 600.7,201.0 601.3,200.9 601.9,200.8 602.5,200.6 603.1,200.5 603.7,200.4 604.4,200.3 605.0,200.1 605.6,200.0 606.2,199.9 606.8,199.7 607.4,199.6 608.0,199.5 608.6,199.3 609.2,199.2 609.8,199.0 610.4,198.9 611.0,198.8 611.6,198.6 612.2,198.5 612.8,198.3 613.4,198.2 614.0,198.0 614.6,197.9 615.2,197.7 615.8,197.6 616.4,197.4 617.0,197.3 617.6,197.1 618.2,197.0 618.8,196.8 619.4,196.7 620.0,196.5 620.6,196.4 621.2,196.2 621.8,196.1 622.4,195.9 623.0,195.8 623.6,195.6 624.2,195.4 624.8,195.3 625.4,195.1 626.1,195.0 626.7,194.8 627.3,194.6 627.9,194.5 628.5,194.3 629.1,194.2 629.7,194.0 630.3,193.8 630.9,193.7 631.5,193.5 632.1,193.3 632.7,193.1 633.3,193.0 633.9,192.8 634.5,192.6 635.1,192.4 635.7,192.3 636.3,192.1 636.9,191.9 637.5,191.7 638.1,191.6 638.7,191.4 639.3,191.2 639.9,191.0 640.5,190.8 641.1,190.6 641.7,190.4 642.3,190.2 642.9,190.0 643.5,189.9 644.1,189.7 644.7,189.5 645.3,189.3 645.9,189.1 646.5,188.9 647.1,188.6 647.7,188.4 648.4,188.2 649.0,188.0 649.6,187.8 650.2,187.6 650.8,187.4 651.4,187.2 652.0,186.9 652.6,186.7 653.2,186.5 653.8,186.3 654.4,186.0 655.0,185.8 655.6,185.6 656.2,185.3 656.8,185.1 657.4,184.9 658.0,184.6 658.6,184.4 659.2,184.1 659.8,183.9 660.4,183.7 661.0,183.4 661.6,183.2 662.2,182.9 662.8,182.7 663.4,182.4 664.0,182.1 664.6,181.9 665.2,181.6 665.8,181.4 666.4,181.1 667.0,180.8 667.6,180.6 668.2,180.3 668.8,180.0 669.4,179.7 670.1,179.5 670.7,179.2 671.3,178.9 671.9,178.6 672.5,178.3 673.1,178.0 673.7,177.7 674.3,177.4 674.9,177.1 675.5,176.8 676.1,176.5 676.7,176.2 677.3,175.9 677.9,175.5 678.5,175.2 679.1,174.9 679.7,174.6 680.3,174.2 680.9,173.9 681.5,173.6 682.1,173.2 682.7,172.9 683.3,172.6 683.9,172.2 684.5,171.9 685.1,171.5 685.7,171.2 686.3,170.8 686.9,170.5 687.5,170.2 688.1,169.8 688.7,169.5 689.3,169.1 689.9,168.8 690.5,168.4 691.1,168.1 691.8,167.7 692.4,167.4 693.0,167.0 693.6,166.7 694.2,166.3 694.8,165.9 695.4,165.6 696.0,165.2 696.6,164.8 697.2,164.5 697.8,164.1 698.4,163.7 699.0,163.3 699.6,162.9 700.2,162.5 700.8,162.2 701.4,161.8 702.0,161.4 702.6,161.0 703.2,160.6 703.8,160.2 704.4,159.9 705.0,159.5 705.6,159.1 706.2,158.8 706.8,158.4 707.4,158.0 708.0,157.7 708.6,157.4 709.2,157.0 709.8,156.6 710.4,156.2 711.0,155.8 711.6,155.4 712.2,155.0 712.8,154.6 713.4,154.2 714.1,153.8 714.7,153.4 715.3,153.0 715.9,152.6 716.5,152.3 717.1,152.0 717.7,151.7 718.3,151.4 718.9,151.2 719.5,151.0 720.1,150.9 720.7,150.8 721.3,150.7 721.9,150.7 722.5,150.8 723.1,150.8 723.7,150.8 724.3,150.9 724.9,151.0 725.5,151.1 726.1,151.2 726.7,151.3 727.3,151.4 727.9,151.6 728.5,151.7 729.1,151.9 729.7,152.0 730.3,152.2 730.9,152.5 731.5,152.8 732.1,153.1 732.7,153.5 733.3,154.0 733.9,154.5 734.5,155.0 735.1,155.6 735.8,156.3 736.4,156.9 737.0,157.6 737.6,158.4 738.2,159.1 738.8,159.9 739.4,160.7 740.0,161.6 740.6,162.4 741.2,163.3 741.8,164.1 742.4,165.0 743.0,166.1 743.6,167.2 744.2,168.4 744.8,169.7 745.4,171.1 746.0,172.6 746.6,174.1 747.2,175.7 747.8,177.3 748.4,178.9 749.0,180.5 749.6,182.2 750.2,184.1 750.8,186.1 751.4,188.1 752.0,190.3 752.6,192.4 753.2,194.6 753.8,196.8 754.4,198.9 755.0,201.0 755.6,202.9 756.2,204.9 756.8,206.8 757.5,208.8 758.1,210.7 758.7,212.7 759.3,214.6 759.9,216.5 760.5,218.4 761.1,220.3 761.7,222.1 762.3,223.9 762.9,225.6 763.5,227.3 764.1,228.9 764.7,230.4 765.3,231.9 765.9,233.3 766.5,234.7 767.1,236.0 767.7,237.2 768.3,238.4 768.9,239.5 769.5,240.6 770.1,241.7 770.7,242.7 771.3,243.7 771.9,244.7 772.5,245.7 773.1,246.6 773.7,247.5 774.3,248.3 774.9,249.1 775.5,249.9 776.1,250.7 776.7,251.4 777.3,252.1 777.9,252.7 778.5,253.1 779.2,253.4 779.8,253.7 780.4,254.0 781.0,254.1 781.6,254.2 782.2,254.2 782.8,254.2 783.4,254.2 784.0,254.2 784.6,254.2 785.2,254.2 785.8,254.2 786.4,254.2 787.0,254.2 787.6,254.2 788.2,254.2 788.8,254.2 789.4,254.2 790.0,254.2" stroke="#9400d3" stroke-width="6" fill="none" stroke-linejoin="round"/>
<polyline points="549.5,207.7 550.1,207.7 550.7,207.7 551.3,207.7 551.9,207.7 552.5,207.7 553.1,207.7 553.7,207.7 554.3,207.6 554.9,207.6 555.5,207.6 556.1,207.6 556.7,207.6 557.3,207.5 557.9,207.5 558.5,207.5 559.1,207.4 559.7,207.4 560.3,207.4 561.0,207.4 561.6,207.3 562.2,207.3 562.8,207.3 563.4,207.2 564.0,207.2 564.6,207.1 565.2,207.1 565.8,207.1 566.4,207.0 567.0,207.0 567.6,206.9 568.2,206.9 568.8,206.9 569.4,206.8 570.0,206.8 570.6,206.7 571.2,206.7 571.8,206.6 572.4,206.6 573.0,206.5 573.6,206.5 574.2,206.5 574.8,206.4 575.4,206.3 576.0,206.3 576.6,206.2 577.2,206.2 577.8,206.1 578.4,206.0 579.0,206.0 579.6,205.9 580.2,205.8 580.8,205.8 581.4,205.7 582.0,205.6 582.7,205.5 583.3,205.4 583.9,205.3 584.5,205.3 585.1,205.2 585.7,205.1 586.3,205.0 586.9,204.9 587.5,204.8 588.1,204.7 588.7,204.6 589.3,204.5 589.9,204.4 590.5,204.3 591.1,204.2 591.7,204.1 592.3,204.0 592.9,203.9 593.5,203.8 594.1,203.7 594.7,203.6 595.3,203.5 595.9,203.4 596.5,203.3 597.1,203.2 597.7,203.1 598.3,203.0 598.9,202.8 599.5,202.7 600.1,202.6 600.7,202.5 601.3,202.4 601.9,202.3 602.5,202.2 603.1,202.0 603.7,201.9 604.4,201.8 605.0,201.7 605.6,201.5 606.2,201.4 606.8,201.3 607.4,201.1 608.0,201.0 608.6,200.9 609.2,200.7 609.8,200.6 610.4,200.5 611.0,200.3 611.6,200.2 612.2,200.0 612.8,199.9 613.4,199.8 614.0,199.6 614.6,199.5 615.2,199.3 615.8,199.2 616.4,199.0 617.0,198.9 617.6,198.7 618.2,198.6 618.8,198.4 619.4,198.3 620.0,198.1 620.6,198.0 621.2,197.8 621.8,197.7 622.4,197.5 623.0,197.3 623.6,197.2 624.2,197.0 624.8,196.9 625.4,196.7 626.1,196.5 626.7,196.4 627.3,196.2 627.9,196.0 628.5,195.9 629.1,195.7 629.7,195.5 630.3,195.3 630.9,195.2 631.5,195.0 632.1,194.8 632.7,194.6 633.3,194.4 633.9,194.3 634.5,194.1 635.1,193.9 635.7,193.7 636.3,193.5 636.9,193.3 637.5,193.1 638.1,192.9 638.7,192.7 639.3,192.5 639.9,192.3 640.5,192.1 641.1,191.9 641.7,191.7 642.3,191.5 642.9,191.3 643.5,191.1 644.1,190.9 644.7,190.7 645.3,190.5 645.9,190.3 646.5,190.1 647.1,189.8 647.7,189.6 648.4,189.4 649.0,189.2 649.6,189.0 650.2,188.7 650.8,188.5 651.4,188.3 652.0,188.0 652.6,187.8 653.2,187.6 653.8,187.3 654.4,187.1 655.0,186.9 655.6,186.6 656.2,186.4 656.8,186.1 657.4,185.9 658.0,185.6 658.6,185.4 659.2,185.1 659.8,184.9 660.4,184.6 661.0,184.3 661.6,184.1 662.2,183.8 662.8,183.5 663.4,183.3 664.0,183.0 664.6,182.7 665.2,182.4 665.8,182.1 666.4,181.8 667.0,181.6 667.6,181.3 668.2,181.0 668.8,180.7 669.4,180.4 670.1,180.1 670.7,179.7 671.3,179.4 671.9,179.1 672.5,178.8 673.1,178.4 673.7,178.1 674.3,177.8 674.9,177.4 675.5,177.1 676.1,176.7 676.7,176.4 677.3,176.0 677.9,175.6 678.5,175.3 679.1,174.9 679.7,174.5 680.3,174.1 680.9,173.8 681.5,173.4 682.1,173.0 682.7,172.6 683.3,172.2 683.9,171.8 684.5,171.4 685.1,171.0 685.7,170.6 686.3,170.2 686.9,169.8 687.5,169.3 688.1,168.9 688.7,168.5 689.3,168.1 689.9,167.7 690.5,167.2 691.1,166.8 691.8,166.4 692.4,166.0 693.0,165.5 693.6,165.1 694.2,164.7 694.8,164.2 695.4,163.7 696.0,163.3 696.6,162.8 697.2,162.3 697.8,161.8 698.4,161.3 699.0,160.8 699.6,160.3 700.2,159.8 700.8,159.2 701.4,158.7 702.0,158.2 702.6,157.7 703.2,157.2 703.8,156.7 704.4,156.2 705.0,155.7 705.6,155.2 706.2,154.8 706.8,154.3 707.4,153.9 708.0,153.4 708.6,153.0 709.2,152.6 709.8,152.1 710.4,151.7 711.0,151.2 711.6,150.7 712.2,150.2 712.8,149.8 713.4,149.3 714.1,148.8 714.7,148.4 715.3,148.0 715.9,147.6 716.5,147.2 717.1,146.9 717.7,146.6 718.3,146.3 718.9,146.1 719.5,145.9 720.1,145.8 720.7,145.7 721.3,145.7 721.9,145.8 722.5,145.9 723.1,146.1 723.7,146.3 724.3,146.5 724.9,146.8 725.5,147.1 726.1,147.4 726.7,147.8 727.3,148.2 727.9,148.5 728.5,148.9 729.1,149.3 729.7,149.8 730.3,150.4 730.9,151.1 731.5,151.8 732.1,152.6 732.7,153.5 733.3,154.4 733.9,155.4 734.5,156.3 735.1,157.3 735.8,158.3 736.4,159.4 737.0,160.4 737.6,161.5 738.2,162.6 738.8,163.7 739.4,164.9 740.0,166.1 740.6,167.4 741.2,168.7 741.8,170.1 742.4,171.5 743.0,173.0 743.6,174.5 744.2,176.0 744.8,177.6 745.4,179.2 746.0,180.9 746.6,182.7 747.2,184.7 747.8,186.7 748.4,188.9 749.0,191.1 749.6,193.4 750.2,195.8 750.8,198.2 751.4,200.6 752.0,203.0 752.6,205.4 753.2,207.7 753.8,210.0 754.4,212.3 755.0,214.4 755.6,216.4 756.2,218.4 756.8,220.3 757.5,222.1 758.1,224.0 758.7,225.9 759.3,227.7 759.9,229.5 760.5,231.3 761.1,233.1 761.7,234.8 762.3,236.4 762.9,238.0 763.5,239.6 764.1,241.0 764.7,242.4 765.3,243.7 765.9,244.9 766.5,246.1 767.1,247.2 767.7,248.3 768.3,249.3 768.9,250.3 769.5,251.2 770.1,251.9 770.7,252.5 771.3,253.0 771.9,253.4 772.5,253.8 773.1,254.1 773.7,254.2 774.3,254.2 774.9,254.2 775.5,254.2 776.1,254.2 776.7,254.2 777.3,254.2 777.9,254.2 778.5,254.2 779.2,254.2 779.8,254.2 780.4,254.2 781.0,254.2 781.6,254.2 782.2,254.2 782.8,254.2 783.4,254.2 784.0,254.2 784.6,254.2 785.2,254.2 785.8,254.2 786.4,254.2 787.0,254.2 787.6,254.2 788.2,254.2 788.8,254.2 789.4,254.2 790.0,254.2" stroke="#009e73" stroke-width="2.0" fill="none" stroke-linejoin="round"/>
<polyline points="549.5,213.5 549.9,213.5 550.3,213.5 550.7,213.5 551.1,213.5 551.5,213.5 551.9,213.4 552.3,213.4 552.7,213.4 553.1,213.4 553.5,213.4 553.9,213.4 554.3,213.4 554.7,213.4 555.1,213.4 555.5,213.4 555.9,213.4 556.3,213.4 556.7,213.3 557.1,213.3 557.5,213.3 557.9,213.3 558.3,213.3 558.7,213.3 559.1,213.3 559.5,213.3 559.9,213.2 560.3,213.2 560.7,213.2 561.1,213.2 561.5,213.2 561.9,213.2 562.3,213.1 562.7,213.1 563.2,213.1 563.6,213.1 564.0,213.1 564.4,213.1 564.8,213.0 565.2,213.0 565.6,213.0 566.0,213.0 566.4,213.0 566.8,213.0 567.2,212.9 567.6,212.9 568.0,212.9 568.4,212.9 568.8,212.9 569.2,212.8 569.6,212.8 570.0,212.8 570.4,212.8 570.8,212.8 571.2,212.7 571.6,212.7 572.0,212.7 572.4,212.7 572.8,212.7 573.2,212.6 573.6,212.6 574.0,212.6 574.4,212.6 574.8,212.6 575.2,212.5 575.6,212.5 576.0,212.5 576.4,212.5 576.8,212.4 577.2,212.4 577.6,212.4 578.0,212.4 578.4,212.3 578.8,212.3 579.2,212.3 579.6,212.2 580.0,212.2 580.4,212.2 580.8,212.1 581.2,212.1 581.6,212.1 582.0,212.0 582.4,212.0 582.8,212.0 583.2,211.9 583.6,211.9 584.0,211.9 584.4,211.8 584.8,211.8 585.2,211.8 585.6,211.7 586.0,211.7 586.4,211.7 586.8,211.6 587.2,211.6 587.6,211.5 588.0,211.5 588.4,211.5 588.8,211.4 589.2,211.4 589.7,211.3 590.1,211.3 590.5,211.2 590.9,211.2 591.3,211.2 591.7,211.1 592.1,211.1 592.5,211.0 592.9,211.0 593.3,210.9 593.7,210.9 594.1,210.8 594.5,210.8 594.9,210.7 595.3,210.7 595.7,210.7 596.1,210.6 596.5,210.6 596.9,210.5 597.3,210.5 597.7,210.4 598.1,210.4 598.5,210.3 598.9,210.3 599.3,210.2 599.7,210.1 600.1,210.1 600.5,210.0 600.9,210.0 601.3,209.9 601.7,209.9 602.1,209.8 602.5,209.7 602.9,209.7 603.3,209.6 603.7,209.5 604.1,209.5 604.5,209.4 604.9,209.3 605.3,209.3 605.7,209.2 606.1,209.1 606.5,209.0 606.9,209.0 607.3,208.9 607.7,208.8 608.1,208.7 608.5,208.7 608.9,208.6 609.3,208.5 609.7,208.4 610.1,208.4 610.5,208.3 610.9,208.2 611.3,208.1 611.7,208.0 612.1,208.0 612.5,207.9 612.9,207.8 613.3,207.7 613.7,207.6 614.1,207.5 614.5,207.5 614.9,207.4 615.3,207.3 615.7,207.2 616.1,207.1 616.6,207.0 617.0,206.9 617.4,206.8 617.8,206.8 618.2,206.7 618.6,206.6 619.0,206.5 619.4,206.4 619.8,206.3 620.2,206.2 620.6,206.1 621.0,206.0 621.4,206.0 621.8,205.9 622.2,205.8 622.6,205.7 623.0,205.6 623.4,205.5 623.8,205.4 624.2,205.3 624.6,205.2 625.0,205.1 625.4,205.0 625.8,204.9 626.2,204.8 626.6,204.7 627.0,204.7 627.4,204.6 627.8,204.5 628.2,204.4 628.6,204.3 629.0,204.2 629.4,204.1 629.8,204.0 630.2,203.9 630.6,203.8 631.0,203.7 631.4,203.6 631.8,203.4 632.2,203.3 632.6,203.2 633.0,203.1 633.4,203.0 633.8,202.9 634.2,202.8 634.6,202.7 635.0,202.6 635.4,202.5 635.8,202.3 636.2,202.2 636.6,202.1 637.0,202.0 637.4,201.9 637.8,201.8 638.2,201.6 638.6,201.5 639.0,201.4 639.4,201.3 639.8,201.1 640.2,201.0 640.6,200.9 641.0,200.8 641.4,200.6 641.8,200.5 642.2,200.4 642.6,200.2 643.1,200.1 643.5,200.0 643.9,199.8 644.3,199.7 644.7,199.5 645.1,199.4 645.5,199.3 645.9,199.1 646.3,199.0 646.7,198.8 647.1,198.7 647.5,198.5 647.9,198.3 648.3,198.2 648.7,198.0 649.1,197.9 649.5,197.7 649.9,197.5 650.3,197.4 650.7,197.2 651.1,197.0 651.5,196.9 651.9,196.7 652.3,196.5 652.7,196.3 653.1,196.2 653.5,196.0 653.9,195.8 654.3,195.6 654.7,195.4 655.1,195.2 655.5,195.0 655.9,194.8 656.3,194.6 656.7,194.4 657.1,194.2 657.5,194.0 657.9,193.8 658.3,193.6 658.7,193.4 659.1,193.2 659.5,193.0 659.9,192.8 660.3,192.5 660.7,192.3 661.1,192.1 661.5,191.9 661.9,191.6 662.3,191.4 662.7,191.2 663.1,190.9 663.5,190.7 663.9,190.4 664.3,190.2 664.7,189.9 665.1,189.7 665.5,189.4 665.9,189.2 666.3,188.9 666.7,188.6 667.1,188.4 667.5,188.1 667.9,187.8 668.3,187.6 668.7,187.3 669.1,187.0 669.5,186.7 670.0,186.4 670.4,186.1 670.8,185.8 671.2,185.5 671.6,185.2 672.0,184.9 672.4,184.6 672.8,184.2 673.2,183.9 673.6,183.6 674.0,183.2 674.4,182.9 674.8,182.5 675.2,182.1 675.6,181.7 676.0,181.4 676.4,181.0 676.8,180.6 677.2,180.1 677.6,179.7 678.0,179.3 678.4,178.9 678.8,178.4 679.2,178.0 679.6,177.5 680.0,177.1 680.4,176.6 680.8,176.1 681.2,175.6 681.6,175.1 682.0,174.6 682.4,174.1 682.8,173.5 683.2,173.0 683.6,172.5 684.0,171.9 684.4,171.3 684.8,170.7 685.2,170.1 685.6,169.4 686.0,168.7 686.4,168.0 686.8,167.3 687.2,166.5 687.6,165.7 688.0,164.9 688.4,164.1 688.8,163.2 689.2,162.3 689.6,161.5 690.0,160.6 690.4,159.6 690.8,158.7 691.2,157.8 691.6,156.8 692.0,155.9 692.4,154.9 692.8,153.9 693.2,152.9 693.6,151.9 694.0,150.9 694.4,149.9 694.8,148.8 695.2,147.7 695.6,146.7 696.0,145.5 696.4,144.4 696.9,143.3 697.3,142.1 697.7,140.9 698.1,139.7 698.5,138.5 698.9,137.3 699.3,136.1 699.7,134.8 700.1,133.5 700.5,132.2 700.9,130.9 701.3,129.6 701.7,128.3 702.1,126.9 702.5,125.6 702.9,124.2 703.3,122.8 703.7,121.4 704.1,120.0 704.5,118.5 704.9,117.1 705.3,115.6 705.7,114.1 706.1,112.5 706.5,110.9 706.9,109.2 707.3,107.5 707.7,105.8 708.1,104.0 708.5,102.1 708.9,100.3 709.3,98.4 709.7,96.5 710.1,94.6 710.5,92.7 710.9,90.8 711.3,88.9 711.7,87.0 712.1,85.0 712.5,83.1 712.9,81.3 713.3,79.4 713.7,77.6 714.1,75.8 714.5,74.0 714.9,72.3 715.3,70.6 715.7,68.8 716.1,66.9 716.5,64.9 716.9,62.9 717.3,60.8 717.7,58.7 718.1,56.6 718.5,54.6 718.9,52.7 719.3,50.9 719.7,49.2 720.1,47.8 720.5,46.5 720.9,45.5 721.3,44.8 721.7,44.3 722.1,44.2 722.5,44.5 722.9,45.2 723.4,46.2 723.8,47.6 724.2,49.2 724.6,51.0 725.0,53.1 725.4,55.3 725.8,57.7 726.2,60.2 726.6,62.7 727.0,65.3 727.4,67.8 727.8,70.4 728.2,72.9 728.6,75.8 729.0,78.8 729.4,82.1 729.8,85.6 730.2,89.2 730.6,93.1 731.0,97.0 731.4,101.1 731.8,105.2 732.2,109.5 732.6,113.7 733.0,118.1 733.4,122.6 733.8,127.3 734.2,132.2 734.6,137.3 735.0,142.7 735.4,148.3 735.8,154.2 736.2,161.0 736.6,168.6 737.0,176.5 737.4,184.0 737.8,190.5 738.2,196.2 738.6,201.6 739.0,206.7 739.4,211.4 739.8,215.7 740.2,219.4 740.6,222.7 741.0,225.9 741.4,228.9 741.8,231.7 742.2,234.4 742.6,236.8 743.0,239.0 743.4,240.8 743.8,242.4 744.2,243.7 744.6,244.8 745.0,246.0 745.4,247.0 745.8,248.0 746.2,248.9 746.6,249.7 747.0,250.5 747.4,251.2 747.8,251.8 748.2,252.2 748.6,252.6 749.0,252.9 749.4,253.2 749.8,253.4 750.3,253.6 750.7,253.7 751.1,253.9 751.5,254.0 751.9,254.1 752.3,254.2 752.7,254.2 753.1,254.2 753.5,254.2 753.9,254.2 754.3,254.2 754.7,254.2 755.1,254.2 755.5,254.2 755.9,254.2 756.3,254.2 756.7,254.2 757.1,254.2 757.5,254.2 757.9,254.2 758.3,254.2 758.7,254.2 759.1,254.2 759.5,254.2 759.9,254.2 760.3,254.2 760.7,254.2 761.1,254.2 761.5,254.2 761.9,254.2 762.3,254.2 762.7,254.2 763.1,254.2 763.5,254.2 763.9,254.2 764.3,254.2 764.7,254.2 765.1,254.2 765.5,254.2 765.9,254.2 766.3,254.2 766.7,254.2 767.1,254.2 767.5,254.2 767.9,254.2 768.3,254.2 768.7,254.2 769.1,254.2 769.5,254.2 769.9,254.2 770.3,254.2 770.7,254.2 771.1,254.2 771.5,254.2 771.9,254.2 772.3,254.2 772.7,254.2 773.1,254.2 773.5,254.2 773.9,254.2 774.3,254.2 774.7,254.2 775.1,254.2 775.5,254.2 775.9,254.2 776.3,254.2 776.8,254.2 777.2,254.2 777.6,254.2 778.0,254.2 778.4,254.2 778.8,254.2 779.2,254.2 779.6,254.2 780.0,254.2 780.4,254.2 780.8,254.2 781.2,254.2 781.6,254.2 782.0,254.2 782.4,254.2 782.8,254.2 783.2,254.2 783.6,254.2 784.0,254.2 784.4,254.2 784.8,254.2 785.2,254.2 785.6,254.2 786.0,254.2 786.4,254.2 786.8,254.2 787.2,254.2 787.6,254.2 788.0,254.2 788.4,254.2 788.8,254.2 789.2,254.2 789.6,254.2 790.0,254.2" stroke="#56b4e9" stroke-width="6" fill="none" stroke-linejoin="round"/>
<polyline points="549.5,210.1 549.7,211.4 549.9,213.3 550.1,217.4 550.3,215.4 550.5,213.4 550.7,213.1 550.9,212.7 551.1,214.5 551.3,212.9 551.5,213.5 551.7,211.8 551.9,212.6 552.1,211.6 552.3,212.0 552.5,212.8 552.7,215.6 552.9,214.1 553.1,215.3 553.3,212.6 553.5,213.9 553.7,212.3 553.9,213.1 554.1,213.1 554.3,210.4 554.5,213.5 554.7,211.2 554.9,214.3 555.1,212.2 555.3,210.5 555.5,211.2 555.7,211.7 555.9,215.9 556.1,211.0 556.3,212.6 556.5,213.6 556.7,213.0 556.9,213.2 557.1,214.5 557.3,212.0 557.5,216.4 557.7,215.7 557.9,213.6 558.1,215.7 558.3,213.5 558.5,212.5 558.7,211.1 558.9,212.0 559.1,214.3 559.3,213.8 559.5,216.1 559.7,216.0 559.9,214.8 560.1,213.4 560.3,216.4 560.5,213.1 560.7,208.8 560.9,212.7 561.1,214.0 561.3,214.2 561.5,214.2 561.7,214.5 561.9,208.5 562.1,217.2 562.3,214.1 562.5,213.2 562.7,209.6 562.9,214.6 563.1,211.2 563.3,209.5 563.5,214.1 563.7,214.0 563.9,212.8 564.1,211.4 564.3,213.8 564.5,213.1 564.7,213.6 564.9,213.7 565.1,210.2 565.3,213.7 565.5,210.6 565.7,213.7 565.9,212.2 566.1,211.9 566.3,215.8 566.5,213.2 566.8,213.2 567.0,214.2 567.2,216.8 567.4,207.6 567.6,213.7 567.8,212.9 568.0,214.9 568.2,212.9 568.4,212.7 568.6,213.9 568.8,212.7 569.0,211.2 569.2,212.8 569.4,216.2 569.6,213.9 569.8,208.6 570.0,212.5 570.2,211.0 570.4,214.5 570.6,210.6 570.8,212.5 571.0,213.6 571.2,214.2 571.4,211.6 571.6,213.2 571.8,216.8 572.0,211.4 572.2,212.7 572.4,211.0 572.6,212.3 572.8,213.5 573.0,212.7 573.2,213.8 573.4,210.3 573.6,212.9 573.8,212.0 574.0,207.3 574.2,214.6 574.4,212.8 574.6,211.5 574.8,214.5 575.0,213.5 575.2,208.2 575.4,213.4 575.6,217.0 575.8,213.1 576.0,214.1 576.2,209.4 576.4,209.6 576.6,209.8 576.8,214.4 577.0,214.2 577.2,207.7 577.4,214.1 577.6,208.5 577.8,209.7 578.0,212.2 578.2,211.0 578.4,212.2 578.6,212.7 578.8,214.5 579.0,211.4 579.2,211.0 579.4,210.9 579.6,216.8 579.8,214.4 580.0,214.5 580.2,213.3 580.4,212.7 580.6,214.9 580.8,212.1 581.0,209.3 581.2,209.1 581.4,216.9 581.6,210.2 581.8,210.8 582.0,211.8 582.2,214.1 582.4,209.9 582.6,211.6 582.8,212.7 583.0,209.5 583.2,212.1 583.4,214.0 583.6,212.4 583.8,212.1 584.0,212.8 584.2,211.7 584.4,211.0 584.6,210.8 584.8,213.4 585.0,208.7 585.2,209.5 585.4,213.2 585.6,214.0 585.8,211.9 586.0,210.0 586.2,208.6 586.4,212.7 586.6,211.9 586.8,212.2 587.0,212.3 587.2,209.5 587.4,210.0 587.6,211.2 587.8,211.0 588.0,208.3 588.2,209.0 588.4,210.9 588.6,213.9 588.8,215.8 589.0,211.7 589.2,210.6 589.4,211.8 589.6,211.3 589.8,209.5 590.0,204.9 590.2,211.4 590.4,209.9 590.6,210.9 590.8,209.2 591.0,210.4 591.2,211.3 591.4,208.4 591.6,209.6 591.8,212.1 592.0,212.4 592.2,207.5 592.4,212.4 592.6,213.4 592.8,211.7 593.0,211.8 593.2,211.1 593.4,211.6 593.6,209.9 593.8,213.3 594.0,210.8 594.2,208.0 594.4,211.8 594.6,212.4 594.8,211.5 595.0,208.8 595.2,211.8 595.4,205.1 595.6,213.8 595.8,211.6 596.0,207.1 596.2,206.6 596.4,215.0 596.6,210.9 596.8,209.0 597.0,211.0 597.2,210.0 597.4,210.0 597.6,210.9 597.8,210.9 598.0,208.3 598.2,210.8 598.4,210.6 598.6,208.3 598.8,212.0 599.0,211.2 599.2,208.2 599.4,213.5 599.6,211.1 599.8,212.7 600.0,208.6 600.2,209.1 600.4,210.2 600.6,208.9 600.8,209.5 601.1,207.2 601.3,213.8 601.5,210.8 601.7,212.3 601.9,213.1 602.1,209.7 602.3,213.5 602.5,205.2 602.7,208.9 602.9,208.6 603.1,209.5 603.3,207.3 603.5,211.2 603.7,213.2 603.9,209.9 604.1,210.5 604.3,205.2 604.5,207.9 604.7,210.0 604.9,208.0 605.1,209.8 605.3,208.4 605.5,209.8 605.7,206.5 605.9,210.1 606.1,211.8 606.3,210.4 606.5,213.0 606.7,208.8 606.9,210.6 607.1,206.4 607.3,210.7 607.5,209.8 607.7,208.3 607.9,210.9 608.1,206.6 608.3,208.2 608.5,209.3 608.7,206.7 608.9,206.7 609.1,210.5 609.3,207.8 609.5,206.5 609.7,207.5 609.9,207.3 610.1,206.9 610.3,209.0 610.5,206.3 610.7,205.4 610.9,208.3 611.1,208.0 611.3,210.4 611.5,205.6 611.7,206.9 611.9,209.9 612.1,208.6 612.3,206.8 612.5,206.3 612.7,209.1 612.9,207.7 613.1,206.1 613.3,206.8 613.5,206.8 613.7,209.3 613.9,202.7 614.1,206.4 614.3,209.7 614.5,204.2 614.7,206.8 614.9,208.8 615.1,204.7 615.3,206.1 615.5,205.5 615.7,207.4 615.9,205.8 616.1,205.0 616.3,207.1 616.5,207.3 616.7,209.0 616.9,206.0 617.1,206.4 617.3,205.6 617.5,208.9 617.7,208.9 617.9,205.1 618.1,202.5 618.3,210.1 618.5,202.9 618.7,203.1 618.9,205.3 619.1,209.9 619.3,208.4 619.5,205.7 619.7,207.5 619.9,205.8 620.1,208.2 620.3,205.2 620.5,209.0 620.7,207.0 620.9,204.8 621.1,202.6 621.3,208.0 621.5,206.7 621.7,203.9 621.9,203.9 622.1,204.7 622.3,204.9 622.5,205.2 622.7,205.4 622.9,205.4 623.1,204.3 623.3,209.2 623.5,204.7 623.7,204.0 623.9,206.2 624.1,203.5 624.3,205.9 624.5,205.3 624.7,206.9 624.9,203.1 625.1,201.3 625.3,207.1 625.5,204.5 625.7,208.0 625.9,206.1 626.1,203.8 626.3,205.3 626.5,202.4 626.7,202.7 626.9,204.5 627.1,204.7 627.3,201.2 627.5,205.8 627.7,205.3 627.9,206.2 628.1,201.5 628.3,205.3 628.5,203.0 628.7,203.2 628.9,206.0 629.1,204.1 629.3,205.0 629.5,205.6 629.7,206.0 629.9,202.1 630.1,202.0 630.3,204.4 630.5,204.7 630.7,202.3 630.9,204.4 631.1,202.0 631.3,203.0 631.5,203.3 631.7,203.9 631.9,204.7 632.1,202.8 632.3,203.7 632.5,201.8 632.7,204.7 632.9,204.3 633.1,202.2 633.3,206.8 633.5,203.1 633.7,202.7 633.9,202.3 634.1,203.8 634.3,203.3 634.5,201.8 634.7,203.8 634.9,204.8 635.1,205.6 635.3,203.9 635.6,202.3 635.8,201.4 636.0,203.8 636.2,205.0 636.4,206.8 636.6,202.1 636.8,200.6 637.0,200.7 637.2,203.1 637.4,203.6 637.6,201.0 637.8,200.1 638.0,198.6 638.2,203.4 638.4,199.1 638.6,202.9 638.8,201.5 639.0,198.1 639.2,199.5 639.4,203.3 639.6,201.5 639.8,201.0 640.0,203.6 640.2,201.2 640.4,201.4 640.6,201.3 640.8,201.2 641.0,203.0 641.2,199.9 641.4,202.9 641.6,203.6 641.8,199.8 642.0,201.5 642.2,198.4 642.4,200.6 642.6,202.7 642.8,202.1 643.0,199.6 643.2,201.3 643.4,201.1 643.6,200.3 643.8,200.3 644.0,203.6 644.2,195.0 644.4,198.7 644.6,201.4 644.8,199.4 645.0,200.2 645.2,200.1 645.4,199.0 645.6,199.4 645.8,197.9 646.0,199.2 646.2,200.5 646.4,200.9 646.6,200.0 646.8,198.5 647.0,198.1 647.2,195.6 647.4,198.3 647.6,196.8 647.8,197.2 648.0,197.8 648.2,198.5 648.4,198.5 648.6,198.2 648.8,196.0 649.0,197.2 649.2,199.2 649.4,197.7 649.6,198.5 649.8,197.8 650.0,200.4 650.2,200.6 650.4,202.2 650.6,196.7 650.8,198.8 651.0,194.9 651.2,198.5 651.4,197.9 651.6,196.3 651.8,199.6 652.0,197.1 652.2,193.9 652.4,199.4 652.6,196.8 652.8,198.0 653.0,195.2 653.2,194.9 653.4,194.0 653.6,194.2 653.8,197.4 654.0,197.0 654.2,192.8 654.4,195.7 654.6,195.7 654.8,194.1 655.0,196.0 655.2,193.9 655.4,197.0 655.6,194.6 655.8,195.3 656.0,188.5 656.2,193.8 656.4,194.6 656.6,193.3 656.8,193.9 657.0,192.5 657.2,195.7 657.4,192.1 657.6,193.3 657.8,196.4 658.0,195.8 658.2,193.5 658.4,191.1 658.6,189.8 658.8,194.0 659.0,193.5 659.2,192.4 659.4,192.3 659.6,196.6 659.8,194.3 660.0,192.6 660.2,192.1 660.4,191.7 660.6,192.8 660.8,191.7 661.0,192.2 661.2,191.1 661.4,193.2 661.6,192.1 661.8,189.5 662.0,196.8 662.2,191.9 662.4,190.4 662.6,188.9 662.8,191.2 663.0,189.8 663.2,193.9 663.4,191.6 663.6,189.4 663.8,187.2 664.0,191.8 664.2,187.1 664.4,191.0 664.6,190.2 664.8,184.7 665.0,189.2 665.2,192.6 665.4,187.8 665.6,185.1 665.8,186.0 666.0,188.9 666.2,189.4 666.4,190.3 666.6,189.1 666.8,186.7 667.0,187.5 667.2,187.8 667.4,187.8 667.6,185.6 667.8,189.0 668.0,189.7 668.2,187.3 668.4,187.7 668.6,184.9 668.8,187.5 669.0,185.5 669.2,185.2 669.4,188.2 669.6,186.8 669.9,185.5 670.1,183.3 670.3,186.2 670.5,189.0 670.7,186.4 670.9,186.1 671.1,187.7 671.3,189.1 671.5,186.3 671.7,186.9 671.9,185.4 672.1,185.7 672.3,185.5 672.5,186.4 672.7,183.6 672.9,184.7 673.1,184.6 673.3,183.8 673.5,182.8 673.7,184.8 673.9,182.8 674.1,180.8 674.3,184.1 674.5,180.7 674.7,183.8 674.9,178.8 675.1,182.3 675.3,184.7 675.5,181.6 675.7,183.4 675.9,181.0 676.1,180.3 676.3,180.8 676.5,182.3 676.7,182.5 676.9,182.4 677.1,181.5 677.3,180.1 677.5,177.4 677.7,178.8 677.9,181.4 678.1,177.3 678.3,179.7 678.5,179.4 678.7,176.6 678.9,178.8 679.1,177.7 679.3,178.2 679.5,177.6 679.7,177.2 679.9,176.2 680.1,174.8 680.3,178.6 680.5,175.6 680.7,176.0 680.9,175.6 681.1,175.5 681.3,174.8 681.5,175.8 681.7,175.0 681.9,174.3 682.1,174.0 682.3,174.7 682.5,173.2 682.7,174.2 682.9,174.6 683.1,174.1 683.3,173.4 683.5,171.3 683.7,173.0 683.9,172.3 684.1,172.9 684.3,171.1 684.5,170.9 684.7,172.0 684.9,170.1 685.1,171.1 685.3,170.2 685.5,168.1 685.7,169.1 685.9,168.7 686.1,167.8 686.3,167.2 686.5,167.9 686.7,167.0 686.9,166.8 687.1,166.3 687.3,166.3 687.5,166.2 687.7,166.0 687.9,165.4 688.1,164.6 688.3,164.3 688.5,164.2 688.7,164.0 688.9,163.0 689.1,162.2 689.3,162.3 689.5,162.0 689.7,161.1 689.9,161.2 690.1,160.3 690.3,159.9 690.5,159.6 690.7,159.4 690.9,158.3 691.1,158.2 691.3,157.7 691.5,157.1 691.7,156.8 691.9,156.1 692.1,155.5 692.3,155.0 692.5,154.6 692.7,154.1 692.9,153.8 693.1,153.2 693.3,152.7 693.5,152.3 693.7,151.7 693.9,151.2 694.1,150.7 694.3,150.2 694.5,149.7 694.7,149.1 694.9,148.6 695.1,148.1 695.3,147.5 695.5,147.0 695.7,146.4 695.9,145.9 696.1,145.3 696.3,144.8 696.5,144.2 696.7,143.6 696.9,143.1 697.1,142.5 697.3,141.9 697.5,141.3 697.7,140.7 697.9,140.1 698.1,139.5 698.3,138.9 698.5,138.3 698.7,137.7 698.9,137.1 699.1,136.5 699.3,135.8 699.5,135.2 699.7,134.6 699.9,133.9 700.1,133.3 700.3,132.7 700.5,132.0 700.7,131.4 700.9,130.7 701.1,130.0 701.3,129.4 701.5,128.7 701.7,128.0 701.9,127.4 702.1,126.7 702.3,126.0 702.5,125.3 702.7,124.6 702.9,123.9 703.1,123.2 703.3,122.5 703.5,121.8 703.7,121.1 703.9,120.4 704.2,119.7 704.4,119.0 704.6,118.3 704.8,117.5 705.0,116.8 705.2,116.1 705.4,115.3 705.6,114.6 705.8,113.8 706.0,113.0 706.2,112.2 706.4,111.4 706.6,110.6 706.8,109.8 707.0,108.9 707.2,108.1 707.4,107.2 707.6,106.3 707.8,105.5 708.0,104.6 708.2,103.7 708.4,102.8 708.6,101.8 708.8,100.9 709.0,100.0 709.2,99.0 709.4,98.1 709.6,97.2 709.8,96.2 710.0,95.3 710.2,94.3 710.4,93.4 710.6,92.4 710.8,91.4 711.0,90.5 711.2,89.5 711.4,88.6 711.6,87.6 711.8,86.6 712.0,85.7 712.2,84.7 712.4,83.8 712.6,82.8 712.8,81.9 713.0,81.0 713.2,80.0 713.4,79.1 713.6,78.2 713.8,77.3 714.0,76.4 714.2,75.5 714.4,74.6 714.6,73.7 714.8,72.8 715.0,72.0 715.2,71.1 715.4,70.3 715.6,69.4 715.8,68.5 716.0,67.6 716.2,66.6 716.4,65.6 716.6,64.6 716.8,63.6 717.0,62.6 717.2,61.5 717.4,60.5 717.6,59.4 717.8,58.4 718.0,57.3 718.2,56.3 718.4,55.3 718.6,54.3 718.8,53.4 719.0,52.4 719.2,51.5 719.4,50.6 719.6,49.8 719.8,49.0 720.0,48.3 720.2,47.6 720.4,46.9 720.6,46.3 720.8,45.8 721.0,45.4 721.2,45.0 721.4,44.7 721.6,44.4 721.8,44.3 722.0,44.2 722.2,44.2 722.4,44.4 722.6,44.6 722.8,44.9 723.0,45.3 723.2,45.8 723.4,46.4 723.6,47.0 723.8,47.8 724.0,48.6 724.2,49.4 724.4,50.3 724.6,51.3 724.8,52.3 725.0,53.4 725.2,54.5 725.4,55.6 725.6,56.8 725.8,58.0 726.0,59.3 726.2,60.5 726.4,61.8 726.6,63.0 726.8,64.3 727.0,65.6 727.2,66.9 727.4,68.2 727.6,69.4 727.8,70.7 728.0,71.9 728.2,73.3 728.4,74.7 728.6,76.1 728.8,77.7 729.0,79.2 729.2,80.9 729.4,82.5 729.6,84.3 729.8,86.0 730.0,87.9 730.2,89.7 730.4,91.6 730.6,93.5 730.8,95.5 731.0,97.5 731.2,99.5 731.4,101.6 731.6,103.6 731.8,105.7 732.0,107.8 732.2,110.0 732.4,112.1 732.6,114.3 732.8,116.4 733.0,118.6 733.2,120.8 733.4,123.1 733.6,125.5 733.8,127.8 734.0,130.3 734.2,132.8 734.4,135.3 734.6,137.9 734.8,140.6 735.0,143.3 735.2,146.1 735.4,149.0 735.6,151.9 735.8,154.9 736.0,158.2 736.2,161.8 736.4,165.6 736.6,169.5 736.8,173.4 737.0,177.3 737.2,181.1 737.4,184.8 737.6,188.1 737.8,191.1 738.0,194.0 738.2,196.8 738.4,199.5 738.7,202.2 738.9,204.7 739.1,207.2 739.3,209.6 739.5,211.9 739.7,214.0 739.9,216.1 740.1,218.0 740.3,219.8 740.5,221.4 740.7,223.0 740.9,224.6 741.1,226.2 741.3,227.7 741.5,229.2 741.7,230.6 741.9,232.0 742.1,233.3 742.3,234.6 742.5,235.8 742.7,237.0 742.9,238.1 743.1,239.2 743.3,240.1 743.5,241.0 743.7,241.8 743.9,242.6 744.1,243.2 744.3,243.8 744.5,244.4 744.7,245.0 744.9,245.5 745.1,246.1 745.3,246.6 745.5,247.1 745.7,247.6 745.9,248.1 746.1,248.5 746.3,249.0 746.5,249.4 746.7,249.8 746.9,250.2 747.1,250.6 747.3,250.9 747.5,251.2 747.7,251.5 747.9,251.8 748.1,252.1 748.3,252.3 748.5,252.5 748.7,252.7 748.9,252.8 749.1,253.0 749.3,253.1 749.5,253.2 749.7,253.3 749.9,253.4 750.1,253.5 750.3,253.6 750.5,253.7 750.7,253.7 750.9,253.8 751.1,253.9 751.3,254.0 751.5,254.0 751.7,254.1 751.9,254.1 752.1,254.2 752.3,254.2 752.5,254.2 752.7,254.2 752.9,254.2 753.1,254.2 753.3,254.2 753.5,254.2 753.7,254.2 753.9,254.2 754.1,254.2 754.3,254.2 754.5,254.2 754.7,254.2 754.9,254.2 755.1,254.2 755.3,254.2 755.5,254.2 755.7,254.2 755.9,254.2 756.1,254.2 756.3,254.2 756.5,254.2 756.7,254.2 756.9,254.2 757.1,254.2 757.3,254.2 757.5,254.2 757.7,254.2 757.9,254.2 758.1,254.2 758.3,254.2 758.5,254.2 758.7,254.2 758.9,254.2 759.1,254.2 759.3,254.2 759.5,254.2 759.7,254.2 759.9,254.2 760.1,254.2 760.3,254.2 760.5,254.2 760.7,254.2 760.9,254.2 761.1,254.2 761.3,254.2 761.5,254.2 761.7,254.2 761.9,254.2 762.1,254.2 762.3,254.2 762.5,254.2 762.7,254.2 762.9,254.2 763.1,254.2 763.3,254.2 763.5,254.2 763.7,254.2 763.9,254.2 764.1,254.2 764.3,254.2 764.5,254.2 764.7,254.2 764.9,254.2 765.1,254.2 765.3,254.2 765.5,254.2 765.7,254.2 765.9,254.2 766.1,254.2 766.3,254.2 766.5,254.2 766.7,254.2 766.9,254.2 767.1,254.2 767.3,254.2 767.5,254.2 767.7,254.2 767.9,254.2 768.1,254.2 768.3,254.2 768.5,254.2 768.7,254.2 768.9,254.2 769.1,254.2 769.3,254.2 769.5,254.2 769.7,254.2 769.9,254.2 770.1,254.2 770.3,254.2 770.5,254.2 770.7,254.2 770.9,254.2 771.1,254.2 771.3,254.2 771.5,254.2 771.7,254.2 771.9,254.2 772.1,254.2 772.3,254.2 772.5,254.2 772.7,254.2 773.0,254.2 773.2,254.2 773.4,254.2 773.6,254.2 773.8,254.2 774.0,254.2 774.2,254.2 774.4,254.2 774.6,254.2 774.8,254.2 775.0,254.2 775.2,254.2 775.4,254.2 775.6,254.2 775.8,254.2 776.0,254.2 776.2,254.2 776.4,254.2 776.6,254.2 776.8,254.2 777.0,254.2 777.2,254.2 777.4,254.2 777.6,254.2 777.8,254.2 778.0,254.2 778.2,254.2 778.4,254.2 778.6,254.2 778.8,254.2 779.0,254.2 779.2,254.2 779.4,254.2 779.6,254.2 779.8,254.2 780.0,254.2 780.2,254.2 780.4,254.2 780.6,254.2 780.8,254.2 781.0,254.2 781.2,254.2 781.4,254.2 781.6,254.2 781.8,254.2 782.0,254.2 782.2,254.2 782.4,254.2 782.6,254.2 782.8,254.2 783.0,254.2 783.2,254.2 783.4,254.2 783.6,254.2 783.8,254.2 784.0,254.2 784.2,254.2 784.4,254.2 784.6,254.2 784.8,254.2 785.0,254.2 785.2,254.2 785.4,254.2 785.6,254.2 785.8,254.2 786.0,254.2 786.2,254.2 786.4,254.2 786.6,254.2 786.8,254.2 787.0,254.2 787.2,254.2 787.4,254.2 787.6,254.2 787.8,254.2 788.0,254.2 788.2,254.2 788.4,254.2 788.6,254.2 788.8,254.2 789.0,254.2 789.2,254.2 789.4,254.2 789.6,254.2 789.8,254.2 790.0,254.2" stroke="#56b4e9" stroke-width="1.0" fill="none" stroke-linejoin="round"/>
<polyline points="549.5,214.1 549.8,213.3 550.0,214.0 550.3,213.2 550.6,212.7 550.8,213.4 551.1,214.3 551.4,213.0 551.6,214.3 551.9,212.8 552.2,213.9 552.4,213.7 552.7,213.2 553.0,212.4 553.2,213.7 553.5,213.7 553.8,213.6 554.0,213.9 554.3,213.0 554.6,214.3 554.9,213.8 555.1,213.0 555.4,214.4 555.7,213.4 555.9,213.6 556.2,213.7 556.5,213.0 556.7,212.9 557.0,213.3 557.3,212.8 557.5,213.2 557.8,213.9 558.1,212.8 558.3,213.3 558.6,213.0 558.9,213.7 559.1,212.7 559.4,212.8 559.7,213.2 559.9,214.1 560.2,212.8 560.5,212.4 560.7,212.7 561.0,213.5 561.3,213.6 561.5,213.1 561.8,213.3 562.1,212.5 562.3,213.3 562.6,213.0 562.9,212.8 563.1,213.5 563.4,213.6 563.7,212.9 563.9,213.2 564.2,212.2 564.5,212.6 564.7,213.6 565.0,212.5 565.3,212.6 565.6,213.5 565.8,211.9 566.1,212.6 566.4,213.3 566.6,212.7 566.9,212.5 567.2,212.4 567.4,213.0 567.7,212.5 568.0,213.0 568.2,212.8 568.5,212.8 568.8,213.3 569.0,212.6 569.3,212.4 569.6,212.8 569.8,212.9 570.1,212.7 570.4,212.0 570.6,213.0 570.9,211.9 571.2,211.8 571.4,213.1 571.7,213.4 572.0,212.6 572.2,212.3 572.5,213.3 572.8,212.0 573.0,212.6 573.3,212.4 573.6,212.9 573.8,212.7 574.1,212.2 574.4,213.1 574.6,212.9 574.9,212.5 575.2,212.4 575.4,212.5 575.7,211.9 576.0,212.4 576.3,212.3 576.5,212.7 576.8,212.3 577.1,212.2 577.3,212.5 577.6,212.8 577.9,212.6 578.1,212.3 578.4,212.1 578.7,212.9 578.9,212.3 579.2,211.7 579.5,212.3 579.7,211.4 580.0,212.0 580.3,212.5 580.5,212.1 580.8,212.0 581.1,212.5 581.3,212.6 581.6,211.7 581.9,211.6 582.1,211.7 582.4,211.5 582.7,212.2 582.9,212.3 583.2,211.9 583.5,211.4 583.7,211.2 584.0,211.8 584.3,211.5 584.5,212.0 584.8,211.2 585.1,211.5 585.3,211.6 585.6,212.2 585.9,212.0 586.2,211.9 586.4,211.7 586.7,211.9 587.0,210.8 587.2,212.0 587.5,211.4 587.8,212.2 588.0,211.9 588.3,212.0 588.6,211.1 588.8,212.7 589.1,211.7 589.4,211.5 589.6,211.1 589.9,211.5 590.2,210.3 590.4,211.9 590.7,211.5 591.0,211.2 591.2,211.8 591.5,211.4 591.8,211.3 592.0,210.9 592.3,211.2 592.6,210.5 592.8,210.5 593.1,211.0 593.4,210.7 593.6,210.3 593.9,210.8 594.2,210.0 594.4,211.5 594.7,210.4 595.0,210.4 595.2,211.4 595.5,210.0 595.8,209.7 596.0,210.6 596.3,210.5 596.6,211.0 596.9,210.5 597.1,209.8 597.4,210.5 597.7,210.3 597.9,210.9 598.2,210.5 598.5,209.9 598.7,210.0 599.0,210.3 599.3,210.0 599.5,210.3 599.8,210.3 600.1,209.6 600.3,210.2 600.6,210.4 600.9,209.5 601.1,209.3 601.4,210.3 601.7,210.1 601.9,210.3 602.2,210.6 602.5,209.7 602.7,209.2 603.0,209.8 603.3,209.3 603.5,209.8 603.8,209.9 604.1,209.5 604.3,209.7 604.6,209.4 604.9,209.5 605.1,208.8 605.4,210.0 605.7,208.9 605.9,209.0 606.2,208.8 606.5,209.0 606.7,208.8 607.0,208.1 607.3,209.6 607.6,209.0 607.8,208.7 608.1,208.8 608.4,209.2 608.6,209.0 608.9,208.8 609.2,209.0 609.4,207.4 609.7,208.8 610.0,208.3 610.2,208.0 610.5,207.8 610.8,208.3 611.0,207.4 611.3,208.3 611.6,207.7 611.8,208.3 612.1,207.2 612.4,208.1 612.6,207.7 612.9,207.3 613.2,208.3 613.4,208.2 613.7,207.2 614.0,207.4 614.2,208.2 614.5,207.5 614.8,207.1 615.0,206.9 615.3,206.9 615.6,207.5 615.8,207.6 616.1,206.9 616.4,206.6 616.6,206.6 616.9,206.1 617.2,207.1 617.4,206.8 617.7,207.2 618.0,207.7 618.3,207.2 618.5,206.4 618.8,206.3 619.1,205.8 619.3,205.4 619.6,207.2 619.9,206.4 620.1,205.5 620.4,206.4 620.7,205.1 620.9,205.9 621.2,206.0 621.5,205.6 621.7,205.6 622.0,206.1 622.3,205.4 622.5,206.1 622.8,204.7 623.1,205.3 623.3,206.2 623.6,204.9 623.9,204.9 624.1,205.3 624.4,205.0 624.7,205.2 624.9,205.5 625.2,205.3 625.5,205.0 625.7,204.7 626.0,204.9 626.3,205.2 626.5,204.3 626.8,204.4 627.1,204.0 627.3,204.5 627.6,204.5 627.9,204.1 628.2,203.8 628.4,203.9 628.7,204.5 629.0,203.8 629.2,204.4 629.5,203.7 629.8,203.6 630.0,204.2 630.3,203.4 630.6,204.2 630.8,202.6 631.1,203.6 631.4,203.3 631.6,203.3 631.9,203.5 632.2,202.4 632.4,204.2 632.7,203.0 633.0,204.2 633.2,203.4 633.5,203.0 633.8,202.2 634.0,203.6 634.3,203.0 634.6,203.2 634.8,201.9 635.1,201.7 635.4,202.2 635.6,202.6 635.9,202.6 636.2,202.8 636.4,201.7 636.7,201.4 637.0,202.3 637.2,201.4 637.5,201.8 637.8,202.7 638.0,201.5 638.3,201.7 638.6,201.6 638.9,201.4 639.1,201.5 639.4,201.5 639.7,201.2 639.9,201.8 640.2,201.4 640.5,200.4 640.7,201.5 641.0,200.8 641.3,200.6 641.5,200.2 641.8,200.8 642.1,200.4 642.3,199.9 642.6,199.8 642.9,200.6 643.1,199.9 643.4,199.8 643.7,201.0 643.9,199.9 644.2,200.0 644.5,199.6 644.7,199.5 645.0,198.9 645.3,199.6 645.5,199.3 645.8,198.7 646.1,199.0 646.3,199.7 646.6,198.9 646.9,198.7 647.1,198.3 647.4,198.2 647.7,198.6 647.9,198.7 648.2,198.3 648.5,198.5 648.7,197.6 649.0,197.7 649.3,197.9 649.6,198.2 649.8,197.3 650.1,197.9 650.4,196.8 650.6,197.7 650.9,197.7 651.2,196.8 651.4,197.0 651.7,197.1 652.0,196.3 652.2,196.3 652.5,196.2 652.8,196.5 653.0,196.6 653.3,195.6 653.6,195.6 653.8,196.1 654.1,195.4 654.4,195.5 654.6,195.8 654.9,195.3 655.2,195.6 655.4,195.1 655.7,194.9 656.0,194.5 656.2,193.7 656.5,194.3 656.8,193.6 657.0,194.6 657.3,194.5 657.6,194.2 657.8,194.4 658.1,194.7 658.4,192.8 658.6,193.4 658.9,193.6 659.2,193.0 659.5,192.9 659.7,193.3 660.0,192.9 660.3,191.9 660.5,193.1 660.8,191.9 661.1,192.2 661.3,192.2 661.6,191.0 661.9,192.4 662.1,191.8 662.4,191.5 662.7,191.5 662.9,190.9 663.2,191.2 663.5,191.0 663.7,189.5 664.0,189.8 664.3,190.6 664.5,189.6 664.8,190.1 665.1,189.6 665.3,189.9 665.6,188.6 665.9,189.2 666.1,189.0 666.4,189.0 666.7,188.8 666.9,188.5 667.2,188.5 667.5,188.4 667.7,187.7 668.0,188.4 668.3,187.6 668.5,187.1 668.8,187.5 669.1,186.4 669.3,187.3 669.6,186.5 669.9,186.5 670.2,186.3 670.4,186.3 670.7,185.6 671.0,185.5 671.2,185.6 671.5,185.0 671.8,185.0 672.0,184.8 672.3,184.4 672.6,184.1 672.8,183.8 673.1,183.8 673.4,183.2 673.6,183.0 673.9,184.2 674.2,183.0 674.4,183.1 674.7,182.6 675.0,182.5 675.2,182.1 675.5,182.1 675.8,181.6 676.0,181.4 676.3,180.6 676.6,181.0 676.8,180.4 677.1,180.2 677.4,180.0 677.6,179.7 677.9,179.4 678.2,179.4 678.4,178.5 678.7,177.9 679.0,178.1 679.2,177.3 679.5,177.5 679.8,177.6 680.0,177.4 680.3,176.4 680.6,176.4 680.9,175.7 681.1,175.8 681.4,175.7 681.7,174.9 681.9,175.0 682.2,174.4 682.5,174.5 682.7,173.5 683.0,173.1 683.3,173.2 683.5,172.7 683.8,172.3 684.1,171.7 684.3,171.5 684.6,171.0 684.9,170.9 685.1,170.3 685.4,169.7 685.7,169.2 685.9,168.7 686.2,168.3 686.5,167.9 686.7,167.5 687.0,167.1 687.3,166.3 687.5,166.0 687.8,165.1 688.1,164.8 688.3,164.3 688.6,163.6 688.9,163.1 689.1,162.6 689.4,161.9 689.7,161.4 689.9,160.8 690.2,160.1 690.5,159.6 690.8,158.9 691.0,158.2 691.3,157.7 691.6,157.0 691.8,156.4 692.1,155.8 692.4,155.1 692.6,154.5 692.9,153.8 693.2,153.2 693.4,152.5 693.7,151.8 694.0,151.1 694.2,150.4 694.5,149.7 694.8,149.0 695.0,148.3 695.3,147.6 695.6,146.9 695.8,146.1 696.1,145.4 696.4,144.6 696.6,143.9 696.9,143.1 697.2,142.4 697.4,141.6 697.7,140.8 698.0,140.0 698.2,139.2 698.5,138.4 698.8,137.6 699.0,136.7 699.3,135.9 699.6,135.1 699.8,134.2 700.1,133.4 700.4,132.5 700.6,131.7 700.9,130.8 701.2,129.9 701.5,129.0 701.7,128.1 702.0,127.2 702.3,126.3 702.5,125.4 702.8,124.5 703.1,123.6 703.3,122.6 703.6,121.7 703.9,120.7 704.1,119.8 704.4,118.8 704.7,117.9 704.9,116.9 705.2,115.9 705.5,114.9 705.7,113.9 706.0,112.9 706.3,111.8 706.5,110.7 706.8,109.6 707.1,108.5 707.3,107.3 707.6,106.2 707.9,105.0 708.1,103.8 708.4,102.6 708.7,101.3 708.9,100.1 709.2,98.8 709.5,97.6 709.7,96.3 710.0,95.1 710.3,93.8 710.5,92.5 710.8,91.2 711.1,89.9 711.3,88.7 711.6,87.4 711.9,86.1 712.2,84.8 712.4,83.6 712.7,82.3 713.0,81.1 713.2,79.8 713.5,78.6 713.8,77.4 714.0,76.2 714.3,75.0 714.6,73.8 714.8,72.6 715.1,71.5 715.4,70.4 715.6,69.2 715.9,68.0 716.2,66.7 716.4,65.4 716.7,64.0 717.0,62.7 717.2,61.3 717.5,59.9 717.8,58.5 718.0,57.1 718.3,55.7 718.6,54.4 718.8,53.1 719.1,51.9 719.4,50.7 719.6,49.6 719.9,48.6 720.2,47.6 720.4,46.8 720.7,46.0 721.0,45.4 721.2,44.9 721.5,44.5 721.8,44.3 722.1,44.2 722.3,44.3 722.6,44.6 722.9,45.0 723.1,45.6 723.4,46.3 723.7,47.2 723.9,48.2 724.2,49.3 724.5,50.6 724.7,51.9 725.0,53.3 725.3,54.8 725.5,56.3 725.8,57.9 726.1,59.6 726.3,61.2 726.6,62.9 726.9,64.6 727.1,66.4 727.4,68.1 727.7,69.7 727.9,71.4 728.2,73.2 728.5,75.0 728.7,77.0 729.0,79.1 729.3,81.3 729.5,83.5 729.8,85.9 730.1,88.3 730.3,90.8 730.6,93.4 730.9,96.0 731.1,98.7 731.4,101.4 731.7,104.2 731.9,107.0 732.2,109.8 732.5,112.7 732.8,115.5 733.0,118.4 733.3,121.4 733.6,124.5 733.8,127.7 734.1,130.9 734.4,134.3 734.6,137.7 734.9,141.3 735.2,145.0 735.4,148.8 735.7,152.7 736.0,156.8 736.2,161.5 736.5,166.6 736.8,171.8 737.0,177.1 737.3,182.1 737.6,186.8 737.8,190.9 738.1,194.7 738.4,198.4 738.6,202.0 738.9,205.4 739.2,208.6 739.4,211.7 739.7,214.6 740.0,217.2 740.2,219.6 740.5,221.9 740.8,224.0 741.0,226.1 741.3,228.1 741.6,230.0 741.8,231.9 742.1,233.7 742.4,235.4 742.6,236.9 742.9,238.4 743.2,239.7 743.5,241.0 743.7,242.0 744.0,243.0 744.3,243.8 744.5,244.5 744.8,245.3 745.1,246.0 745.3,246.7 745.6,247.4 745.9,248.0 746.1,248.7 746.4,249.2 746.7,249.8 746.9,250.3 747.2,250.8 747.5,251.2 747.7,251.6 748.0,252.0 748.3,252.3 748.5,252.5 748.8,252.8 749.1,253.0 749.3,253.1 749.6,253.2 749.9,253.4 750.1,253.5 750.4,253.6 750.7,253.7 750.9,253.8 751.2,253.9 751.5,254.0 751.7,254.1 752.0,254.1 752.3,254.2 752.5,254.2 752.8,254.2 753.1,254.2 753.3,254.2 753.6,254.2 753.9,254.2 754.2,254.2 754.4,254.2 754.7,254.2 755.0,254.2 755.2,254.2 755.5,254.2 755.8,254.2 756.0,254.2 756.3,254.2 756.6,254.2 756.8,254.2 757.1,254.2 757.4,254.2 757.6,254.2 757.9,254.2 758.2,254.2 758.4,254.2 758.7,254.2 759.0,254.2 759.2,254.2 759.5,254.2 759.8,254.2 760.0,254.2 760.3,254.2 760.6,254.2 760.8,254.2 761.1,254.2 761.4,254.2 761.6,254.2 761.9,254.2 762.2,254.2 762.4,254.2 762.7,254.2 763.0,254.2 763.2,254.2 763.5,254.2 763.8,254.2 764.1,254.2 764.3,254.2 764.6,254.2 764.9,254.2 765.1,254.2 765.4,254.2 765.7,254.2 765.9,254.2 766.2,254.2 766.5,254.2 766.7,254.2 767.0,254.2 767.3,254.2 767.5,254.2 767.8,254.2 768.1,254.2 768.3,254.2 768.6,254.2 768.9,254.2 769.1,254.2 769.4,254.2 769.7,254.2 769.9,254.2 770.2,254.2 770.5,254.2 770.7,254.2 771.0,254.2 771.3,254.2 771.5,254.2 771.8,254.2 772.1,254.2 772.3,254.2 772.6,254.2 772.9,254.2 773.1,254.2 773.4,254.2 773.7,254.2 773.9,254.2 774.2,254.2 774.5,254.2 774.8,254.2 775.0,254.2 775.3,254.2 775.6,254.2 775.8,254.2 776.1,254.2 776.4,254.2 776.6,254.2 776.9,254.2 777.2,254.2 777.4,254.2 777.7,254.2 778.0,254.2 778.2,254.2 778.5,254.2 778.8,254.2 779.0,254.2 779.3,254.2 779.6,254.2 779.8,254.2 780.1,254.2 780.4,254.2 780.6,254.2 780.9,254.2 781.2,254.2 781.4,254.2 781.7,254.2 782.0,254.2 782.2,254.2 782.5,254.2 782.8,254.2 783.0,254.2 783.3,254.2 783.6,254.2 783.8,254.2 784.1,254.2 784.4,254.2 784.6,254.2 784.9,254.2 785.2,254.2 785.5,254.2 785.7,254.2 786.0,254.2 786.3,254.2 786.5,254.2 786.8,254.2 787.1,254.2 787.3,254.2 787.6,254.2 787.9,254.2 788.1,254.2 788.4,254.2 788.7,254.2 788.9,254.2 789.2,254.2 789.5,254.2 789.7,254.2 790.0,254.2" stroke="#e69f00" stroke-width="2.2" fill="none" stroke-linejoin="round"/>
</g>
<g stroke="#333" stroke-width="1" fill="none">
<rect x="549.5" y="28.2" width="240.5" height="226.0"/>
<path d="M549.5 254.2h5M790.0 254.2h-5M549.5 193.0h5M790.0 193.0h-5M549.5 131.9h5M790.0 131.9h-5M549.5 70.8h5M790.0 70.8h-5M549.5 254.2v-5M549.5 28.2v5M597.6 254.2v-5M597.6 28.2v5M645.7 254.2v-5M645.7 28.2v5M693.8 254.2v-5M693.8 28.2v5M741.9 254.2v-5M741.9 28.2v5M790.0 254.2v-5M790.0 28.2v5"/>
</g>
<g font-family="'Liberation Serif', serif" font-size="15.5" fill="#000">
<text x="540.5" y="259.8" text-anchor="end">0</text>
<text x="540.5" y="198.6" text-anchor="end">0.5</text>
<text x="540.5" y="137.5" text-anchor="end">1</text>
<text x="540.5" y="76.3" text-anchor="end">1.5</text>
<text x="549.5" y="276.6" text-anchor="middle">0</text>
<text x="597.6" y="276.6" text-anchor="middle">0.2</text>
<text x="645.7" y="276.6" text-anchor="middle">0.4</text>
<text x="693.8" y="276.6" text-anchor="middle">0.6</text>
<text x="741.9" y="276.6" text-anchor="middle">0.8</text>
<text x="790.0" y="276.6" text-anchor="middle">1</text>
<text x="564.3" y="62.6" font-size="15.5" font-style="italic">N</text>
<path d="M582.4 56.20H593.6" stroke="#000" stroke-width="0.9"/>
<path d="M582.4 59.80H593.6" stroke="#000" stroke-width="0.9"/>
<text x="599.3" y="62.6" font-size="15.5">256,</text>
<text x="646.6" y="62.6" font-size="15.5" text-anchor="end">B.</text>
<text x="564.3" y="82.6" font-size="15.5" font-style="italic">N</text>
<path d="M582.4 76.20H593.6" stroke="#000" stroke-width="0.9"/>
<path d="M582.4 79.80H593.6" stroke="#000" stroke-width="0.9"/>
<text x="599.3" y="82.6" font-size="15.5">256,</text>
<text x="646.6" y="82.6" font-size="15.5" text-anchor="end">.</text>
<text x="631.4" y="82.6" font-size="15.5" textLength="10.2" lengthAdjust="spacingAndGlyphs">T</text>
<text x="556.1" y="102.6" font-size="15.5" font-style="italic">N</text>
<path d="M574.2 96.20H585.4" stroke="#000" stroke-width="0.9"/>
<path d="M574.2 99.80H585.4" stroke="#000" stroke-width="0.9"/>
<text x="591.1" y="102.6" font-size="15.5">4096,</text>
<text x="646.6" y="102.6" font-size="15.5" text-anchor="end">B.</text>
<text x="556.1" y="122.8" font-size="15.5" font-style="italic">N</text>
<path d="M574.2 116.40H585.4" stroke="#000" stroke-width="0.9"/>
<path d="M574.2 120.00H585.4" stroke="#000" stroke-width="0.9"/>
<text x="591.1" y="122.8" font-size="15.5">4096,</text>
<text x="646.6" y="122.8" font-size="15.5" text-anchor="end">.</text>
<text x="631.4" y="122.8" font-size="15.5" textLength="10.2" lengthAdjust="spacingAndGlyphs">T</text>
</g>
<path d="M654.8 56.7H693.7" stroke="#9400d3" stroke-width="6.3"/>
<path d="M654.8 77H693.7" stroke="#009e73" stroke-width="1.6"/>
<path d="M654.8 97.1H693.7" stroke="#56b4e9" stroke-width="5.8"/>
<path d="M654.8 117.4H693.7" stroke="#e69f00" stroke-width="2.0"/>
</svg>
</body></html>
